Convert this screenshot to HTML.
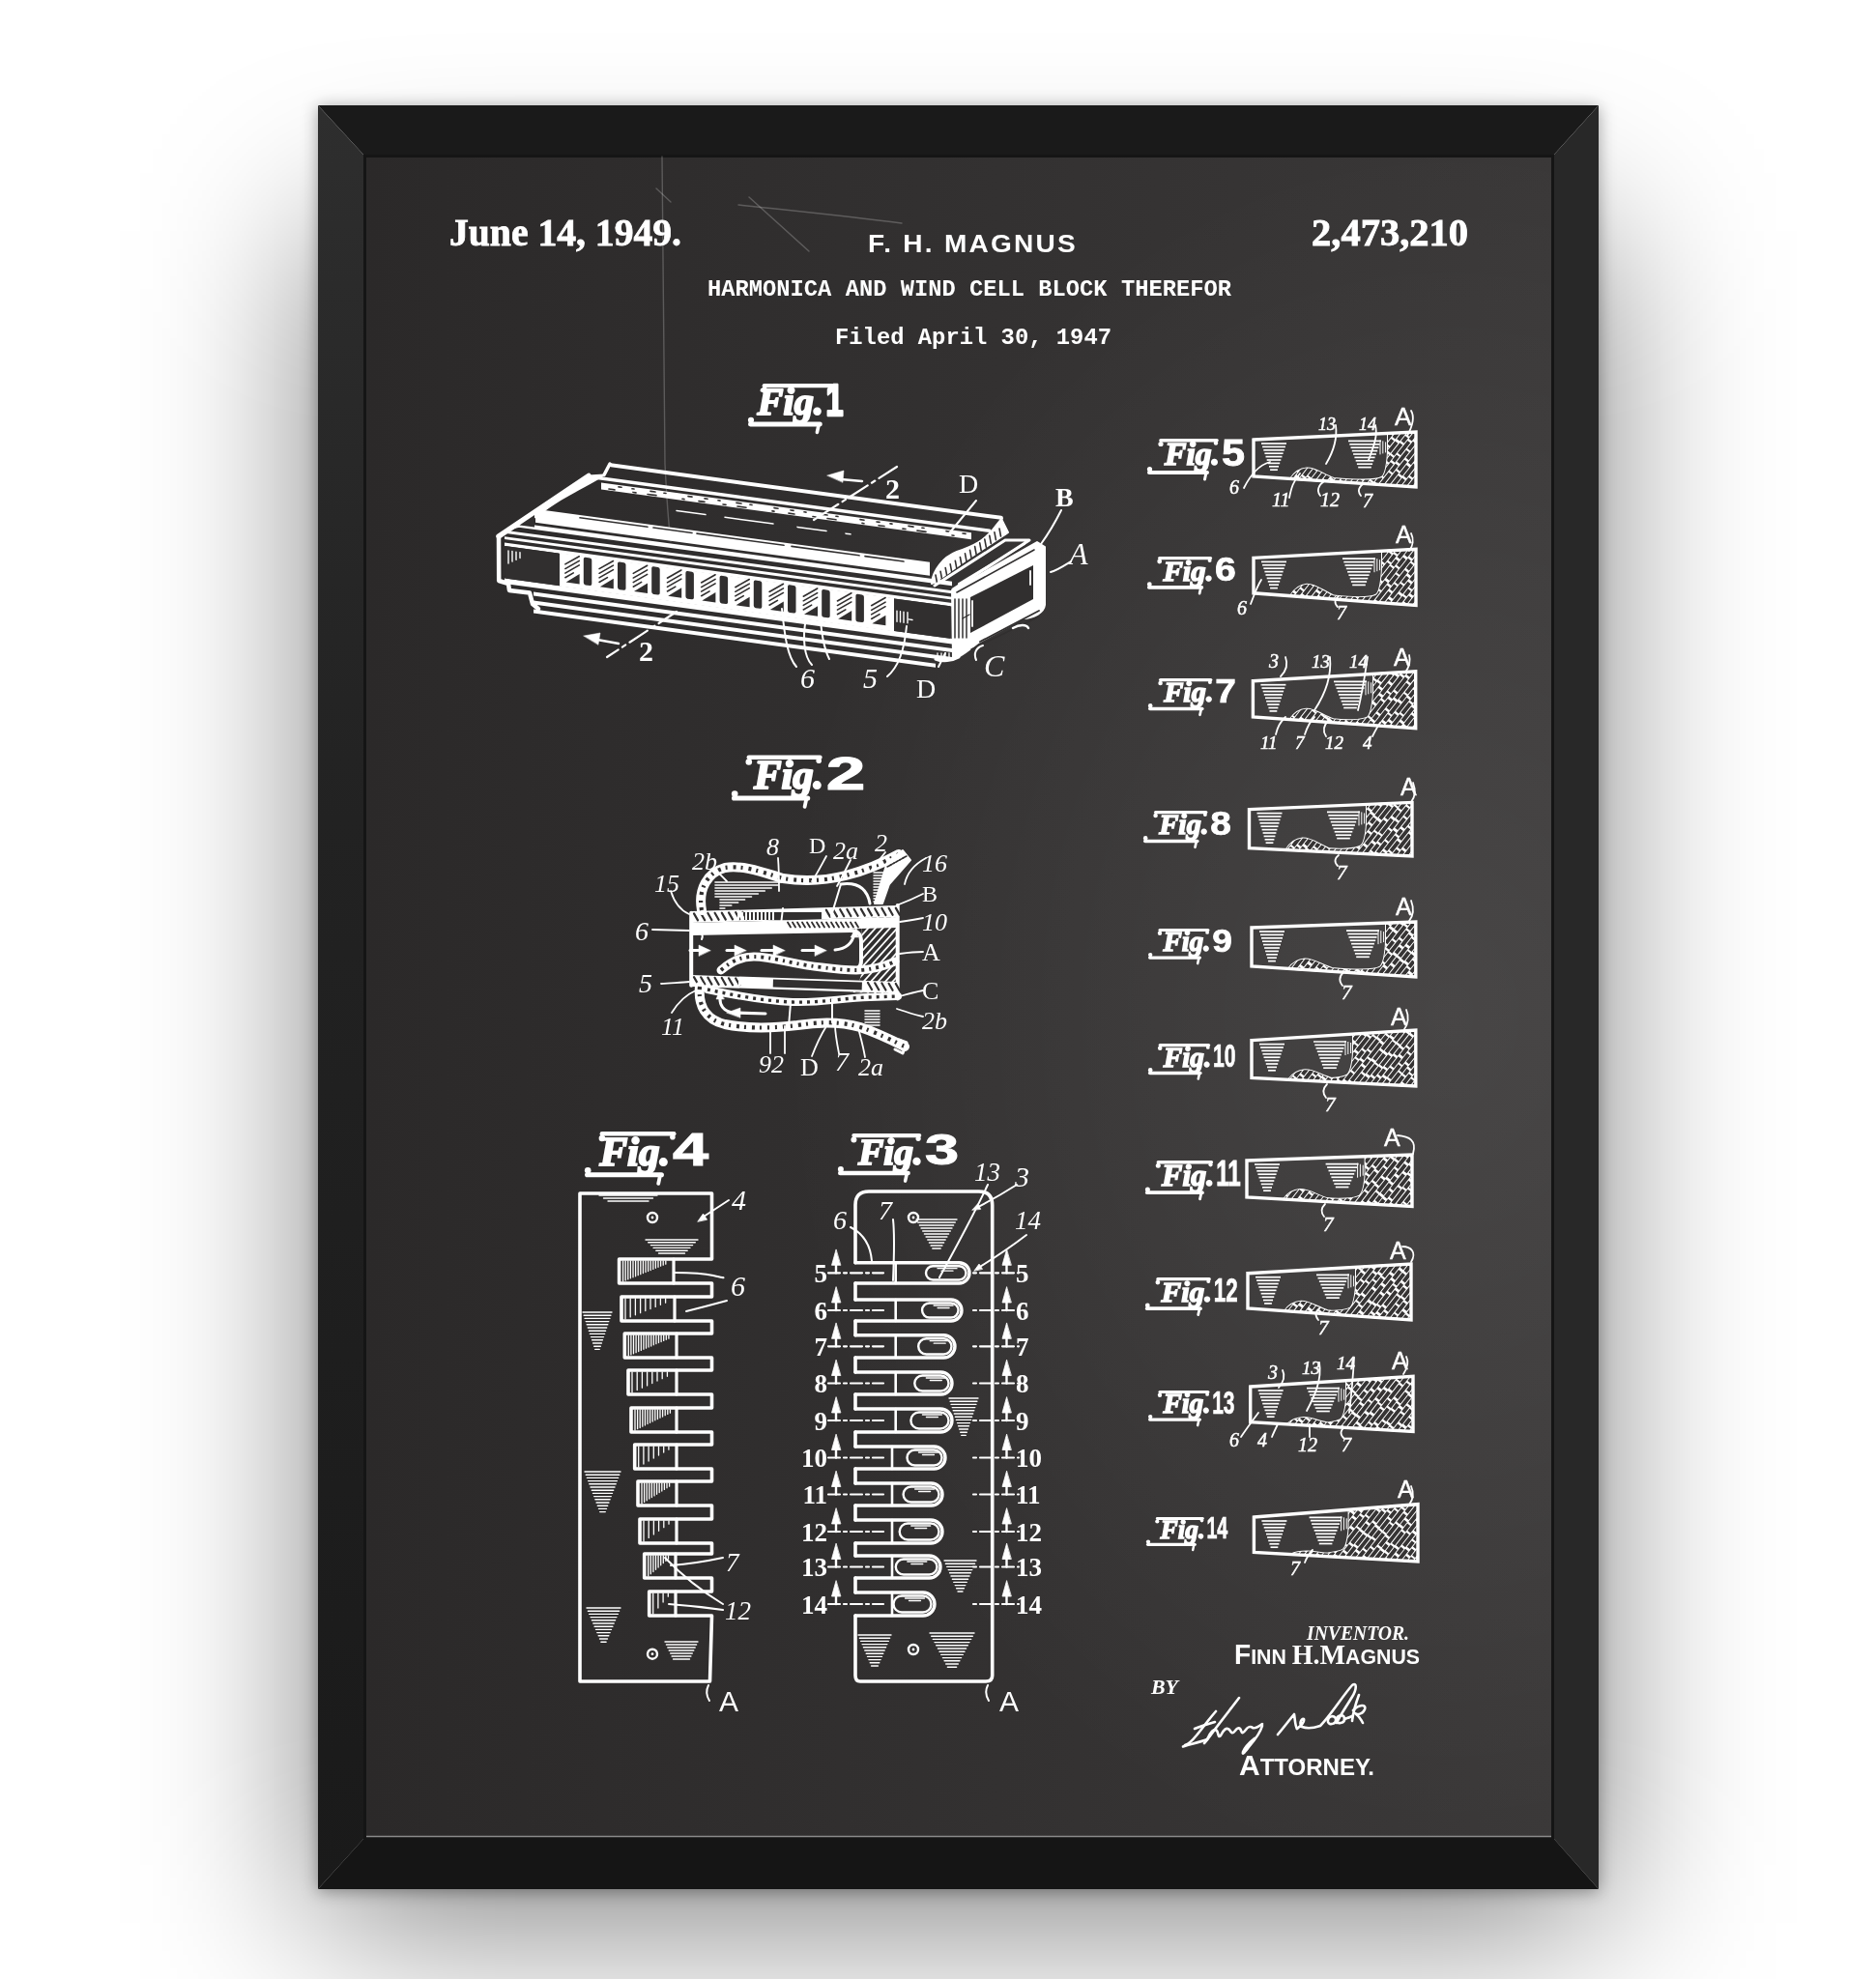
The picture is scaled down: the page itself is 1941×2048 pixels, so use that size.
<!DOCTYPE html>
<html><head><meta charset="utf-8">
<style>
html,body{margin:0;padding:0;}
body{width:1941px;height:2048px;overflow:hidden;position:relative;background:#fdfdfd;font-family:"Liberation Sans",sans-serif;}
#bgshade{position:absolute;left:0;top:0;width:1941px;height:2048px;
 background:#ffffff;}
#sh0{position:absolute;left:329px;top:239px;width:1325px;height:1751px;
 background:rgba(0,0,0,0.5);filter:blur(90px);}
#sh1{position:absolute;left:329px;top:109px;width:1325px;height:1846px;
 box-shadow:0 2px 16px 0 rgba(0,0,0,0.36);}
svg{position:absolute;left:0;top:0;will-change:transform;}
</style></head>
<body>
<div id="bgshade"></div>
<div id="sh0"></div>
<div id="sh1"></div>
<svg width="1941" height="2048" viewBox="0 0 1941 2048">
<defs>
 <linearGradient id="bd" x1="0" y1="0" x2="1" y2="0">
  <stop offset="0" stop-color="#2b2929"/>
  <stop offset="1" stop-color="#3a3838"/>
 </linearGradient>
 <radialGradient id="bump" gradientUnits="userSpaceOnUse" cx="1500" cy="1050" r="700" gradientTransform="translate(1500 1050) scale(1 1.3) translate(-1500 -1050)">
  <stop offset="0" stop-color="#fff" stop-opacity="0.075"/>
  <stop offset="0.5" stop-color="#fff" stop-opacity="0.04"/>
  <stop offset="1" stop-color="#fff" stop-opacity="0"/>
 </radialGradient>
 <linearGradient id="lb" x1="0" y1="0" x2="0" y2="1">
  <stop offset="0" stop-color="#2e2e2e"/>
  <stop offset="0.4" stop-color="#222"/>
  <stop offset="1" stop-color="#1a1a1a"/>
 </linearGradient>
</defs>
<polygon points="329,109 1654,109 1607,161 377,161" fill="#1a1a1a"/>
<polygon points="329,109 377,161 377,1902 329,1955" fill="url(#lb)"/>
<polygon points="1654,109 1607,161 1607,1902 1654,1955" fill="#282828"/>
<polygon points="329,1955 377,1902 1607,1902 1654,1955" fill="#151515"/>
<rect x="377" y="161" width="1230" height="1741" fill="url(#bd)"/>
<rect x="377" y="161" width="1230" height="1741" fill="url(#bump)"/>
<rect x="377.5" y="161.5" width="1229" height="1740" fill="none" stroke="#151515" stroke-width="3"/>
<line x1="379" y1="1900.5" x2="1605" y2="1900.5" stroke="#8a8a8a" stroke-width="1.5"/>
<g fill="none" stroke="#fff" stroke-opacity="0.22" stroke-width="1.4" stroke-linecap="round">
 <path d="M685,162 C686,260 687,380 688,480 C690,520 692,545 694,560"/>
 <path d="M679,195 L694,209"/>
 <path d="M764,212 C820,218 880,224 933,231"/>
 <path d="M775,204 C795,222 815,240 837,260"/>
</g>
<g fill="#fff" stroke="none">
 <text x="465" y="254" font-family="Liberation Serif" font-weight="bold" font-size="40" stroke="#fff" stroke-width="0.8" textLength="240" lengthAdjust="spacingAndGlyphs">June 14, 1949.</text>
 <text x="1357" y="254" font-family="Liberation Serif" font-weight="bold" font-size="40" stroke="#fff" stroke-width="0.8" textLength="162" lengthAdjust="spacingAndGlyphs">2,473,210</text>
 <text x="898" y="261" font-family="Liberation Sans" font-weight="bold" font-size="25" textLength="217" lengthAdjust="spacingAndGlyphs" letter-spacing="2">F. H. MAGNUS</text>
 <text x="732" y="306" font-family="Liberation Mono" font-weight="bold" font-size="23" textLength="542" lengthAdjust="spacingAndGlyphs">HARMONICA AND WIND CELL BLOCK THEREFOR</text>
 <text x="864" y="356" font-family="Liberation Mono" font-weight="bold" font-size="23" textLength="286" lengthAdjust="spacingAndGlyphs">Filed April 30, 1947</text>
</g>
<g stroke="#fff" fill="#fff">
<g fill="none">
<clipPath id="c1297_455"><path d="M1436.0,448.4 L1465.0,447.0 L1465.0,504.0 L1335.0,495.5 C1339.0,489.2 1345.0,485.0 1352.0,484.5 C1360.0,483.9 1368.0,490.3 1380.0,494.9 C1406.0,497.1 1424.0,497.3 1430.0,493.7 C1435.0,490.1 1436.0,469.3 1436.0,465.5 Z"/></clipPath>
<path d="M1436.0,448.4 L1465.0,447.0 L1465.0,504.0 L1335.0,495.5 C1339.0,489.2 1345.0,485.0 1352.0,484.5 C1360.0,483.9 1368.0,490.3 1380.0,494.9 C1406.0,497.1 1424.0,497.3 1430.0,493.7 C1435.0,490.1 1436.0,469.3 1436.0,465.5 Z" fill="#fff" stroke="#fff" stroke-width="2"/>
<g clip-path="url(#c1297_455)">
<line x1="1242.6" y1="510.0" x2="1297.6" y2="440.0" stroke="#363434" stroke-width="3.9" stroke-dasharray="12.7,2.0,10.5,3.0" stroke-dashoffset="25.0"/>
<line x1="1248.8" y1="510.0" x2="1303.8" y2="440.0" stroke="#363434" stroke-width="3.9" stroke-dasharray="12.7,2.2,13.6,2.7" stroke-dashoffset="3.7"/>
<line x1="1255.0" y1="510.0" x2="1310.0" y2="440.0" stroke="#363434" stroke-width="3.9" stroke-dasharray="12.4,2.8,10.0,2.9" stroke-dashoffset="26.5"/>
<line x1="1261.2" y1="510.0" x2="1316.2" y2="440.0" stroke="#363434" stroke-width="3.9" stroke-dasharray="16.5,2.5,11.7,2.1" stroke-dashoffset="15.0"/>
<line x1="1267.4" y1="510.0" x2="1322.4" y2="440.0" stroke="#363434" stroke-width="3.9" stroke-dasharray="19.7,3.0,8.2,2.7" stroke-dashoffset="14.2"/>
<line x1="1273.6" y1="510.0" x2="1328.6" y2="440.0" stroke="#363434" stroke-width="3.9" stroke-dasharray="16.8,2.6,8.1,3.0" stroke-dashoffset="15.0"/>
<line x1="1279.8" y1="510.0" x2="1334.8" y2="440.0" stroke="#363434" stroke-width="3.9" stroke-dasharray="16.4,2.6,9.2,2.0" stroke-dashoffset="18.2"/>
<line x1="1286.0" y1="510.0" x2="1341.0" y2="440.0" stroke="#363434" stroke-width="3.9" stroke-dasharray="14.9,2.8,10.8,2.7" stroke-dashoffset="8.6"/>
<line x1="1292.2" y1="510.0" x2="1347.2" y2="440.0" stroke="#363434" stroke-width="3.9" stroke-dasharray="13.6,2.6,9.4,2.9" stroke-dashoffset="15.0"/>
<line x1="1298.4" y1="510.0" x2="1353.4" y2="440.0" stroke="#363434" stroke-width="3.9" stroke-dasharray="16.1,2.2,11.5,2.9" stroke-dashoffset="13.5"/>
<line x1="1304.6" y1="510.0" x2="1359.6" y2="440.0" stroke="#363434" stroke-width="3.9" stroke-dasharray="17.1,2.1,9.2,2.5" stroke-dashoffset="17.0"/>
<line x1="1310.8" y1="510.0" x2="1365.8" y2="440.0" stroke="#363434" stroke-width="3.9" stroke-dasharray="17.7,2.4,6.1,2.6" stroke-dashoffset="29.4"/>
<line x1="1317.0" y1="510.0" x2="1372.0" y2="440.0" stroke="#363434" stroke-width="3.9" stroke-dasharray="18.4,2.6,6.1,2.9" stroke-dashoffset="17.4"/>
<line x1="1323.2" y1="510.0" x2="1378.2" y2="440.0" stroke="#363434" stroke-width="3.9" stroke-dasharray="12.5,2.2,8.3,2.3" stroke-dashoffset="9.3"/>
<line x1="1329.4" y1="510.0" x2="1384.4" y2="440.0" stroke="#363434" stroke-width="3.9" stroke-dasharray="13.7,2.5,6.6,3.0" stroke-dashoffset="29.4"/>
<line x1="1335.6" y1="510.0" x2="1390.6" y2="440.0" stroke="#363434" stroke-width="3.9" stroke-dasharray="14.1,2.2,7.8,2.3" stroke-dashoffset="4.0"/>
<line x1="1341.8" y1="510.0" x2="1396.8" y2="440.0" stroke="#363434" stroke-width="3.9" stroke-dasharray="12.1,2.2,8.7,2.5" stroke-dashoffset="18.3"/>
<line x1="1348.0" y1="510.0" x2="1403.0" y2="440.0" stroke="#363434" stroke-width="3.9" stroke-dasharray="14.8,2.2,12.7,2.9" stroke-dashoffset="15.5"/>
<line x1="1354.2" y1="510.0" x2="1409.2" y2="440.0" stroke="#363434" stroke-width="3.9" stroke-dasharray="17.0,2.5,11.2,2.6" stroke-dashoffset="21.4"/>
<line x1="1360.4" y1="510.0" x2="1415.4" y2="440.0" stroke="#363434" stroke-width="3.9" stroke-dasharray="12.2,2.5,11.5,2.1" stroke-dashoffset="11.2"/>
<line x1="1366.6" y1="510.0" x2="1421.6" y2="440.0" stroke="#363434" stroke-width="3.9" stroke-dasharray="18.9,2.8,6.7,2.1" stroke-dashoffset="2.5"/>
<line x1="1372.8" y1="510.0" x2="1427.8" y2="440.0" stroke="#363434" stroke-width="3.9" stroke-dasharray="16.9,2.5,10.0,3.0" stroke-dashoffset="18.6"/>
<line x1="1379.0" y1="510.0" x2="1434.0" y2="440.0" stroke="#363434" stroke-width="3.9" stroke-dasharray="16.6,2.6,11.1,2.1" stroke-dashoffset="3.3"/>
<line x1="1385.2" y1="510.0" x2="1440.2" y2="440.0" stroke="#363434" stroke-width="3.9" stroke-dasharray="14.5,2.0,10.0,2.5" stroke-dashoffset="23.7"/>
<line x1="1391.4" y1="510.0" x2="1446.4" y2="440.0" stroke="#363434" stroke-width="3.9" stroke-dasharray="15.2,2.7,6.4,2.3" stroke-dashoffset="17.9"/>
<line x1="1397.6" y1="510.0" x2="1452.6" y2="440.0" stroke="#363434" stroke-width="3.9" stroke-dasharray="15.2,2.1,6.7,2.3" stroke-dashoffset="6.8"/>
<line x1="1403.8" y1="510.0" x2="1458.8" y2="440.0" stroke="#363434" stroke-width="3.9" stroke-dasharray="12.5,2.6,12.6,2.9" stroke-dashoffset="22.3"/>
<line x1="1410.0" y1="510.0" x2="1465.0" y2="440.0" stroke="#363434" stroke-width="3.9" stroke-dasharray="14.2,2.3,6.7,2.1" stroke-dashoffset="25.7"/>
<line x1="1416.2" y1="510.0" x2="1471.2" y2="440.0" stroke="#363434" stroke-width="3.9" stroke-dasharray="16.4,2.4,7.5,2.0" stroke-dashoffset="5.8"/>
<line x1="1422.4" y1="510.0" x2="1477.4" y2="440.0" stroke="#363434" stroke-width="3.9" stroke-dasharray="15.3,2.0,9.4,2.6" stroke-dashoffset="19.0"/>
<line x1="1428.6" y1="510.0" x2="1483.6" y2="440.0" stroke="#363434" stroke-width="3.9" stroke-dasharray="17.7,2.1,12.3,2.4" stroke-dashoffset="24.5"/>
<line x1="1434.8" y1="510.0" x2="1489.8" y2="440.0" stroke="#363434" stroke-width="3.9" stroke-dasharray="14.8,2.4,11.5,2.9" stroke-dashoffset="25.1"/>
<line x1="1441.0" y1="510.0" x2="1496.0" y2="440.0" stroke="#363434" stroke-width="3.9" stroke-dasharray="16.5,2.8,12.7,2.4" stroke-dashoffset="13.8"/>
<line x1="1447.2" y1="510.0" x2="1502.2" y2="440.0" stroke="#363434" stroke-width="3.9" stroke-dasharray="12.5,2.2,10.8,2.3" stroke-dashoffset="21.4"/>
<line x1="1453.4" y1="510.0" x2="1508.4" y2="440.0" stroke="#363434" stroke-width="3.9" stroke-dasharray="12.1,2.4,11.8,2.5" stroke-dashoffset="21.7"/>
<line x1="1459.6" y1="510.0" x2="1514.6" y2="440.0" stroke="#363434" stroke-width="3.9" stroke-dasharray="15.8,2.8,11.9,2.1" stroke-dashoffset="13.6"/>
<line x1="1465.8" y1="510.0" x2="1520.8" y2="440.0" stroke="#363434" stroke-width="3.9" stroke-dasharray="16.9,2.7,7.9,2.1" stroke-dashoffset="5.5"/>
<line x1="1472.0" y1="510.0" x2="1527.0" y2="440.0" stroke="#363434" stroke-width="3.9" stroke-dasharray="17.5,3.0,10.2,2.8" stroke-dashoffset="9.0"/>
<line x1="1478.2" y1="510.0" x2="1533.2" y2="440.0" stroke="#363434" stroke-width="3.9" stroke-dasharray="14.9,2.4,11.9,2.7" stroke-dashoffset="15.7"/>
<line x1="1484.4" y1="510.0" x2="1539.4" y2="440.0" stroke="#363434" stroke-width="3.9" stroke-dasharray="18.2,2.2,9.0,2.8" stroke-dashoffset="1.0"/>
<line x1="1490.6" y1="510.0" x2="1545.6" y2="440.0" stroke="#363434" stroke-width="3.9" stroke-dasharray="19.3,2.8,8.6,2.5" stroke-dashoffset="5.2"/>
<line x1="1496.8" y1="510.0" x2="1551.8" y2="440.0" stroke="#363434" stroke-width="3.9" stroke-dasharray="17.0,2.3,10.0,2.2" stroke-dashoffset="10.6"/>
<line x1="1503.0" y1="510.0" x2="1558.0" y2="440.0" stroke="#363434" stroke-width="3.9" stroke-dasharray="18.9,2.3,11.4,2.6" stroke-dashoffset="16.2"/>
<line x1="1509.2" y1="510.0" x2="1564.2" y2="440.0" stroke="#363434" stroke-width="3.9" stroke-dasharray="15.6,2.9,11.9,2.3" stroke-dashoffset="27.1"/>
<line x1="1515.4" y1="510.0" x2="1570.4" y2="440.0" stroke="#363434" stroke-width="3.9" stroke-dasharray="19.7,2.0,10.1,2.0" stroke-dashoffset="20.5"/>
<line x1="1521.6" y1="510.0" x2="1576.6" y2="440.0" stroke="#363434" stroke-width="3.9" stroke-dasharray="16.6,2.7,11.9,2.6" stroke-dashoffset="10.2"/>
<line x1="1527.8" y1="510.0" x2="1582.8" y2="440.0" stroke="#363434" stroke-width="3.9" stroke-dasharray="16.1,2.9,8.4,2.8" stroke-dashoffset="9.1"/>
<line x1="1534.0" y1="510.0" x2="1589.0" y2="440.0" stroke="#363434" stroke-width="3.9" stroke-dasharray="17.3,2.5,12.7,2.5" stroke-dashoffset="22.0"/>
<line x1="1540.2" y1="510.0" x2="1595.2" y2="440.0" stroke="#363434" stroke-width="3.9" stroke-dasharray="15.8,2.0,12.1,2.1" stroke-dashoffset="7.2"/>
<line x1="1546.4" y1="510.0" x2="1601.4" y2="440.0" stroke="#363434" stroke-width="3.9" stroke-dasharray="12.9,2.5,10.7,2.3" stroke-dashoffset="19.2"/>
<line x1="1552.6" y1="510.0" x2="1607.6" y2="440.0" stroke="#363434" stroke-width="3.9" stroke-dasharray="12.9,2.4,11.3,2.4" stroke-dashoffset="4.7"/>
<line x1="1558.8" y1="510.0" x2="1613.8" y2="440.0" stroke="#363434" stroke-width="3.9" stroke-dasharray="12.2,2.7,6.1,2.4" stroke-dashoffset="20.8"/>
</g>
<line x1="1305.0" y1="459.0" x2="1331.0" y2="459.0" stroke-width="1.7" />
<line x1="1306.1" y1="462.4" x2="1329.9" y2="462.4" stroke-width="1.7" />
<line x1="1307.3" y1="465.8" x2="1328.7" y2="465.8" stroke-width="1.7" />
<line x1="1308.4" y1="469.2" x2="1327.6" y2="469.2" stroke-width="1.7" />
<line x1="1309.5" y1="472.6" x2="1326.5" y2="472.6" stroke-width="1.7" />
<line x1="1310.7" y1="476.0" x2="1325.3" y2="476.0" stroke-width="1.7" />
<line x1="1311.8" y1="479.4" x2="1324.2" y2="479.4" stroke-width="1.7" />
<line x1="1313.0" y1="482.8" x2="1323.0" y2="482.8" stroke-width="1.7" />
<line x1="1314.1" y1="486.2" x2="1321.9" y2="486.2" stroke-width="1.7" />
<line x1="1395.0" y1="456.4" x2="1429.0" y2="456.4" stroke-width="1.7" />
<line x1="1396.3" y1="459.8" x2="1427.7" y2="459.8" stroke-width="1.7" />
<line x1="1397.5" y1="463.2" x2="1426.5" y2="463.2" stroke-width="1.7" />
<line x1="1398.8" y1="466.6" x2="1425.2" y2="466.6" stroke-width="1.7" />
<line x1="1400.1" y1="470.0" x2="1423.9" y2="470.0" stroke-width="1.7" />
<line x1="1401.4" y1="473.4" x2="1422.6" y2="473.4" stroke-width="1.7" />
<line x1="1402.7" y1="476.8" x2="1421.3" y2="476.8" stroke-width="1.7" />
<line x1="1403.9" y1="480.2" x2="1420.1" y2="480.2" stroke-width="1.7" />
<line x1="1405.2" y1="483.6" x2="1418.8" y2="483.6" stroke-width="1.7" />
<line x1="1428.0" y1="455.4" x2="1428.0" y2="470.4" stroke-width="1.0" />
<line x1="1430.8" y1="456.4" x2="1430.8" y2="469.4" stroke-width="1.0" />
<line x1="1433.6" y1="457.4" x2="1433.6" y2="468.4" stroke-width="1.0" />
<polygon points="1297.0,455.0 1465.0,447.0 1465.0,504.0 1297.0,493.0" stroke-width="3.4" fill="none" />
<clipPath id="c1297_577"><path d="M1430.0,570.2 L1465.0,568.3 L1465.0,626.5 L1335.0,616.7 C1339.0,609.8 1345.0,605.3 1352.0,604.7 C1360.0,604.1 1368.0,611.1 1380.0,616.6 C1400.0,618.6 1418.0,618.9 1424.0,615.4 C1429.0,611.9 1430.0,590.2 1430.0,586.6 Z"/></clipPath>
<path d="M1430.0,570.2 L1465.0,568.3 L1465.0,626.5 L1335.0,616.7 C1339.0,609.8 1345.0,605.3 1352.0,604.7 C1360.0,604.1 1368.0,611.1 1380.0,616.6 C1400.0,618.6 1418.0,618.9 1424.0,615.4 C1429.0,611.9 1430.0,590.2 1430.0,586.6 Z" fill="#fff" stroke="#fff" stroke-width="2"/>
<g clip-path="url(#c1297_577)">
<line x1="1242.6" y1="632.5" x2="1297.6" y2="562.5" stroke="#363434" stroke-width="3.9" stroke-dasharray="15.1,2.8,7.9,2.4" stroke-dashoffset="18.8"/>
<line x1="1248.8" y1="632.5" x2="1303.8" y2="562.5" stroke="#363434" stroke-width="3.9" stroke-dasharray="19.4,2.9,6.7,2.5" stroke-dashoffset="7.7"/>
<line x1="1255.0" y1="632.5" x2="1310.0" y2="562.5" stroke="#363434" stroke-width="3.9" stroke-dasharray="12.4,2.2,13.2,2.0" stroke-dashoffset="16.3"/>
<line x1="1261.2" y1="632.5" x2="1316.2" y2="562.5" stroke="#363434" stroke-width="3.9" stroke-dasharray="17.5,2.1,10.8,2.5" stroke-dashoffset="0.2"/>
<line x1="1267.4" y1="632.5" x2="1322.4" y2="562.5" stroke="#363434" stroke-width="3.9" stroke-dasharray="19.5,2.8,9.9,2.6" stroke-dashoffset="21.3"/>
<line x1="1273.6" y1="632.5" x2="1328.6" y2="562.5" stroke="#363434" stroke-width="3.9" stroke-dasharray="19.0,2.5,9.4,2.9" stroke-dashoffset="11.6"/>
<line x1="1279.8" y1="632.5" x2="1334.8" y2="562.5" stroke="#363434" stroke-width="3.9" stroke-dasharray="14.5,2.4,12.8,2.9" stroke-dashoffset="6.5"/>
<line x1="1286.0" y1="632.5" x2="1341.0" y2="562.5" stroke="#363434" stroke-width="3.9" stroke-dasharray="16.5,2.2,13.3,2.3" stroke-dashoffset="10.2"/>
<line x1="1292.2" y1="632.5" x2="1347.2" y2="562.5" stroke="#363434" stroke-width="3.9" stroke-dasharray="16.0,2.5,6.7,2.9" stroke-dashoffset="26.4"/>
<line x1="1298.4" y1="632.5" x2="1353.4" y2="562.5" stroke="#363434" stroke-width="3.9" stroke-dasharray="14.2,2.4,6.5,2.1" stroke-dashoffset="21.3"/>
<line x1="1304.6" y1="632.5" x2="1359.6" y2="562.5" stroke="#363434" stroke-width="3.9" stroke-dasharray="19.2,2.6,11.5,2.9" stroke-dashoffset="28.2"/>
<line x1="1310.8" y1="632.5" x2="1365.8" y2="562.5" stroke="#363434" stroke-width="3.9" stroke-dasharray="16.2,2.1,12.5,2.2" stroke-dashoffset="19.1"/>
<line x1="1317.0" y1="632.5" x2="1372.0" y2="562.5" stroke="#363434" stroke-width="3.9" stroke-dasharray="18.4,2.4,13.3,2.6" stroke-dashoffset="7.5"/>
<line x1="1323.2" y1="632.5" x2="1378.2" y2="562.5" stroke="#363434" stroke-width="3.9" stroke-dasharray="17.4,2.1,9.0,2.7" stroke-dashoffset="4.3"/>
<line x1="1329.4" y1="632.5" x2="1384.4" y2="562.5" stroke="#363434" stroke-width="3.9" stroke-dasharray="12.8,2.4,10.0,2.1" stroke-dashoffset="24.8"/>
<line x1="1335.6" y1="632.5" x2="1390.6" y2="562.5" stroke="#363434" stroke-width="3.9" stroke-dasharray="12.6,2.1,6.1,2.4" stroke-dashoffset="24.6"/>
<line x1="1341.8" y1="632.5" x2="1396.8" y2="562.5" stroke="#363434" stroke-width="3.9" stroke-dasharray="16.6,2.0,13.0,2.1" stroke-dashoffset="14.1"/>
<line x1="1348.0" y1="632.5" x2="1403.0" y2="562.5" stroke="#363434" stroke-width="3.9" stroke-dasharray="19.7,2.6,6.6,2.6" stroke-dashoffset="4.6"/>
<line x1="1354.2" y1="632.5" x2="1409.2" y2="562.5" stroke="#363434" stroke-width="3.9" stroke-dasharray="15.2,2.8,9.6,2.2" stroke-dashoffset="10.3"/>
<line x1="1360.4" y1="632.5" x2="1415.4" y2="562.5" stroke="#363434" stroke-width="3.9" stroke-dasharray="12.0,2.6,10.1,2.7" stroke-dashoffset="10.6"/>
<line x1="1366.6" y1="632.5" x2="1421.6" y2="562.5" stroke="#363434" stroke-width="3.9" stroke-dasharray="18.4,2.3,10.9,2.5" stroke-dashoffset="5.5"/>
<line x1="1372.8" y1="632.5" x2="1427.8" y2="562.5" stroke="#363434" stroke-width="3.9" stroke-dasharray="14.9,2.0,13.9,2.2" stroke-dashoffset="26.8"/>
<line x1="1379.0" y1="632.5" x2="1434.0" y2="562.5" stroke="#363434" stroke-width="3.9" stroke-dasharray="15.2,2.8,12.2,2.9" stroke-dashoffset="24.9"/>
<line x1="1385.2" y1="632.5" x2="1440.2" y2="562.5" stroke="#363434" stroke-width="3.9" stroke-dasharray="15.6,2.2,13.7,2.4" stroke-dashoffset="20.4"/>
<line x1="1391.4" y1="632.5" x2="1446.4" y2="562.5" stroke="#363434" stroke-width="3.9" stroke-dasharray="12.8,2.4,11.3,2.4" stroke-dashoffset="8.4"/>
<line x1="1397.6" y1="632.5" x2="1452.6" y2="562.5" stroke="#363434" stroke-width="3.9" stroke-dasharray="19.1,2.2,8.6,2.2" stroke-dashoffset="20.2"/>
<line x1="1403.8" y1="632.5" x2="1458.8" y2="562.5" stroke="#363434" stroke-width="3.9" stroke-dasharray="16.9,2.1,7.3,2.8" stroke-dashoffset="17.3"/>
<line x1="1410.0" y1="632.5" x2="1465.0" y2="562.5" stroke="#363434" stroke-width="3.9" stroke-dasharray="14.9,2.3,10.4,2.8" stroke-dashoffset="18.8"/>
<line x1="1416.2" y1="632.5" x2="1471.2" y2="562.5" stroke="#363434" stroke-width="3.9" stroke-dasharray="18.9,2.5,12.0,2.0" stroke-dashoffset="21.6"/>
<line x1="1422.4" y1="632.5" x2="1477.4" y2="562.5" stroke="#363434" stroke-width="3.9" stroke-dasharray="15.9,2.5,7.0,2.1" stroke-dashoffset="18.4"/>
<line x1="1428.6" y1="632.5" x2="1483.6" y2="562.5" stroke="#363434" stroke-width="3.9" stroke-dasharray="17.3,2.0,8.2,2.9" stroke-dashoffset="12.7"/>
<line x1="1434.8" y1="632.5" x2="1489.8" y2="562.5" stroke="#363434" stroke-width="3.9" stroke-dasharray="14.4,2.7,13.5,2.7" stroke-dashoffset="26.3"/>
<line x1="1441.0" y1="632.5" x2="1496.0" y2="562.5" stroke="#363434" stroke-width="3.9" stroke-dasharray="15.1,2.2,7.2,2.1" stroke-dashoffset="23.1"/>
<line x1="1447.2" y1="632.5" x2="1502.2" y2="562.5" stroke="#363434" stroke-width="3.9" stroke-dasharray="19.7,2.4,7.6,2.9" stroke-dashoffset="10.8"/>
<line x1="1453.4" y1="632.5" x2="1508.4" y2="562.5" stroke="#363434" stroke-width="3.9" stroke-dasharray="17.0,2.8,8.2,2.2" stroke-dashoffset="25.4"/>
<line x1="1459.6" y1="632.5" x2="1514.6" y2="562.5" stroke="#363434" stroke-width="3.9" stroke-dasharray="16.6,2.6,11.6,2.5" stroke-dashoffset="1.7"/>
<line x1="1465.8" y1="632.5" x2="1520.8" y2="562.5" stroke="#363434" stroke-width="3.9" stroke-dasharray="13.1,2.3,9.5,2.4" stroke-dashoffset="5.3"/>
<line x1="1472.0" y1="632.5" x2="1527.0" y2="562.5" stroke="#363434" stroke-width="3.9" stroke-dasharray="16.5,2.2,11.5,2.1" stroke-dashoffset="18.4"/>
<line x1="1478.2" y1="632.5" x2="1533.2" y2="562.5" stroke="#363434" stroke-width="3.9" stroke-dasharray="19.2,2.4,12.2,2.7" stroke-dashoffset="28.9"/>
<line x1="1484.4" y1="632.5" x2="1539.4" y2="562.5" stroke="#363434" stroke-width="3.9" stroke-dasharray="13.0,3.0,13.2,2.9" stroke-dashoffset="17.5"/>
<line x1="1490.6" y1="632.5" x2="1545.6" y2="562.5" stroke="#363434" stroke-width="3.9" stroke-dasharray="13.0,2.9,12.1,2.8" stroke-dashoffset="13.8"/>
<line x1="1496.8" y1="632.5" x2="1551.8" y2="562.5" stroke="#363434" stroke-width="3.9" stroke-dasharray="19.5,2.1,13.0,2.4" stroke-dashoffset="4.2"/>
<line x1="1503.0" y1="632.5" x2="1558.0" y2="562.5" stroke="#363434" stroke-width="3.9" stroke-dasharray="17.7,2.4,7.3,2.6" stroke-dashoffset="25.4"/>
<line x1="1509.2" y1="632.5" x2="1564.2" y2="562.5" stroke="#363434" stroke-width="3.9" stroke-dasharray="17.4,2.7,6.9,2.8" stroke-dashoffset="24.5"/>
<line x1="1515.4" y1="632.5" x2="1570.4" y2="562.5" stroke="#363434" stroke-width="3.9" stroke-dasharray="16.3,2.4,10.2,2.3" stroke-dashoffset="27.1"/>
<line x1="1521.6" y1="632.5" x2="1576.6" y2="562.5" stroke="#363434" stroke-width="3.9" stroke-dasharray="15.2,2.7,10.9,2.7" stroke-dashoffset="17.5"/>
<line x1="1527.8" y1="632.5" x2="1582.8" y2="562.5" stroke="#363434" stroke-width="3.9" stroke-dasharray="18.8,2.4,6.7,2.8" stroke-dashoffset="20.0"/>
<line x1="1534.0" y1="632.5" x2="1589.0" y2="562.5" stroke="#363434" stroke-width="3.9" stroke-dasharray="14.7,2.0,13.9,2.0" stroke-dashoffset="2.7"/>
<line x1="1540.2" y1="632.5" x2="1595.2" y2="562.5" stroke="#363434" stroke-width="3.9" stroke-dasharray="14.9,2.3,8.6,2.1" stroke-dashoffset="7.9"/>
<line x1="1546.4" y1="632.5" x2="1601.4" y2="562.5" stroke="#363434" stroke-width="3.9" stroke-dasharray="16.7,2.4,8.5,2.3" stroke-dashoffset="9.9"/>
<line x1="1552.6" y1="632.5" x2="1607.6" y2="562.5" stroke="#363434" stroke-width="3.9" stroke-dasharray="16.6,2.5,8.7,2.8" stroke-dashoffset="28.2"/>
<line x1="1558.8" y1="632.5" x2="1613.8" y2="562.5" stroke="#363434" stroke-width="3.9" stroke-dasharray="16.3,2.8,6.8,2.8" stroke-dashoffset="3.0"/>
</g>
<line x1="1305.0" y1="581.4" x2="1331.0" y2="581.4" stroke-width="1.7" />
<line x1="1306.1" y1="584.8" x2="1329.9" y2="584.8" stroke-width="1.7" />
<line x1="1307.3" y1="588.2" x2="1328.7" y2="588.2" stroke-width="1.7" />
<line x1="1308.4" y1="591.6" x2="1327.6" y2="591.6" stroke-width="1.7" />
<line x1="1309.5" y1="595.0" x2="1326.5" y2="595.0" stroke-width="1.7" />
<line x1="1310.7" y1="598.4" x2="1325.3" y2="598.4" stroke-width="1.7" />
<line x1="1311.8" y1="601.8" x2="1324.2" y2="601.8" stroke-width="1.7" />
<line x1="1313.0" y1="605.2" x2="1323.0" y2="605.2" stroke-width="1.7" />
<line x1="1314.1" y1="608.6" x2="1321.9" y2="608.6" stroke-width="1.7" />
<line x1="1389.0" y1="578.2" x2="1423.0" y2="578.2" stroke-width="1.7" />
<line x1="1390.3" y1="581.6" x2="1421.7" y2="581.6" stroke-width="1.7" />
<line x1="1391.5" y1="585.0" x2="1420.5" y2="585.0" stroke-width="1.7" />
<line x1="1392.8" y1="588.4" x2="1419.2" y2="588.4" stroke-width="1.7" />
<line x1="1394.1" y1="591.8" x2="1417.9" y2="591.8" stroke-width="1.7" />
<line x1="1395.4" y1="595.2" x2="1416.6" y2="595.2" stroke-width="1.7" />
<line x1="1396.7" y1="598.6" x2="1415.3" y2="598.6" stroke-width="1.7" />
<line x1="1397.9" y1="602.0" x2="1414.1" y2="602.0" stroke-width="1.7" />
<line x1="1399.2" y1="605.4" x2="1412.8" y2="605.4" stroke-width="1.7" />
<line x1="1422.0" y1="577.2" x2="1422.0" y2="592.2" stroke-width="1.0" />
<line x1="1424.8" y1="578.2" x2="1424.8" y2="591.2" stroke-width="1.0" />
<line x1="1427.6" y1="579.2" x2="1427.6" y2="590.2" stroke-width="1.0" />
<polygon points="1297.0,577.4 1465.0,568.3 1465.0,626.5 1297.0,613.8" stroke-width="3.4" fill="none" />
<clipPath id="c1296_704"><path d="M1421.0,697.3 L1464.7,694.7 L1464.7,753.8 L1334.4,744.7 C1338.4,738.4 1344.4,734.2 1351.4,733.7 C1359.4,733.1 1367.4,739.6 1379.4,744.3 C1391.0,745.6 1409.0,745.9 1415.0,742.3 C1420.0,738.7 1421.0,717.8 1421.0,714.1 Z"/></clipPath>
<path d="M1421.0,697.3 L1464.7,694.7 L1464.7,753.8 L1334.4,744.7 C1338.4,738.4 1344.4,734.2 1351.4,733.7 C1359.4,733.1 1367.4,739.6 1379.4,744.3 C1391.0,745.6 1409.0,745.9 1415.0,742.3 C1420.0,738.7 1421.0,717.8 1421.0,714.1 Z" fill="#fff" stroke="#fff" stroke-width="2"/>
<g clip-path="url(#c1296_704)">
<line x1="1242.0" y1="759.8" x2="1297.0" y2="689.8" stroke="#363434" stroke-width="3.9" stroke-dasharray="15.1,2.9,6.4,2.5" stroke-dashoffset="27.4"/>
<line x1="1248.2" y1="759.8" x2="1303.2" y2="689.8" stroke="#363434" stroke-width="3.9" stroke-dasharray="18.0,2.2,13.7,2.6" stroke-dashoffset="0.5"/>
<line x1="1254.4" y1="759.8" x2="1309.4" y2="689.8" stroke="#363434" stroke-width="3.9" stroke-dasharray="13.3,2.5,9.8,2.4" stroke-dashoffset="0.1"/>
<line x1="1260.6" y1="759.8" x2="1315.6" y2="689.8" stroke="#363434" stroke-width="3.9" stroke-dasharray="18.3,2.2,10.8,2.5" stroke-dashoffset="24.3"/>
<line x1="1266.8" y1="759.8" x2="1321.8" y2="689.8" stroke="#363434" stroke-width="3.9" stroke-dasharray="13.4,2.5,8.7,2.2" stroke-dashoffset="23.3"/>
<line x1="1273.0" y1="759.8" x2="1328.0" y2="689.8" stroke="#363434" stroke-width="3.9" stroke-dasharray="13.2,2.8,7.5,2.1" stroke-dashoffset="0.5"/>
<line x1="1279.2" y1="759.8" x2="1334.2" y2="689.8" stroke="#363434" stroke-width="3.9" stroke-dasharray="19.0,2.9,9.8,2.1" stroke-dashoffset="6.1"/>
<line x1="1285.4" y1="759.8" x2="1340.4" y2="689.8" stroke="#363434" stroke-width="3.9" stroke-dasharray="17.2,2.6,8.8,2.1" stroke-dashoffset="21.3"/>
<line x1="1291.6" y1="759.8" x2="1346.6" y2="689.8" stroke="#363434" stroke-width="3.9" stroke-dasharray="13.9,3.0,9.4,2.5" stroke-dashoffset="8.9"/>
<line x1="1297.8" y1="759.8" x2="1352.8" y2="689.8" stroke="#363434" stroke-width="3.9" stroke-dasharray="14.6,2.9,12.0,2.1" stroke-dashoffset="27.0"/>
<line x1="1304.0" y1="759.8" x2="1359.0" y2="689.8" stroke="#363434" stroke-width="3.9" stroke-dasharray="18.4,2.2,6.3,2.2" stroke-dashoffset="3.8"/>
<line x1="1310.2" y1="759.8" x2="1365.2" y2="689.8" stroke="#363434" stroke-width="3.9" stroke-dasharray="17.2,2.2,13.8,2.5" stroke-dashoffset="18.6"/>
<line x1="1316.4" y1="759.8" x2="1371.4" y2="689.8" stroke="#363434" stroke-width="3.9" stroke-dasharray="15.2,2.6,8.4,2.7" stroke-dashoffset="18.4"/>
<line x1="1322.6" y1="759.8" x2="1377.6" y2="689.8" stroke="#363434" stroke-width="3.9" stroke-dasharray="18.7,2.1,7.0,2.0" stroke-dashoffset="4.9"/>
<line x1="1328.8" y1="759.8" x2="1383.8" y2="689.8" stroke="#363434" stroke-width="3.9" stroke-dasharray="19.5,3.0,12.0,2.2" stroke-dashoffset="19.0"/>
<line x1="1335.0" y1="759.8" x2="1390.0" y2="689.8" stroke="#363434" stroke-width="3.9" stroke-dasharray="16.5,2.9,13.9,2.5" stroke-dashoffset="14.6"/>
<line x1="1341.2" y1="759.8" x2="1396.2" y2="689.8" stroke="#363434" stroke-width="3.9" stroke-dasharray="14.7,2.1,13.3,2.8" stroke-dashoffset="18.7"/>
<line x1="1347.4" y1="759.8" x2="1402.4" y2="689.8" stroke="#363434" stroke-width="3.9" stroke-dasharray="15.4,2.2,12.1,2.8" stroke-dashoffset="0.5"/>
<line x1="1353.6" y1="759.8" x2="1408.6" y2="689.8" stroke="#363434" stroke-width="3.9" stroke-dasharray="17.2,2.4,11.2,2.3" stroke-dashoffset="7.2"/>
<line x1="1359.8" y1="759.8" x2="1414.8" y2="689.8" stroke="#363434" stroke-width="3.9" stroke-dasharray="12.8,2.6,7.9,2.6" stroke-dashoffset="18.8"/>
<line x1="1366.0" y1="759.8" x2="1421.0" y2="689.8" stroke="#363434" stroke-width="3.9" stroke-dasharray="18.9,2.5,8.2,2.3" stroke-dashoffset="2.5"/>
<line x1="1372.2" y1="759.8" x2="1427.2" y2="689.8" stroke="#363434" stroke-width="3.9" stroke-dasharray="16.2,2.5,11.9,2.9" stroke-dashoffset="27.9"/>
<line x1="1378.4" y1="759.8" x2="1433.4" y2="689.8" stroke="#363434" stroke-width="3.9" stroke-dasharray="17.8,2.3,8.5,2.3" stroke-dashoffset="9.2"/>
<line x1="1384.6" y1="759.8" x2="1439.6" y2="689.8" stroke="#363434" stroke-width="3.9" stroke-dasharray="18.7,2.2,13.6,2.6" stroke-dashoffset="4.3"/>
<line x1="1390.8" y1="759.8" x2="1445.8" y2="689.8" stroke="#363434" stroke-width="3.9" stroke-dasharray="16.9,2.2,13.6,2.6" stroke-dashoffset="8.7"/>
<line x1="1397.0" y1="759.8" x2="1452.0" y2="689.8" stroke="#363434" stroke-width="3.9" stroke-dasharray="12.8,2.9,8.1,2.9" stroke-dashoffset="0.7"/>
<line x1="1403.2" y1="759.8" x2="1458.2" y2="689.8" stroke="#363434" stroke-width="3.9" stroke-dasharray="20.0,2.4,7.9,2.2" stroke-dashoffset="9.2"/>
<line x1="1409.4" y1="759.8" x2="1464.4" y2="689.8" stroke="#363434" stroke-width="3.9" stroke-dasharray="17.2,2.7,6.5,2.5" stroke-dashoffset="0.8"/>
<line x1="1415.6" y1="759.8" x2="1470.6" y2="689.8" stroke="#363434" stroke-width="3.9" stroke-dasharray="19.4,2.5,10.9,2.7" stroke-dashoffset="24.3"/>
<line x1="1421.8" y1="759.8" x2="1476.8" y2="689.8" stroke="#363434" stroke-width="3.9" stroke-dasharray="14.3,2.9,7.6,2.1" stroke-dashoffset="26.7"/>
<line x1="1428.0" y1="759.8" x2="1483.0" y2="689.8" stroke="#363434" stroke-width="3.9" stroke-dasharray="18.1,2.7,8.0,2.4" stroke-dashoffset="2.6"/>
<line x1="1434.2" y1="759.8" x2="1489.2" y2="689.8" stroke="#363434" stroke-width="3.9" stroke-dasharray="13.5,2.1,13.5,2.1" stroke-dashoffset="4.2"/>
<line x1="1440.4" y1="759.8" x2="1495.4" y2="689.8" stroke="#363434" stroke-width="3.9" stroke-dasharray="17.1,2.9,11.1,2.8" stroke-dashoffset="16.4"/>
<line x1="1446.6" y1="759.8" x2="1501.6" y2="689.8" stroke="#363434" stroke-width="3.9" stroke-dasharray="12.2,2.6,8.4,2.7" stroke-dashoffset="13.8"/>
<line x1="1452.8" y1="759.8" x2="1507.8" y2="689.8" stroke="#363434" stroke-width="3.9" stroke-dasharray="16.2,2.0,11.8,2.2" stroke-dashoffset="28.8"/>
<line x1="1459.0" y1="759.8" x2="1514.0" y2="689.8" stroke="#363434" stroke-width="3.9" stroke-dasharray="19.5,2.6,12.8,2.4" stroke-dashoffset="15.2"/>
<line x1="1465.2" y1="759.8" x2="1520.2" y2="689.8" stroke="#363434" stroke-width="3.9" stroke-dasharray="13.8,2.4,7.5,2.6" stroke-dashoffset="10.4"/>
<line x1="1471.4" y1="759.8" x2="1526.4" y2="689.8" stroke="#363434" stroke-width="3.9" stroke-dasharray="14.4,2.2,10.9,2.6" stroke-dashoffset="6.8"/>
<line x1="1477.6" y1="759.8" x2="1532.6" y2="689.8" stroke="#363434" stroke-width="3.9" stroke-dasharray="18.7,2.9,6.4,2.8" stroke-dashoffset="17.5"/>
<line x1="1483.8" y1="759.8" x2="1538.8" y2="689.8" stroke="#363434" stroke-width="3.9" stroke-dasharray="12.8,2.7,10.6,2.9" stroke-dashoffset="19.3"/>
<line x1="1490.0" y1="759.8" x2="1545.0" y2="689.8" stroke="#363434" stroke-width="3.9" stroke-dasharray="18.7,2.1,7.0,2.4" stroke-dashoffset="0.7"/>
<line x1="1496.2" y1="759.8" x2="1551.2" y2="689.8" stroke="#363434" stroke-width="3.9" stroke-dasharray="19.7,2.1,13.7,2.1" stroke-dashoffset="8.3"/>
<line x1="1502.4" y1="759.8" x2="1557.4" y2="689.8" stroke="#363434" stroke-width="3.9" stroke-dasharray="19.6,2.7,13.9,2.9" stroke-dashoffset="4.1"/>
<line x1="1508.6" y1="759.8" x2="1563.6" y2="689.8" stroke="#363434" stroke-width="3.9" stroke-dasharray="12.8,2.5,7.8,2.8" stroke-dashoffset="5.3"/>
<line x1="1514.8" y1="759.8" x2="1569.8" y2="689.8" stroke="#363434" stroke-width="3.9" stroke-dasharray="14.3,2.2,11.7,2.2" stroke-dashoffset="14.1"/>
<line x1="1521.0" y1="759.8" x2="1576.0" y2="689.8" stroke="#363434" stroke-width="3.9" stroke-dasharray="16.6,3.0,13.0,2.4" stroke-dashoffset="24.1"/>
<line x1="1527.2" y1="759.8" x2="1582.2" y2="689.8" stroke="#363434" stroke-width="3.9" stroke-dasharray="13.7,2.7,10.5,2.4" stroke-dashoffset="21.1"/>
<line x1="1533.4" y1="759.8" x2="1588.4" y2="689.8" stroke="#363434" stroke-width="3.9" stroke-dasharray="14.3,2.9,8.8,2.6" stroke-dashoffset="20.8"/>
<line x1="1539.6" y1="759.8" x2="1594.6" y2="689.8" stroke="#363434" stroke-width="3.9" stroke-dasharray="14.0,2.7,11.5,2.1" stroke-dashoffset="11.4"/>
<line x1="1545.8" y1="759.8" x2="1600.8" y2="689.8" stroke="#363434" stroke-width="3.9" stroke-dasharray="12.9,2.7,13.9,2.1" stroke-dashoffset="2.9"/>
<line x1="1552.0" y1="759.8" x2="1607.0" y2="689.8" stroke="#363434" stroke-width="3.9" stroke-dasharray="18.7,2.5,10.9,2.5" stroke-dashoffset="22.5"/>
<line x1="1558.2" y1="759.8" x2="1613.2" y2="689.8" stroke="#363434" stroke-width="3.9" stroke-dasharray="17.1,2.0,9.1,2.9" stroke-dashoffset="24.0"/>
</g>
<line x1="1304.4" y1="708.7" x2="1330.4" y2="708.7" stroke-width="1.7" />
<line x1="1305.5" y1="712.1" x2="1329.3" y2="712.1" stroke-width="1.7" />
<line x1="1306.7" y1="715.5" x2="1328.1" y2="715.5" stroke-width="1.7" />
<line x1="1307.8" y1="718.9" x2="1327.0" y2="718.9" stroke-width="1.7" />
<line x1="1309.0" y1="722.3" x2="1325.9" y2="722.3" stroke-width="1.7" />
<line x1="1310.1" y1="725.7" x2="1324.7" y2="725.7" stroke-width="1.7" />
<line x1="1311.2" y1="729.1" x2="1323.6" y2="729.1" stroke-width="1.7" />
<line x1="1312.4" y1="732.5" x2="1322.4" y2="732.5" stroke-width="1.7" />
<line x1="1313.5" y1="735.9" x2="1321.3" y2="735.9" stroke-width="1.7" />
<line x1="1380.0" y1="705.3" x2="1414.0" y2="705.3" stroke-width="1.7" />
<line x1="1381.3" y1="708.7" x2="1412.7" y2="708.7" stroke-width="1.7" />
<line x1="1382.5" y1="712.1" x2="1411.5" y2="712.1" stroke-width="1.7" />
<line x1="1383.8" y1="715.5" x2="1410.2" y2="715.5" stroke-width="1.7" />
<line x1="1385.1" y1="718.9" x2="1408.9" y2="718.9" stroke-width="1.7" />
<line x1="1386.4" y1="722.3" x2="1407.6" y2="722.3" stroke-width="1.7" />
<line x1="1387.7" y1="725.7" x2="1406.3" y2="725.7" stroke-width="1.7" />
<line x1="1388.9" y1="729.1" x2="1405.1" y2="729.1" stroke-width="1.7" />
<line x1="1390.2" y1="732.5" x2="1403.8" y2="732.5" stroke-width="1.7" />
<line x1="1413.0" y1="704.3" x2="1413.0" y2="719.3" stroke-width="1.0" />
<line x1="1415.8" y1="705.3" x2="1415.8" y2="718.3" stroke-width="1.0" />
<line x1="1418.6" y1="706.3" x2="1418.6" y2="717.3" stroke-width="1.0" />
<polygon points="1296.4,704.7 1464.7,694.7 1464.7,753.8 1296.4,742.0" stroke-width="3.4" fill="none" />
<clipPath id="c1292_837"><path d="M1414.0,832.4 L1461.0,830.4 L1461.0,886.0 L1330.5,879.6 C1334.5,872.7 1340.5,868.2 1347.5,867.6 C1355.5,867.0 1363.5,873.2 1375.5,878.3 C1384.0,879.2 1402.0,879.1 1408.0,875.4 C1413.0,871.7 1414.0,854.5 1414.0,850.5 Z"/></clipPath>
<path d="M1414.0,832.4 L1461.0,830.4 L1461.0,886.0 L1330.5,879.6 C1334.5,872.7 1340.5,868.2 1347.5,867.6 C1355.5,867.0 1363.5,873.2 1375.5,878.3 C1384.0,879.2 1402.0,879.1 1408.0,875.4 C1413.0,871.7 1414.0,854.5 1414.0,850.5 Z" fill="#fff" stroke="#fff" stroke-width="2"/>
<g clip-path="url(#c1292_837)">
<line x1="1238.1" y1="892.0" x2="1293.1" y2="822.0" stroke="#363434" stroke-width="3.9" stroke-dasharray="15.1,2.3,6.1,2.8" stroke-dashoffset="19.3"/>
<line x1="1244.3" y1="892.0" x2="1299.3" y2="822.0" stroke="#363434" stroke-width="3.9" stroke-dasharray="17.9,2.8,10.1,2.2" stroke-dashoffset="5.5"/>
<line x1="1250.5" y1="892.0" x2="1305.5" y2="822.0" stroke="#363434" stroke-width="3.9" stroke-dasharray="15.8,2.3,7.0,2.8" stroke-dashoffset="24.0"/>
<line x1="1256.7" y1="892.0" x2="1311.7" y2="822.0" stroke="#363434" stroke-width="3.9" stroke-dasharray="12.3,2.8,10.5,2.1" stroke-dashoffset="6.7"/>
<line x1="1262.9" y1="892.0" x2="1317.9" y2="822.0" stroke="#363434" stroke-width="3.9" stroke-dasharray="19.2,2.5,7.8,2.2" stroke-dashoffset="8.0"/>
<line x1="1269.1" y1="892.0" x2="1324.1" y2="822.0" stroke="#363434" stroke-width="3.9" stroke-dasharray="13.1,2.2,11.5,2.2" stroke-dashoffset="0.6"/>
<line x1="1275.3" y1="892.0" x2="1330.3" y2="822.0" stroke="#363434" stroke-width="3.9" stroke-dasharray="13.9,2.1,11.6,2.4" stroke-dashoffset="22.1"/>
<line x1="1281.5" y1="892.0" x2="1336.5" y2="822.0" stroke="#363434" stroke-width="3.9" stroke-dasharray="20.0,2.8,6.8,2.3" stroke-dashoffset="29.2"/>
<line x1="1287.7" y1="892.0" x2="1342.7" y2="822.0" stroke="#363434" stroke-width="3.9" stroke-dasharray="14.9,2.4,13.1,2.1" stroke-dashoffset="15.3"/>
<line x1="1293.9" y1="892.0" x2="1348.9" y2="822.0" stroke="#363434" stroke-width="3.9" stroke-dasharray="17.6,2.9,6.5,2.7" stroke-dashoffset="26.0"/>
<line x1="1300.1" y1="892.0" x2="1355.1" y2="822.0" stroke="#363434" stroke-width="3.9" stroke-dasharray="18.6,2.8,7.0,3.0" stroke-dashoffset="21.3"/>
<line x1="1306.3" y1="892.0" x2="1361.3" y2="822.0" stroke="#363434" stroke-width="3.9" stroke-dasharray="13.1,2.4,8.4,2.4" stroke-dashoffset="8.1"/>
<line x1="1312.5" y1="892.0" x2="1367.5" y2="822.0" stroke="#363434" stroke-width="3.9" stroke-dasharray="19.8,2.9,13.9,2.9" stroke-dashoffset="0.6"/>
<line x1="1318.7" y1="892.0" x2="1373.7" y2="822.0" stroke="#363434" stroke-width="3.9" stroke-dasharray="15.1,2.5,7.1,2.2" stroke-dashoffset="16.6"/>
<line x1="1324.9" y1="892.0" x2="1379.9" y2="822.0" stroke="#363434" stroke-width="3.9" stroke-dasharray="16.8,2.8,10.6,2.1" stroke-dashoffset="11.3"/>
<line x1="1331.1" y1="892.0" x2="1386.1" y2="822.0" stroke="#363434" stroke-width="3.9" stroke-dasharray="17.6,2.7,9.9,2.5" stroke-dashoffset="10.9"/>
<line x1="1337.3" y1="892.0" x2="1392.3" y2="822.0" stroke="#363434" stroke-width="3.9" stroke-dasharray="15.3,2.1,13.6,3.0" stroke-dashoffset="11.7"/>
<line x1="1343.5" y1="892.0" x2="1398.5" y2="822.0" stroke="#363434" stroke-width="3.9" stroke-dasharray="18.8,2.4,11.2,2.0" stroke-dashoffset="17.4"/>
<line x1="1349.7" y1="892.0" x2="1404.7" y2="822.0" stroke="#363434" stroke-width="3.9" stroke-dasharray="14.4,2.1,8.5,2.1" stroke-dashoffset="7.9"/>
<line x1="1355.9" y1="892.0" x2="1410.9" y2="822.0" stroke="#363434" stroke-width="3.9" stroke-dasharray="12.5,2.6,7.7,2.3" stroke-dashoffset="11.0"/>
<line x1="1362.1" y1="892.0" x2="1417.1" y2="822.0" stroke="#363434" stroke-width="3.9" stroke-dasharray="16.7,2.3,10.6,2.9" stroke-dashoffset="11.4"/>
<line x1="1368.3" y1="892.0" x2="1423.3" y2="822.0" stroke="#363434" stroke-width="3.9" stroke-dasharray="14.3,2.3,9.4,2.1" stroke-dashoffset="18.1"/>
<line x1="1374.5" y1="892.0" x2="1429.5" y2="822.0" stroke="#363434" stroke-width="3.9" stroke-dasharray="18.1,2.6,7.2,2.6" stroke-dashoffset="21.5"/>
<line x1="1380.7" y1="892.0" x2="1435.7" y2="822.0" stroke="#363434" stroke-width="3.9" stroke-dasharray="19.1,2.7,9.3,2.2" stroke-dashoffset="23.5"/>
<line x1="1386.9" y1="892.0" x2="1441.9" y2="822.0" stroke="#363434" stroke-width="3.9" stroke-dasharray="15.4,2.6,6.3,2.4" stroke-dashoffset="20.2"/>
<line x1="1393.1" y1="892.0" x2="1448.1" y2="822.0" stroke="#363434" stroke-width="3.9" stroke-dasharray="16.6,2.4,13.5,3.0" stroke-dashoffset="14.5"/>
<line x1="1399.3" y1="892.0" x2="1454.3" y2="822.0" stroke="#363434" stroke-width="3.9" stroke-dasharray="15.2,2.1,13.8,2.7" stroke-dashoffset="10.7"/>
<line x1="1405.5" y1="892.0" x2="1460.5" y2="822.0" stroke="#363434" stroke-width="3.9" stroke-dasharray="18.6,2.9,8.5,2.2" stroke-dashoffset="26.8"/>
<line x1="1411.7" y1="892.0" x2="1466.7" y2="822.0" stroke="#363434" stroke-width="3.9" stroke-dasharray="16.1,2.2,9.2,2.5" stroke-dashoffset="4.4"/>
<line x1="1417.9" y1="892.0" x2="1472.9" y2="822.0" stroke="#363434" stroke-width="3.9" stroke-dasharray="12.2,3.0,13.9,2.1" stroke-dashoffset="3.0"/>
<line x1="1424.1" y1="892.0" x2="1479.1" y2="822.0" stroke="#363434" stroke-width="3.9" stroke-dasharray="17.8,2.4,6.6,2.7" stroke-dashoffset="14.0"/>
<line x1="1430.3" y1="892.0" x2="1485.3" y2="822.0" stroke="#363434" stroke-width="3.9" stroke-dasharray="14.9,2.3,12.5,2.7" stroke-dashoffset="2.9"/>
<line x1="1436.5" y1="892.0" x2="1491.5" y2="822.0" stroke="#363434" stroke-width="3.9" stroke-dasharray="18.1,2.5,8.2,2.4" stroke-dashoffset="13.4"/>
<line x1="1442.7" y1="892.0" x2="1497.7" y2="822.0" stroke="#363434" stroke-width="3.9" stroke-dasharray="18.6,2.8,12.4,2.8" stroke-dashoffset="19.1"/>
<line x1="1448.9" y1="892.0" x2="1503.9" y2="822.0" stroke="#363434" stroke-width="3.9" stroke-dasharray="12.3,2.0,8.2,3.0" stroke-dashoffset="17.2"/>
<line x1="1455.1" y1="892.0" x2="1510.1" y2="822.0" stroke="#363434" stroke-width="3.9" stroke-dasharray="18.7,2.7,8.8,2.2" stroke-dashoffset="2.1"/>
<line x1="1461.3" y1="892.0" x2="1516.3" y2="822.0" stroke="#363434" stroke-width="3.9" stroke-dasharray="16.8,2.6,11.5,2.3" stroke-dashoffset="14.5"/>
<line x1="1467.5" y1="892.0" x2="1522.5" y2="822.0" stroke="#363434" stroke-width="3.9" stroke-dasharray="12.3,2.7,6.9,2.6" stroke-dashoffset="20.1"/>
<line x1="1473.7" y1="892.0" x2="1528.7" y2="822.0" stroke="#363434" stroke-width="3.9" stroke-dasharray="16.4,2.9,8.3,2.1" stroke-dashoffset="15.4"/>
<line x1="1479.9" y1="892.0" x2="1534.9" y2="822.0" stroke="#363434" stroke-width="3.9" stroke-dasharray="12.7,2.8,10.1,2.5" stroke-dashoffset="15.5"/>
<line x1="1486.1" y1="892.0" x2="1541.1" y2="822.0" stroke="#363434" stroke-width="3.9" stroke-dasharray="17.2,2.4,7.1,2.4" stroke-dashoffset="13.8"/>
<line x1="1492.3" y1="892.0" x2="1547.3" y2="822.0" stroke="#363434" stroke-width="3.9" stroke-dasharray="18.5,2.6,13.3,2.5" stroke-dashoffset="4.2"/>
<line x1="1498.5" y1="892.0" x2="1553.5" y2="822.0" stroke="#363434" stroke-width="3.9" stroke-dasharray="17.9,3.0,10.1,3.0" stroke-dashoffset="19.5"/>
<line x1="1504.7" y1="892.0" x2="1559.7" y2="822.0" stroke="#363434" stroke-width="3.9" stroke-dasharray="18.2,2.4,7.3,2.5" stroke-dashoffset="25.6"/>
<line x1="1510.9" y1="892.0" x2="1565.9" y2="822.0" stroke="#363434" stroke-width="3.9" stroke-dasharray="13.8,2.2,10.5,2.6" stroke-dashoffset="2.2"/>
<line x1="1517.1" y1="892.0" x2="1572.1" y2="822.0" stroke="#363434" stroke-width="3.9" stroke-dasharray="15.1,2.8,12.3,2.3" stroke-dashoffset="10.7"/>
<line x1="1523.3" y1="892.0" x2="1578.3" y2="822.0" stroke="#363434" stroke-width="3.9" stroke-dasharray="17.5,2.7,11.2,2.8" stroke-dashoffset="10.0"/>
<line x1="1529.5" y1="892.0" x2="1584.5" y2="822.0" stroke="#363434" stroke-width="3.9" stroke-dasharray="13.8,2.6,13.7,2.6" stroke-dashoffset="1.3"/>
<line x1="1535.7" y1="892.0" x2="1590.7" y2="822.0" stroke="#363434" stroke-width="3.9" stroke-dasharray="19.4,2.2,11.0,3.0" stroke-dashoffset="16.0"/>
<line x1="1541.9" y1="892.0" x2="1596.9" y2="822.0" stroke="#363434" stroke-width="3.9" stroke-dasharray="15.2,2.2,7.1,2.5" stroke-dashoffset="10.9"/>
<line x1="1548.1" y1="892.0" x2="1603.1" y2="822.0" stroke="#363434" stroke-width="3.9" stroke-dasharray="13.8,2.3,12.9,2.9" stroke-dashoffset="26.0"/>
<line x1="1554.3" y1="892.0" x2="1609.3" y2="822.0" stroke="#363434" stroke-width="3.9" stroke-dasharray="18.7,2.1,9.4,2.7" stroke-dashoffset="23.2"/>
</g>
<line x1="1300.5" y1="841.6" x2="1326.5" y2="841.6" stroke-width="1.7" />
<line x1="1301.5" y1="845.0" x2="1325.5" y2="845.0" stroke-width="1.7" />
<line x1="1302.5" y1="848.4" x2="1324.5" y2="848.4" stroke-width="1.7" />
<line x1="1303.5" y1="851.8" x2="1323.5" y2="851.8" stroke-width="1.7" />
<line x1="1304.5" y1="855.2" x2="1322.5" y2="855.2" stroke-width="1.7" />
<line x1="1305.6" y1="858.6" x2="1321.4" y2="858.6" stroke-width="1.7" />
<line x1="1306.6" y1="862.0" x2="1320.4" y2="862.0" stroke-width="1.7" />
<line x1="1307.6" y1="865.4" x2="1319.4" y2="865.4" stroke-width="1.7" />
<line x1="1308.6" y1="868.8" x2="1318.4" y2="868.8" stroke-width="1.7" />
<line x1="1309.6" y1="872.2" x2="1317.4" y2="872.2" stroke-width="1.7" />
<line x1="1373.0" y1="840.4" x2="1407.0" y2="840.4" stroke-width="1.7" />
<line x1="1374.3" y1="843.8" x2="1405.7" y2="843.8" stroke-width="1.7" />
<line x1="1375.5" y1="847.2" x2="1404.5" y2="847.2" stroke-width="1.7" />
<line x1="1376.8" y1="850.6" x2="1403.2" y2="850.6" stroke-width="1.7" />
<line x1="1378.1" y1="854.0" x2="1401.9" y2="854.0" stroke-width="1.7" />
<line x1="1379.4" y1="857.4" x2="1400.6" y2="857.4" stroke-width="1.7" />
<line x1="1380.7" y1="860.8" x2="1399.3" y2="860.8" stroke-width="1.7" />
<line x1="1381.9" y1="864.2" x2="1398.1" y2="864.2" stroke-width="1.7" />
<line x1="1383.2" y1="867.6" x2="1396.8" y2="867.6" stroke-width="1.7" />
<line x1="1406.0" y1="839.4" x2="1406.0" y2="854.4" stroke-width="1.0" />
<line x1="1408.8" y1="840.4" x2="1408.8" y2="853.4" stroke-width="1.0" />
<line x1="1411.6" y1="841.4" x2="1411.6" y2="852.4" stroke-width="1.0" />
<polygon points="1292.5,837.6 1461.0,830.4 1461.0,886.0 1292.5,877.7" stroke-width="3.4" fill="none" />
<clipPath id="c1295_960"><path d="M1434.0,955.1 L1464.8,954.0 L1464.8,1011.0 L1333.0,1002.5 C1337.0,996.8 1343.0,993.0 1350.0,992.5 C1358.0,992.0 1366.0,997.9 1378.0,1001.9 C1404.0,1004.1 1422.0,1004.2 1428.0,1000.6 C1433.0,997.0 1434.0,977.1 1434.0,973.1 Z"/></clipPath>
<path d="M1434.0,955.1 L1464.8,954.0 L1464.8,1011.0 L1333.0,1002.5 C1337.0,996.8 1343.0,993.0 1350.0,992.5 C1358.0,992.0 1366.0,997.9 1378.0,1001.9 C1404.0,1004.1 1422.0,1004.2 1428.0,1000.6 C1433.0,997.0 1434.0,977.1 1434.0,973.1 Z" fill="#fff" stroke="#fff" stroke-width="2"/>
<g clip-path="url(#c1295_960)">
<line x1="1240.6" y1="1017.0" x2="1295.6" y2="947.0" stroke="#363434" stroke-width="3.9" stroke-dasharray="15.7,2.2,14.0,2.3" stroke-dashoffset="17.3"/>
<line x1="1246.8" y1="1017.0" x2="1301.8" y2="947.0" stroke="#363434" stroke-width="3.9" stroke-dasharray="19.2,2.1,12.8,2.0" stroke-dashoffset="13.9"/>
<line x1="1253.0" y1="1017.0" x2="1308.0" y2="947.0" stroke="#363434" stroke-width="3.9" stroke-dasharray="17.4,2.8,8.7,2.8" stroke-dashoffset="21.1"/>
<line x1="1259.2" y1="1017.0" x2="1314.2" y2="947.0" stroke="#363434" stroke-width="3.9" stroke-dasharray="15.4,3.0,6.3,2.4" stroke-dashoffset="2.0"/>
<line x1="1265.4" y1="1017.0" x2="1320.4" y2="947.0" stroke="#363434" stroke-width="3.9" stroke-dasharray="18.8,2.7,10.3,2.9" stroke-dashoffset="9.2"/>
<line x1="1271.6" y1="1017.0" x2="1326.6" y2="947.0" stroke="#363434" stroke-width="3.9" stroke-dasharray="19.7,2.3,8.6,2.5" stroke-dashoffset="26.2"/>
<line x1="1277.8" y1="1017.0" x2="1332.8" y2="947.0" stroke="#363434" stroke-width="3.9" stroke-dasharray="15.3,2.0,13.7,2.6" stroke-dashoffset="15.6"/>
<line x1="1284.0" y1="1017.0" x2="1339.0" y2="947.0" stroke="#363434" stroke-width="3.9" stroke-dasharray="16.8,2.2,7.8,2.4" stroke-dashoffset="3.8"/>
<line x1="1290.2" y1="1017.0" x2="1345.2" y2="947.0" stroke="#363434" stroke-width="3.9" stroke-dasharray="18.4,2.5,12.1,2.6" stroke-dashoffset="0.5"/>
<line x1="1296.4" y1="1017.0" x2="1351.4" y2="947.0" stroke="#363434" stroke-width="3.9" stroke-dasharray="16.6,2.4,7.5,2.6" stroke-dashoffset="15.0"/>
<line x1="1302.6" y1="1017.0" x2="1357.6" y2="947.0" stroke="#363434" stroke-width="3.9" stroke-dasharray="18.7,2.3,11.1,2.5" stroke-dashoffset="5.5"/>
<line x1="1308.8" y1="1017.0" x2="1363.8" y2="947.0" stroke="#363434" stroke-width="3.9" stroke-dasharray="18.2,2.9,6.4,2.4" stroke-dashoffset="4.8"/>
<line x1="1315.0" y1="1017.0" x2="1370.0" y2="947.0" stroke="#363434" stroke-width="3.9" stroke-dasharray="12.6,2.3,13.0,2.9" stroke-dashoffset="27.8"/>
<line x1="1321.2" y1="1017.0" x2="1376.2" y2="947.0" stroke="#363434" stroke-width="3.9" stroke-dasharray="17.9,2.7,11.1,2.8" stroke-dashoffset="0.4"/>
<line x1="1327.4" y1="1017.0" x2="1382.4" y2="947.0" stroke="#363434" stroke-width="3.9" stroke-dasharray="13.9,2.4,10.2,2.5" stroke-dashoffset="11.1"/>
<line x1="1333.6" y1="1017.0" x2="1388.6" y2="947.0" stroke="#363434" stroke-width="3.9" stroke-dasharray="13.8,2.4,10.7,2.8" stroke-dashoffset="7.3"/>
<line x1="1339.8" y1="1017.0" x2="1394.8" y2="947.0" stroke="#363434" stroke-width="3.9" stroke-dasharray="14.4,3.0,6.6,2.1" stroke-dashoffset="17.1"/>
<line x1="1346.0" y1="1017.0" x2="1401.0" y2="947.0" stroke="#363434" stroke-width="3.9" stroke-dasharray="17.1,2.6,11.2,2.3" stroke-dashoffset="21.9"/>
<line x1="1352.2" y1="1017.0" x2="1407.2" y2="947.0" stroke="#363434" stroke-width="3.9" stroke-dasharray="18.2,3.0,12.1,2.3" stroke-dashoffset="16.2"/>
<line x1="1358.4" y1="1017.0" x2="1413.4" y2="947.0" stroke="#363434" stroke-width="3.9" stroke-dasharray="18.3,2.3,11.1,2.1" stroke-dashoffset="12.2"/>
<line x1="1364.6" y1="1017.0" x2="1419.6" y2="947.0" stroke="#363434" stroke-width="3.9" stroke-dasharray="13.2,2.1,6.4,3.0" stroke-dashoffset="0.4"/>
<line x1="1370.8" y1="1017.0" x2="1425.8" y2="947.0" stroke="#363434" stroke-width="3.9" stroke-dasharray="16.0,2.9,10.7,2.8" stroke-dashoffset="23.0"/>
<line x1="1377.0" y1="1017.0" x2="1432.0" y2="947.0" stroke="#363434" stroke-width="3.9" stroke-dasharray="14.8,2.3,9.9,2.8" stroke-dashoffset="26.0"/>
<line x1="1383.2" y1="1017.0" x2="1438.2" y2="947.0" stroke="#363434" stroke-width="3.9" stroke-dasharray="12.1,2.5,10.8,2.6" stroke-dashoffset="25.0"/>
<line x1="1389.4" y1="1017.0" x2="1444.4" y2="947.0" stroke="#363434" stroke-width="3.9" stroke-dasharray="15.2,2.1,12.4,2.9" stroke-dashoffset="4.4"/>
<line x1="1395.6" y1="1017.0" x2="1450.6" y2="947.0" stroke="#363434" stroke-width="3.9" stroke-dasharray="13.7,2.5,8.9,2.9" stroke-dashoffset="11.0"/>
<line x1="1401.8" y1="1017.0" x2="1456.8" y2="947.0" stroke="#363434" stroke-width="3.9" stroke-dasharray="13.9,3.0,7.8,2.3" stroke-dashoffset="28.8"/>
<line x1="1408.0" y1="1017.0" x2="1463.0" y2="947.0" stroke="#363434" stroke-width="3.9" stroke-dasharray="17.6,2.4,9.3,2.2" stroke-dashoffset="6.5"/>
<line x1="1414.2" y1="1017.0" x2="1469.2" y2="947.0" stroke="#363434" stroke-width="3.9" stroke-dasharray="15.8,2.3,9.8,2.2" stroke-dashoffset="20.2"/>
<line x1="1420.4" y1="1017.0" x2="1475.4" y2="947.0" stroke="#363434" stroke-width="3.9" stroke-dasharray="13.6,2.9,7.2,2.8" stroke-dashoffset="4.3"/>
<line x1="1426.6" y1="1017.0" x2="1481.6" y2="947.0" stroke="#363434" stroke-width="3.9" stroke-dasharray="12.1,2.8,7.6,2.4" stroke-dashoffset="15.3"/>
<line x1="1432.8" y1="1017.0" x2="1487.8" y2="947.0" stroke="#363434" stroke-width="3.9" stroke-dasharray="20.0,2.7,10.1,2.0" stroke-dashoffset="27.3"/>
<line x1="1439.0" y1="1017.0" x2="1494.0" y2="947.0" stroke="#363434" stroke-width="3.9" stroke-dasharray="19.7,2.9,9.2,2.9" stroke-dashoffset="30.0"/>
<line x1="1445.2" y1="1017.0" x2="1500.2" y2="947.0" stroke="#363434" stroke-width="3.9" stroke-dasharray="16.9,2.2,7.6,2.3" stroke-dashoffset="27.4"/>
<line x1="1451.4" y1="1017.0" x2="1506.4" y2="947.0" stroke="#363434" stroke-width="3.9" stroke-dasharray="13.8,3.0,8.3,2.6" stroke-dashoffset="2.9"/>
<line x1="1457.6" y1="1017.0" x2="1512.6" y2="947.0" stroke="#363434" stroke-width="3.9" stroke-dasharray="15.8,2.7,9.9,2.4" stroke-dashoffset="10.7"/>
<line x1="1463.8" y1="1017.0" x2="1518.8" y2="947.0" stroke="#363434" stroke-width="3.9" stroke-dasharray="12.6,2.5,9.3,2.5" stroke-dashoffset="22.3"/>
<line x1="1470.0" y1="1017.0" x2="1525.0" y2="947.0" stroke="#363434" stroke-width="3.9" stroke-dasharray="16.8,2.6,6.0,2.8" stroke-dashoffset="27.6"/>
<line x1="1476.2" y1="1017.0" x2="1531.2" y2="947.0" stroke="#363434" stroke-width="3.9" stroke-dasharray="16.7,2.1,12.6,2.7" stroke-dashoffset="3.9"/>
<line x1="1482.4" y1="1017.0" x2="1537.4" y2="947.0" stroke="#363434" stroke-width="3.9" stroke-dasharray="13.9,2.4,12.0,2.3" stroke-dashoffset="4.0"/>
<line x1="1488.6" y1="1017.0" x2="1543.6" y2="947.0" stroke="#363434" stroke-width="3.9" stroke-dasharray="19.4,2.2,12.8,2.1" stroke-dashoffset="28.1"/>
<line x1="1494.8" y1="1017.0" x2="1549.8" y2="947.0" stroke="#363434" stroke-width="3.9" stroke-dasharray="15.6,2.8,13.7,3.0" stroke-dashoffset="7.1"/>
<line x1="1501.0" y1="1017.0" x2="1556.0" y2="947.0" stroke="#363434" stroke-width="3.9" stroke-dasharray="13.6,2.3,7.7,2.1" stroke-dashoffset="6.0"/>
<line x1="1507.2" y1="1017.0" x2="1562.2" y2="947.0" stroke="#363434" stroke-width="3.9" stroke-dasharray="15.6,2.5,9.7,2.2" stroke-dashoffset="17.5"/>
<line x1="1513.4" y1="1017.0" x2="1568.4" y2="947.0" stroke="#363434" stroke-width="3.9" stroke-dasharray="19.9,2.9,9.3,2.1" stroke-dashoffset="28.8"/>
<line x1="1519.6" y1="1017.0" x2="1574.6" y2="947.0" stroke="#363434" stroke-width="3.9" stroke-dasharray="12.8,2.4,7.4,2.2" stroke-dashoffset="5.9"/>
<line x1="1525.8" y1="1017.0" x2="1580.8" y2="947.0" stroke="#363434" stroke-width="3.9" stroke-dasharray="19.4,2.1,11.6,2.5" stroke-dashoffset="29.9"/>
<line x1="1532.0" y1="1017.0" x2="1587.0" y2="947.0" stroke="#363434" stroke-width="3.9" stroke-dasharray="17.4,2.6,13.9,2.7" stroke-dashoffset="9.8"/>
<line x1="1538.2" y1="1017.0" x2="1593.2" y2="947.0" stroke="#363434" stroke-width="3.9" stroke-dasharray="12.8,2.3,13.5,2.5" stroke-dashoffset="16.2"/>
<line x1="1544.4" y1="1017.0" x2="1599.4" y2="947.0" stroke="#363434" stroke-width="3.9" stroke-dasharray="19.3,2.4,9.8,2.7" stroke-dashoffset="12.3"/>
<line x1="1550.6" y1="1017.0" x2="1605.6" y2="947.0" stroke="#363434" stroke-width="3.9" stroke-dasharray="15.7,2.7,11.2,2.4" stroke-dashoffset="17.9"/>
<line x1="1556.8" y1="1017.0" x2="1611.8" y2="947.0" stroke="#363434" stroke-width="3.9" stroke-dasharray="18.5,2.3,10.1,2.2" stroke-dashoffset="0.1"/>
</g>
<line x1="1303.0" y1="964.0" x2="1329.0" y2="964.0" stroke-width="1.7" />
<line x1="1304.0" y1="967.4" x2="1328.0" y2="967.4" stroke-width="1.7" />
<line x1="1305.0" y1="970.8" x2="1327.0" y2="970.8" stroke-width="1.7" />
<line x1="1306.0" y1="974.2" x2="1326.0" y2="974.2" stroke-width="1.7" />
<line x1="1307.0" y1="977.6" x2="1325.0" y2="977.6" stroke-width="1.7" />
<line x1="1308.1" y1="981.0" x2="1323.9" y2="981.0" stroke-width="1.7" />
<line x1="1309.1" y1="984.4" x2="1322.9" y2="984.4" stroke-width="1.7" />
<line x1="1310.1" y1="987.8" x2="1321.9" y2="987.8" stroke-width="1.7" />
<line x1="1311.1" y1="991.2" x2="1320.9" y2="991.2" stroke-width="1.7" />
<line x1="1312.1" y1="994.6" x2="1319.9" y2="994.6" stroke-width="1.7" />
<line x1="1393.0" y1="963.1" x2="1427.0" y2="963.1" stroke-width="1.7" />
<line x1="1394.3" y1="966.5" x2="1425.7" y2="966.5" stroke-width="1.7" />
<line x1="1395.5" y1="969.9" x2="1424.5" y2="969.9" stroke-width="1.7" />
<line x1="1396.8" y1="973.3" x2="1423.2" y2="973.3" stroke-width="1.7" />
<line x1="1398.1" y1="976.7" x2="1421.9" y2="976.7" stroke-width="1.7" />
<line x1="1399.4" y1="980.1" x2="1420.6" y2="980.1" stroke-width="1.7" />
<line x1="1400.7" y1="983.5" x2="1419.3" y2="983.5" stroke-width="1.7" />
<line x1="1401.9" y1="986.9" x2="1418.1" y2="986.9" stroke-width="1.7" />
<line x1="1403.2" y1="990.3" x2="1416.8" y2="990.3" stroke-width="1.7" />
<line x1="1426.0" y1="962.1" x2="1426.0" y2="977.1" stroke-width="1.0" />
<line x1="1428.8" y1="963.1" x2="1428.8" y2="976.1" stroke-width="1.0" />
<line x1="1431.6" y1="964.1" x2="1431.6" y2="975.1" stroke-width="1.0" />
<polygon points="1295.0,960.0 1464.8,954.0 1464.8,1011.0 1295.0,1000.0" stroke-width="3.4" fill="none" />
<clipPath id="c1295_1076"><path d="M1400.0,1070.0 L1464.8,1066.0 L1464.8,1124.0 L1333.0,1117.3 C1337.0,1111.6 1343.0,1107.8 1350.0,1107.3 C1358.0,1106.8 1366.0,1112.3 1378.0,1116.1 C1370.0,1116.2 1388.0,1116.1 1394.0,1112.4 C1399.0,1108.7 1400.0,1091.4 1400.0,1087.5 Z"/></clipPath>
<path d="M1400.0,1070.0 L1464.8,1066.0 L1464.8,1124.0 L1333.0,1117.3 C1337.0,1111.6 1343.0,1107.8 1350.0,1107.3 C1358.0,1106.8 1366.0,1112.3 1378.0,1116.1 C1370.0,1116.2 1388.0,1116.1 1394.0,1112.4 C1399.0,1108.7 1400.0,1091.4 1400.0,1087.5 Z" fill="#fff" stroke="#fff" stroke-width="2"/>
<g clip-path="url(#c1295_1076)">
<line x1="1240.6" y1="1130.0" x2="1295.6" y2="1060.0" stroke="#363434" stroke-width="3.9" stroke-dasharray="14.7,2.9,10.2,2.1" stroke-dashoffset="18.3"/>
<line x1="1246.8" y1="1130.0" x2="1301.8" y2="1060.0" stroke="#363434" stroke-width="3.9" stroke-dasharray="19.1,2.7,6.6,3.0" stroke-dashoffset="12.9"/>
<line x1="1253.0" y1="1130.0" x2="1308.0" y2="1060.0" stroke="#363434" stroke-width="3.9" stroke-dasharray="13.5,2.5,9.9,2.7" stroke-dashoffset="23.7"/>
<line x1="1259.2" y1="1130.0" x2="1314.2" y2="1060.0" stroke="#363434" stroke-width="3.9" stroke-dasharray="15.4,2.6,12.2,2.6" stroke-dashoffset="25.4"/>
<line x1="1265.4" y1="1130.0" x2="1320.4" y2="1060.0" stroke="#363434" stroke-width="3.9" stroke-dasharray="13.4,2.2,9.1,2.2" stroke-dashoffset="15.0"/>
<line x1="1271.6" y1="1130.0" x2="1326.6" y2="1060.0" stroke="#363434" stroke-width="3.9" stroke-dasharray="16.1,2.2,7.9,2.3" stroke-dashoffset="7.9"/>
<line x1="1277.8" y1="1130.0" x2="1332.8" y2="1060.0" stroke="#363434" stroke-width="3.9" stroke-dasharray="18.8,2.6,11.3,2.6" stroke-dashoffset="14.4"/>
<line x1="1284.0" y1="1130.0" x2="1339.0" y2="1060.0" stroke="#363434" stroke-width="3.9" stroke-dasharray="12.1,2.6,7.3,2.3" stroke-dashoffset="13.5"/>
<line x1="1290.2" y1="1130.0" x2="1345.2" y2="1060.0" stroke="#363434" stroke-width="3.9" stroke-dasharray="14.9,2.6,10.9,2.9" stroke-dashoffset="5.1"/>
<line x1="1296.4" y1="1130.0" x2="1351.4" y2="1060.0" stroke="#363434" stroke-width="3.9" stroke-dasharray="16.1,2.9,12.7,2.2" stroke-dashoffset="15.6"/>
<line x1="1302.6" y1="1130.0" x2="1357.6" y2="1060.0" stroke="#363434" stroke-width="3.9" stroke-dasharray="12.6,2.4,8.5,2.7" stroke-dashoffset="25.4"/>
<line x1="1308.8" y1="1130.0" x2="1363.8" y2="1060.0" stroke="#363434" stroke-width="3.9" stroke-dasharray="15.9,2.1,10.3,2.2" stroke-dashoffset="9.6"/>
<line x1="1315.0" y1="1130.0" x2="1370.0" y2="1060.0" stroke="#363434" stroke-width="3.9" stroke-dasharray="12.9,2.9,8.1,2.4" stroke-dashoffset="22.9"/>
<line x1="1321.2" y1="1130.0" x2="1376.2" y2="1060.0" stroke="#363434" stroke-width="3.9" stroke-dasharray="15.0,2.6,10.0,3.0" stroke-dashoffset="1.5"/>
<line x1="1327.4" y1="1130.0" x2="1382.4" y2="1060.0" stroke="#363434" stroke-width="3.9" stroke-dasharray="19.1,2.0,9.1,2.0" stroke-dashoffset="0.7"/>
<line x1="1333.6" y1="1130.0" x2="1388.6" y2="1060.0" stroke="#363434" stroke-width="3.9" stroke-dasharray="13.9,2.6,13.7,2.4" stroke-dashoffset="9.8"/>
<line x1="1339.8" y1="1130.0" x2="1394.8" y2="1060.0" stroke="#363434" stroke-width="3.9" stroke-dasharray="14.6,2.3,11.3,3.0" stroke-dashoffset="14.6"/>
<line x1="1346.0" y1="1130.0" x2="1401.0" y2="1060.0" stroke="#363434" stroke-width="3.9" stroke-dasharray="16.4,2.1,6.7,2.1" stroke-dashoffset="4.4"/>
<line x1="1352.2" y1="1130.0" x2="1407.2" y2="1060.0" stroke="#363434" stroke-width="3.9" stroke-dasharray="16.7,2.2,10.1,2.4" stroke-dashoffset="28.1"/>
<line x1="1358.4" y1="1130.0" x2="1413.4" y2="1060.0" stroke="#363434" stroke-width="3.9" stroke-dasharray="18.0,2.6,11.3,2.9" stroke-dashoffset="1.4"/>
<line x1="1364.6" y1="1130.0" x2="1419.6" y2="1060.0" stroke="#363434" stroke-width="3.9" stroke-dasharray="12.5,2.1,10.9,2.7" stroke-dashoffset="7.3"/>
<line x1="1370.8" y1="1130.0" x2="1425.8" y2="1060.0" stroke="#363434" stroke-width="3.9" stroke-dasharray="18.2,2.4,9.6,2.7" stroke-dashoffset="11.8"/>
<line x1="1377.0" y1="1130.0" x2="1432.0" y2="1060.0" stroke="#363434" stroke-width="3.9" stroke-dasharray="16.0,2.1,9.1,2.2" stroke-dashoffset="2.8"/>
<line x1="1383.2" y1="1130.0" x2="1438.2" y2="1060.0" stroke="#363434" stroke-width="3.9" stroke-dasharray="13.2,2.6,10.0,2.1" stroke-dashoffset="0.6"/>
<line x1="1389.4" y1="1130.0" x2="1444.4" y2="1060.0" stroke="#363434" stroke-width="3.9" stroke-dasharray="18.6,2.8,7.1,2.2" stroke-dashoffset="16.4"/>
<line x1="1395.6" y1="1130.0" x2="1450.6" y2="1060.0" stroke="#363434" stroke-width="3.9" stroke-dasharray="14.3,2.8,11.0,2.5" stroke-dashoffset="5.3"/>
<line x1="1401.8" y1="1130.0" x2="1456.8" y2="1060.0" stroke="#363434" stroke-width="3.9" stroke-dasharray="12.8,2.1,11.9,2.9" stroke-dashoffset="7.0"/>
<line x1="1408.0" y1="1130.0" x2="1463.0" y2="1060.0" stroke="#363434" stroke-width="3.9" stroke-dasharray="13.4,2.6,10.9,2.3" stroke-dashoffset="23.9"/>
<line x1="1414.2" y1="1130.0" x2="1469.2" y2="1060.0" stroke="#363434" stroke-width="3.9" stroke-dasharray="13.9,2.6,8.1,2.6" stroke-dashoffset="22.1"/>
<line x1="1420.4" y1="1130.0" x2="1475.4" y2="1060.0" stroke="#363434" stroke-width="3.9" stroke-dasharray="12.3,2.9,9.5,2.2" stroke-dashoffset="20.9"/>
<line x1="1426.6" y1="1130.0" x2="1481.6" y2="1060.0" stroke="#363434" stroke-width="3.9" stroke-dasharray="16.9,2.0,12.6,2.4" stroke-dashoffset="15.9"/>
<line x1="1432.8" y1="1130.0" x2="1487.8" y2="1060.0" stroke="#363434" stroke-width="3.9" stroke-dasharray="14.3,2.1,8.9,2.4" stroke-dashoffset="17.3"/>
<line x1="1439.0" y1="1130.0" x2="1494.0" y2="1060.0" stroke="#363434" stroke-width="3.9" stroke-dasharray="12.6,2.2,6.5,2.5" stroke-dashoffset="15.9"/>
<line x1="1445.2" y1="1130.0" x2="1500.2" y2="1060.0" stroke="#363434" stroke-width="3.9" stroke-dasharray="18.7,2.6,10.6,2.0" stroke-dashoffset="9.5"/>
<line x1="1451.4" y1="1130.0" x2="1506.4" y2="1060.0" stroke="#363434" stroke-width="3.9" stroke-dasharray="13.9,2.1,9.4,2.0" stroke-dashoffset="25.3"/>
<line x1="1457.6" y1="1130.0" x2="1512.6" y2="1060.0" stroke="#363434" stroke-width="3.9" stroke-dasharray="12.9,2.3,10.9,2.2" stroke-dashoffset="10.3"/>
<line x1="1463.8" y1="1130.0" x2="1518.8" y2="1060.0" stroke="#363434" stroke-width="3.9" stroke-dasharray="13.4,2.1,12.5,2.3" stroke-dashoffset="22.7"/>
<line x1="1470.0" y1="1130.0" x2="1525.0" y2="1060.0" stroke="#363434" stroke-width="3.9" stroke-dasharray="14.7,2.7,11.2,2.3" stroke-dashoffset="18.5"/>
<line x1="1476.2" y1="1130.0" x2="1531.2" y2="1060.0" stroke="#363434" stroke-width="3.9" stroke-dasharray="19.1,2.6,11.5,2.5" stroke-dashoffset="22.1"/>
<line x1="1482.4" y1="1130.0" x2="1537.4" y2="1060.0" stroke="#363434" stroke-width="3.9" stroke-dasharray="16.0,2.2,8.2,2.0" stroke-dashoffset="26.0"/>
<line x1="1488.6" y1="1130.0" x2="1543.6" y2="1060.0" stroke="#363434" stroke-width="3.9" stroke-dasharray="13.9,2.2,12.7,2.8" stroke-dashoffset="21.6"/>
<line x1="1494.8" y1="1130.0" x2="1549.8" y2="1060.0" stroke="#363434" stroke-width="3.9" stroke-dasharray="18.8,2.2,7.1,2.1" stroke-dashoffset="9.9"/>
<line x1="1501.0" y1="1130.0" x2="1556.0" y2="1060.0" stroke="#363434" stroke-width="3.9" stroke-dasharray="19.1,2.7,7.4,2.7" stroke-dashoffset="27.9"/>
<line x1="1507.2" y1="1130.0" x2="1562.2" y2="1060.0" stroke="#363434" stroke-width="3.9" stroke-dasharray="18.0,2.9,12.3,2.5" stroke-dashoffset="3.7"/>
<line x1="1513.4" y1="1130.0" x2="1568.4" y2="1060.0" stroke="#363434" stroke-width="3.9" stroke-dasharray="12.9,2.1,8.0,2.8" stroke-dashoffset="7.6"/>
<line x1="1519.6" y1="1130.0" x2="1574.6" y2="1060.0" stroke="#363434" stroke-width="3.9" stroke-dasharray="16.3,2.4,10.5,3.0" stroke-dashoffset="27.3"/>
<line x1="1525.8" y1="1130.0" x2="1580.8" y2="1060.0" stroke="#363434" stroke-width="3.9" stroke-dasharray="13.5,2.8,6.3,2.3" stroke-dashoffset="22.2"/>
<line x1="1532.0" y1="1130.0" x2="1587.0" y2="1060.0" stroke="#363434" stroke-width="3.9" stroke-dasharray="13.9,2.7,13.2,2.6" stroke-dashoffset="15.2"/>
<line x1="1538.2" y1="1130.0" x2="1593.2" y2="1060.0" stroke="#363434" stroke-width="3.9" stroke-dasharray="12.3,2.2,10.4,2.5" stroke-dashoffset="2.6"/>
<line x1="1544.4" y1="1130.0" x2="1599.4" y2="1060.0" stroke="#363434" stroke-width="3.9" stroke-dasharray="17.8,2.3,13.5,2.8" stroke-dashoffset="19.9"/>
<line x1="1550.6" y1="1130.0" x2="1605.6" y2="1060.0" stroke="#363434" stroke-width="3.9" stroke-dasharray="13.2,2.3,9.5,2.9" stroke-dashoffset="22.9"/>
<line x1="1556.8" y1="1130.0" x2="1611.8" y2="1060.0" stroke="#363434" stroke-width="3.9" stroke-dasharray="18.9,2.4,12.7,2.6" stroke-dashoffset="29.5"/>
</g>
<line x1="1303.0" y1="1080.6" x2="1329.0" y2="1080.6" stroke-width="1.7" />
<line x1="1304.1" y1="1084.0" x2="1327.9" y2="1084.0" stroke-width="1.7" />
<line x1="1305.3" y1="1087.4" x2="1326.7" y2="1087.4" stroke-width="1.7" />
<line x1="1306.4" y1="1090.8" x2="1325.6" y2="1090.8" stroke-width="1.7" />
<line x1="1307.5" y1="1094.2" x2="1324.5" y2="1094.2" stroke-width="1.7" />
<line x1="1308.7" y1="1097.6" x2="1323.3" y2="1097.6" stroke-width="1.7" />
<line x1="1309.8" y1="1101.0" x2="1322.2" y2="1101.0" stroke-width="1.7" />
<line x1="1311.0" y1="1104.4" x2="1321.0" y2="1104.4" stroke-width="1.7" />
<line x1="1312.1" y1="1107.8" x2="1319.9" y2="1107.8" stroke-width="1.7" />
<line x1="1359.0" y1="1078.0" x2="1393.0" y2="1078.0" stroke-width="1.7" />
<line x1="1360.3" y1="1081.4" x2="1391.7" y2="1081.4" stroke-width="1.7" />
<line x1="1361.5" y1="1084.8" x2="1390.5" y2="1084.8" stroke-width="1.7" />
<line x1="1362.8" y1="1088.2" x2="1389.2" y2="1088.2" stroke-width="1.7" />
<line x1="1364.1" y1="1091.6" x2="1387.9" y2="1091.6" stroke-width="1.7" />
<line x1="1365.4" y1="1095.0" x2="1386.6" y2="1095.0" stroke-width="1.7" />
<line x1="1366.7" y1="1098.4" x2="1385.3" y2="1098.4" stroke-width="1.7" />
<line x1="1367.9" y1="1101.8" x2="1384.1" y2="1101.8" stroke-width="1.7" />
<line x1="1369.2" y1="1105.2" x2="1382.8" y2="1105.2" stroke-width="1.7" />
<line x1="1392.0" y1="1077.0" x2="1392.0" y2="1092.0" stroke-width="1.0" />
<line x1="1394.8" y1="1078.0" x2="1394.8" y2="1091.0" stroke-width="1.0" />
<line x1="1397.6" y1="1079.0" x2="1397.6" y2="1090.0" stroke-width="1.0" />
<polygon points="1295.0,1076.6 1464.8,1066.0 1464.8,1124.0 1295.0,1115.4" stroke-width="3.4" fill="none" />
<clipPath id="c1290_1201"><path d="M1412.6,1196.7 L1461.0,1195.0 L1461.0,1248.5 L1328.0,1241.1 C1332.0,1235.4 1338.0,1231.6 1345.0,1231.1 C1353.0,1230.6 1361.0,1236.2 1373.0,1240.1 C1382.6,1241.1 1400.6,1241.1 1406.6,1237.5 C1411.6,1233.8 1412.6,1217.6 1412.6,1213.8 Z"/></clipPath>
<path d="M1412.6,1196.7 L1461.0,1195.0 L1461.0,1248.5 L1328.0,1241.1 C1332.0,1235.4 1338.0,1231.6 1345.0,1231.1 C1353.0,1230.6 1361.0,1236.2 1373.0,1240.1 C1382.6,1241.1 1400.6,1241.1 1406.6,1237.5 C1411.6,1233.8 1412.6,1217.6 1412.6,1213.8 Z" fill="#fff" stroke="#fff" stroke-width="2"/>
<g clip-path="url(#c1290_1201)">
<line x1="1235.6" y1="1254.5" x2="1290.6" y2="1184.5" stroke="#363434" stroke-width="3.9" stroke-dasharray="15.5,2.1,10.1,2.7" stroke-dashoffset="24.0"/>
<line x1="1241.8" y1="1254.5" x2="1296.8" y2="1184.5" stroke="#363434" stroke-width="3.9" stroke-dasharray="18.1,2.9,12.7,2.3" stroke-dashoffset="12.7"/>
<line x1="1248.0" y1="1254.5" x2="1303.0" y2="1184.5" stroke="#363434" stroke-width="3.9" stroke-dasharray="12.1,2.8,11.5,2.8" stroke-dashoffset="17.2"/>
<line x1="1254.2" y1="1254.5" x2="1309.2" y2="1184.5" stroke="#363434" stroke-width="3.9" stroke-dasharray="13.9,2.4,12.5,2.5" stroke-dashoffset="19.4"/>
<line x1="1260.4" y1="1254.5" x2="1315.4" y2="1184.5" stroke="#363434" stroke-width="3.9" stroke-dasharray="19.3,2.4,13.0,2.8" stroke-dashoffset="26.3"/>
<line x1="1266.6" y1="1254.5" x2="1321.6" y2="1184.5" stroke="#363434" stroke-width="3.9" stroke-dasharray="17.4,2.6,10.6,2.7" stroke-dashoffset="18.0"/>
<line x1="1272.8" y1="1254.5" x2="1327.8" y2="1184.5" stroke="#363434" stroke-width="3.9" stroke-dasharray="14.0,2.0,7.0,2.2" stroke-dashoffset="1.9"/>
<line x1="1279.0" y1="1254.5" x2="1334.0" y2="1184.5" stroke="#363434" stroke-width="3.9" stroke-dasharray="18.6,2.0,7.2,2.8" stroke-dashoffset="19.9"/>
<line x1="1285.2" y1="1254.5" x2="1340.2" y2="1184.5" stroke="#363434" stroke-width="3.9" stroke-dasharray="14.1,2.9,9.3,2.2" stroke-dashoffset="18.3"/>
<line x1="1291.4" y1="1254.5" x2="1346.4" y2="1184.5" stroke="#363434" stroke-width="3.9" stroke-dasharray="13.3,2.9,13.1,2.9" stroke-dashoffset="23.4"/>
<line x1="1297.6" y1="1254.5" x2="1352.6" y2="1184.5" stroke="#363434" stroke-width="3.9" stroke-dasharray="17.3,2.2,13.1,2.6" stroke-dashoffset="26.7"/>
<line x1="1303.8" y1="1254.5" x2="1358.8" y2="1184.5" stroke="#363434" stroke-width="3.9" stroke-dasharray="12.7,2.2,12.9,2.4" stroke-dashoffset="5.1"/>
<line x1="1310.0" y1="1254.5" x2="1365.0" y2="1184.5" stroke="#363434" stroke-width="3.9" stroke-dasharray="18.0,2.5,10.2,2.0" stroke-dashoffset="16.4"/>
<line x1="1316.2" y1="1254.5" x2="1371.2" y2="1184.5" stroke="#363434" stroke-width="3.9" stroke-dasharray="13.0,2.1,6.3,2.4" stroke-dashoffset="23.4"/>
<line x1="1322.4" y1="1254.5" x2="1377.4" y2="1184.5" stroke="#363434" stroke-width="3.9" stroke-dasharray="19.4,2.6,6.2,2.5" stroke-dashoffset="16.2"/>
<line x1="1328.6" y1="1254.5" x2="1383.6" y2="1184.5" stroke="#363434" stroke-width="3.9" stroke-dasharray="14.2,2.5,9.7,2.4" stroke-dashoffset="14.8"/>
<line x1="1334.8" y1="1254.5" x2="1389.8" y2="1184.5" stroke="#363434" stroke-width="3.9" stroke-dasharray="19.3,2.4,12.2,2.4" stroke-dashoffset="16.7"/>
<line x1="1341.0" y1="1254.5" x2="1396.0" y2="1184.5" stroke="#363434" stroke-width="3.9" stroke-dasharray="13.4,2.1,13.0,2.3" stroke-dashoffset="5.1"/>
<line x1="1347.2" y1="1254.5" x2="1402.2" y2="1184.5" stroke="#363434" stroke-width="3.9" stroke-dasharray="13.0,2.8,13.1,2.2" stroke-dashoffset="2.5"/>
<line x1="1353.4" y1="1254.5" x2="1408.4" y2="1184.5" stroke="#363434" stroke-width="3.9" stroke-dasharray="18.3,2.3,13.2,2.4" stroke-dashoffset="5.8"/>
<line x1="1359.6" y1="1254.5" x2="1414.6" y2="1184.5" stroke="#363434" stroke-width="3.9" stroke-dasharray="15.0,2.5,12.8,2.5" stroke-dashoffset="21.3"/>
<line x1="1365.8" y1="1254.5" x2="1420.8" y2="1184.5" stroke="#363434" stroke-width="3.9" stroke-dasharray="16.1,2.3,10.3,2.4" stroke-dashoffset="11.0"/>
<line x1="1372.0" y1="1254.5" x2="1427.0" y2="1184.5" stroke="#363434" stroke-width="3.9" stroke-dasharray="14.9,2.7,6.4,2.5" stroke-dashoffset="4.7"/>
<line x1="1378.2" y1="1254.5" x2="1433.2" y2="1184.5" stroke="#363434" stroke-width="3.9" stroke-dasharray="16.6,2.3,9.6,2.6" stroke-dashoffset="2.4"/>
<line x1="1384.4" y1="1254.5" x2="1439.4" y2="1184.5" stroke="#363434" stroke-width="3.9" stroke-dasharray="17.7,2.3,8.1,2.4" stroke-dashoffset="0.0"/>
<line x1="1390.6" y1="1254.5" x2="1445.6" y2="1184.5" stroke="#363434" stroke-width="3.9" stroke-dasharray="12.7,2.7,12.4,2.8" stroke-dashoffset="21.1"/>
<line x1="1396.8" y1="1254.5" x2="1451.8" y2="1184.5" stroke="#363434" stroke-width="3.9" stroke-dasharray="16.9,2.3,9.9,2.5" stroke-dashoffset="22.3"/>
<line x1="1403.0" y1="1254.5" x2="1458.0" y2="1184.5" stroke="#363434" stroke-width="3.9" stroke-dasharray="19.9,2.5,7.7,2.7" stroke-dashoffset="19.0"/>
<line x1="1409.2" y1="1254.5" x2="1464.2" y2="1184.5" stroke="#363434" stroke-width="3.9" stroke-dasharray="14.6,2.8,11.2,2.3" stroke-dashoffset="3.5"/>
<line x1="1415.4" y1="1254.5" x2="1470.4" y2="1184.5" stroke="#363434" stroke-width="3.9" stroke-dasharray="13.3,2.7,6.6,2.9" stroke-dashoffset="1.6"/>
<line x1="1421.6" y1="1254.5" x2="1476.6" y2="1184.5" stroke="#363434" stroke-width="3.9" stroke-dasharray="20.0,2.8,8.0,2.5" stroke-dashoffset="3.5"/>
<line x1="1427.8" y1="1254.5" x2="1482.8" y2="1184.5" stroke="#363434" stroke-width="3.9" stroke-dasharray="13.8,2.5,13.4,2.5" stroke-dashoffset="30.0"/>
<line x1="1434.0" y1="1254.5" x2="1489.0" y2="1184.5" stroke="#363434" stroke-width="3.9" stroke-dasharray="18.4,2.1,8.3,2.7" stroke-dashoffset="20.2"/>
<line x1="1440.2" y1="1254.5" x2="1495.2" y2="1184.5" stroke="#363434" stroke-width="3.9" stroke-dasharray="18.5,2.2,13.9,2.9" stroke-dashoffset="27.2"/>
<line x1="1446.4" y1="1254.5" x2="1501.4" y2="1184.5" stroke="#363434" stroke-width="3.9" stroke-dasharray="12.9,2.1,9.3,2.9" stroke-dashoffset="2.3"/>
<line x1="1452.6" y1="1254.5" x2="1507.6" y2="1184.5" stroke="#363434" stroke-width="3.9" stroke-dasharray="12.6,2.9,8.6,2.2" stroke-dashoffset="11.9"/>
<line x1="1458.8" y1="1254.5" x2="1513.8" y2="1184.5" stroke="#363434" stroke-width="3.9" stroke-dasharray="14.8,2.9,6.5,2.6" stroke-dashoffset="13.7"/>
<line x1="1465.0" y1="1254.5" x2="1520.0" y2="1184.5" stroke="#363434" stroke-width="3.9" stroke-dasharray="13.7,2.9,10.3,2.5" stroke-dashoffset="25.9"/>
<line x1="1471.2" y1="1254.5" x2="1526.2" y2="1184.5" stroke="#363434" stroke-width="3.9" stroke-dasharray="15.9,2.9,13.9,2.8" stroke-dashoffset="19.0"/>
<line x1="1477.4" y1="1254.5" x2="1532.4" y2="1184.5" stroke="#363434" stroke-width="3.9" stroke-dasharray="19.9,2.1,9.6,2.1" stroke-dashoffset="15.5"/>
<line x1="1483.6" y1="1254.5" x2="1538.6" y2="1184.5" stroke="#363434" stroke-width="3.9" stroke-dasharray="14.5,2.0,13.9,2.6" stroke-dashoffset="14.3"/>
<line x1="1489.8" y1="1254.5" x2="1544.8" y2="1184.5" stroke="#363434" stroke-width="3.9" stroke-dasharray="16.3,2.6,7.7,2.6" stroke-dashoffset="12.5"/>
<line x1="1496.0" y1="1254.5" x2="1551.0" y2="1184.5" stroke="#363434" stroke-width="3.9" stroke-dasharray="17.2,2.7,11.0,2.8" stroke-dashoffset="3.6"/>
<line x1="1502.2" y1="1254.5" x2="1557.2" y2="1184.5" stroke="#363434" stroke-width="3.9" stroke-dasharray="18.5,2.3,14.0,2.5" stroke-dashoffset="27.0"/>
<line x1="1508.4" y1="1254.5" x2="1563.4" y2="1184.5" stroke="#363434" stroke-width="3.9" stroke-dasharray="15.4,2.1,12.1,2.1" stroke-dashoffset="4.7"/>
<line x1="1514.6" y1="1254.5" x2="1569.6" y2="1184.5" stroke="#363434" stroke-width="3.9" stroke-dasharray="13.9,2.0,8.2,2.5" stroke-dashoffset="21.4"/>
<line x1="1520.8" y1="1254.5" x2="1575.8" y2="1184.5" stroke="#363434" stroke-width="3.9" stroke-dasharray="13.3,3.0,7.8,2.8" stroke-dashoffset="14.8"/>
<line x1="1527.0" y1="1254.5" x2="1582.0" y2="1184.5" stroke="#363434" stroke-width="3.9" stroke-dasharray="14.0,2.5,6.4,2.4" stroke-dashoffset="4.5"/>
<line x1="1533.2" y1="1254.5" x2="1588.2" y2="1184.5" stroke="#363434" stroke-width="3.9" stroke-dasharray="14.4,2.3,6.4,2.5" stroke-dashoffset="9.8"/>
<line x1="1539.4" y1="1254.5" x2="1594.4" y2="1184.5" stroke="#363434" stroke-width="3.9" stroke-dasharray="16.3,2.4,10.7,2.5" stroke-dashoffset="12.0"/>
<line x1="1545.6" y1="1254.5" x2="1600.6" y2="1184.5" stroke="#363434" stroke-width="3.9" stroke-dasharray="14.3,2.1,8.8,2.2" stroke-dashoffset="5.1"/>
<line x1="1551.8" y1="1254.5" x2="1606.8" y2="1184.5" stroke="#363434" stroke-width="3.9" stroke-dasharray="19.0,2.6,13.4,2.4" stroke-dashoffset="13.8"/>
</g>
<line x1="1298.0" y1="1205.0" x2="1324.0" y2="1205.0" stroke-width="1.7" />
<line x1="1299.1" y1="1208.4" x2="1322.9" y2="1208.4" stroke-width="1.7" />
<line x1="1300.3" y1="1211.8" x2="1321.7" y2="1211.8" stroke-width="1.7" />
<line x1="1301.4" y1="1215.2" x2="1320.6" y2="1215.2" stroke-width="1.7" />
<line x1="1302.5" y1="1218.6" x2="1319.5" y2="1218.6" stroke-width="1.7" />
<line x1="1303.7" y1="1222.0" x2="1318.3" y2="1222.0" stroke-width="1.7" />
<line x1="1304.8" y1="1225.4" x2="1317.2" y2="1225.4" stroke-width="1.7" />
<line x1="1306.0" y1="1228.8" x2="1316.0" y2="1228.8" stroke-width="1.7" />
<line x1="1307.1" y1="1232.2" x2="1314.9" y2="1232.2" stroke-width="1.7" />
<line x1="1371.6" y1="1204.7" x2="1405.6" y2="1204.7" stroke-width="1.7" />
<line x1="1373.1" y1="1208.1" x2="1404.1" y2="1208.1" stroke-width="1.7" />
<line x1="1374.5" y1="1211.5" x2="1402.7" y2="1211.5" stroke-width="1.7" />
<line x1="1376.0" y1="1214.9" x2="1401.2" y2="1214.9" stroke-width="1.7" />
<line x1="1377.4" y1="1218.3" x2="1399.8" y2="1218.3" stroke-width="1.7" />
<line x1="1378.9" y1="1221.7" x2="1398.3" y2="1221.7" stroke-width="1.7" />
<line x1="1380.3" y1="1225.1" x2="1396.9" y2="1225.1" stroke-width="1.7" />
<line x1="1381.8" y1="1228.5" x2="1395.4" y2="1228.5" stroke-width="1.7" />
<line x1="1404.6" y1="1203.7" x2="1404.6" y2="1218.7" stroke-width="1.0" />
<line x1="1407.4" y1="1204.7" x2="1407.4" y2="1217.7" stroke-width="1.0" />
<line x1="1410.2" y1="1205.7" x2="1410.2" y2="1216.7" stroke-width="1.0" />
<polygon points="1290.0,1201.0 1461.0,1195.0 1461.0,1248.5 1290.0,1239.0" stroke-width="3.4" fill="none" />
<clipPath id="c1291_1317"><path d="M1403.0,1311.3 L1460.0,1308.0 L1460.0,1366.0 L1329.0,1356.7 C1333.0,1351.0 1339.0,1347.2 1346.0,1346.7 C1354.0,1346.2 1362.0,1352.3 1374.0,1356.4 C1373.0,1356.8 1391.0,1357.1 1397.0,1353.5 C1402.0,1350.0 1403.0,1331.2 1403.0,1327.6 Z"/></clipPath>
<path d="M1403.0,1311.3 L1460.0,1308.0 L1460.0,1366.0 L1329.0,1356.7 C1333.0,1351.0 1339.0,1347.2 1346.0,1346.7 C1354.0,1346.2 1362.0,1352.3 1374.0,1356.4 C1373.0,1356.8 1391.0,1357.1 1397.0,1353.5 C1402.0,1350.0 1403.0,1331.2 1403.0,1327.6 Z" fill="#fff" stroke="#fff" stroke-width="2"/>
<g clip-path="url(#c1291_1317)">
<line x1="1236.6" y1="1372.0" x2="1291.6" y2="1302.0" stroke="#363434" stroke-width="3.9" stroke-dasharray="17.3,2.6,12.6,2.5" stroke-dashoffset="17.0"/>
<line x1="1242.8" y1="1372.0" x2="1297.8" y2="1302.0" stroke="#363434" stroke-width="3.9" stroke-dasharray="16.9,2.7,10.9,2.3" stroke-dashoffset="5.3"/>
<line x1="1249.0" y1="1372.0" x2="1304.0" y2="1302.0" stroke="#363434" stroke-width="3.9" stroke-dasharray="19.4,2.4,11.8,3.0" stroke-dashoffset="23.9"/>
<line x1="1255.2" y1="1372.0" x2="1310.2" y2="1302.0" stroke="#363434" stroke-width="3.9" stroke-dasharray="14.8,2.7,11.5,2.9" stroke-dashoffset="4.2"/>
<line x1="1261.4" y1="1372.0" x2="1316.4" y2="1302.0" stroke="#363434" stroke-width="3.9" stroke-dasharray="18.4,2.5,11.5,2.0" stroke-dashoffset="12.2"/>
<line x1="1267.6" y1="1372.0" x2="1322.6" y2="1302.0" stroke="#363434" stroke-width="3.9" stroke-dasharray="17.4,2.3,9.6,2.8" stroke-dashoffset="29.4"/>
<line x1="1273.8" y1="1372.0" x2="1328.8" y2="1302.0" stroke="#363434" stroke-width="3.9" stroke-dasharray="18.5,2.3,12.4,2.6" stroke-dashoffset="19.8"/>
<line x1="1280.0" y1="1372.0" x2="1335.0" y2="1302.0" stroke="#363434" stroke-width="3.9" stroke-dasharray="15.7,2.5,6.6,2.2" stroke-dashoffset="11.3"/>
<line x1="1286.2" y1="1372.0" x2="1341.2" y2="1302.0" stroke="#363434" stroke-width="3.9" stroke-dasharray="14.6,2.8,12.0,2.4" stroke-dashoffset="23.5"/>
<line x1="1292.4" y1="1372.0" x2="1347.4" y2="1302.0" stroke="#363434" stroke-width="3.9" stroke-dasharray="12.5,2.8,6.4,2.7" stroke-dashoffset="13.2"/>
<line x1="1298.6" y1="1372.0" x2="1353.6" y2="1302.0" stroke="#363434" stroke-width="3.9" stroke-dasharray="14.9,2.7,14.0,2.8" stroke-dashoffset="9.3"/>
<line x1="1304.8" y1="1372.0" x2="1359.8" y2="1302.0" stroke="#363434" stroke-width="3.9" stroke-dasharray="19.8,2.6,7.1,3.0" stroke-dashoffset="20.3"/>
<line x1="1311.0" y1="1372.0" x2="1366.0" y2="1302.0" stroke="#363434" stroke-width="3.9" stroke-dasharray="14.2,2.8,12.7,2.1" stroke-dashoffset="29.1"/>
<line x1="1317.2" y1="1372.0" x2="1372.2" y2="1302.0" stroke="#363434" stroke-width="3.9" stroke-dasharray="17.5,2.5,14.0,3.0" stroke-dashoffset="3.7"/>
<line x1="1323.4" y1="1372.0" x2="1378.4" y2="1302.0" stroke="#363434" stroke-width="3.9" stroke-dasharray="18.9,2.3,8.4,2.2" stroke-dashoffset="24.8"/>
<line x1="1329.6" y1="1372.0" x2="1384.6" y2="1302.0" stroke="#363434" stroke-width="3.9" stroke-dasharray="18.2,2.9,12.3,2.6" stroke-dashoffset="28.9"/>
<line x1="1335.8" y1="1372.0" x2="1390.8" y2="1302.0" stroke="#363434" stroke-width="3.9" stroke-dasharray="15.5,2.2,12.1,2.0" stroke-dashoffset="12.2"/>
<line x1="1342.0" y1="1372.0" x2="1397.0" y2="1302.0" stroke="#363434" stroke-width="3.9" stroke-dasharray="18.3,2.8,9.1,2.9" stroke-dashoffset="10.3"/>
<line x1="1348.2" y1="1372.0" x2="1403.2" y2="1302.0" stroke="#363434" stroke-width="3.9" stroke-dasharray="17.1,2.3,12.0,2.4" stroke-dashoffset="18.8"/>
<line x1="1354.4" y1="1372.0" x2="1409.4" y2="1302.0" stroke="#363434" stroke-width="3.9" stroke-dasharray="12.3,2.6,7.5,2.1" stroke-dashoffset="4.7"/>
<line x1="1360.6" y1="1372.0" x2="1415.6" y2="1302.0" stroke="#363434" stroke-width="3.9" stroke-dasharray="17.9,2.9,11.2,2.0" stroke-dashoffset="26.1"/>
<line x1="1366.8" y1="1372.0" x2="1421.8" y2="1302.0" stroke="#363434" stroke-width="3.9" stroke-dasharray="13.9,2.3,10.8,2.7" stroke-dashoffset="17.2"/>
<line x1="1373.0" y1="1372.0" x2="1428.0" y2="1302.0" stroke="#363434" stroke-width="3.9" stroke-dasharray="15.5,2.5,9.3,2.2" stroke-dashoffset="28.5"/>
<line x1="1379.2" y1="1372.0" x2="1434.2" y2="1302.0" stroke="#363434" stroke-width="3.9" stroke-dasharray="13.3,2.1,10.0,2.6" stroke-dashoffset="12.9"/>
<line x1="1385.4" y1="1372.0" x2="1440.4" y2="1302.0" stroke="#363434" stroke-width="3.9" stroke-dasharray="16.2,2.0,6.7,2.9" stroke-dashoffset="13.6"/>
<line x1="1391.6" y1="1372.0" x2="1446.6" y2="1302.0" stroke="#363434" stroke-width="3.9" stroke-dasharray="19.9,2.9,12.3,2.2" stroke-dashoffset="10.1"/>
<line x1="1397.8" y1="1372.0" x2="1452.8" y2="1302.0" stroke="#363434" stroke-width="3.9" stroke-dasharray="19.2,3.0,11.4,2.9" stroke-dashoffset="3.5"/>
<line x1="1404.0" y1="1372.0" x2="1459.0" y2="1302.0" stroke="#363434" stroke-width="3.9" stroke-dasharray="15.5,2.7,10.6,2.8" stroke-dashoffset="19.8"/>
<line x1="1410.2" y1="1372.0" x2="1465.2" y2="1302.0" stroke="#363434" stroke-width="3.9" stroke-dasharray="14.2,2.6,7.7,2.2" stroke-dashoffset="25.9"/>
<line x1="1416.4" y1="1372.0" x2="1471.4" y2="1302.0" stroke="#363434" stroke-width="3.9" stroke-dasharray="18.7,2.9,6.9,2.7" stroke-dashoffset="4.3"/>
<line x1="1422.6" y1="1372.0" x2="1477.6" y2="1302.0" stroke="#363434" stroke-width="3.9" stroke-dasharray="18.7,2.2,8.9,2.5" stroke-dashoffset="12.6"/>
<line x1="1428.8" y1="1372.0" x2="1483.8" y2="1302.0" stroke="#363434" stroke-width="3.9" stroke-dasharray="18.6,2.2,6.8,2.4" stroke-dashoffset="22.3"/>
<line x1="1435.0" y1="1372.0" x2="1490.0" y2="1302.0" stroke="#363434" stroke-width="3.9" stroke-dasharray="19.7,2.1,13.4,2.5" stroke-dashoffset="5.4"/>
<line x1="1441.2" y1="1372.0" x2="1496.2" y2="1302.0" stroke="#363434" stroke-width="3.9" stroke-dasharray="12.5,2.9,8.4,2.9" stroke-dashoffset="5.9"/>
<line x1="1447.4" y1="1372.0" x2="1502.4" y2="1302.0" stroke="#363434" stroke-width="3.9" stroke-dasharray="18.6,2.4,10.2,2.3" stroke-dashoffset="5.3"/>
<line x1="1453.6" y1="1372.0" x2="1508.6" y2="1302.0" stroke="#363434" stroke-width="3.9" stroke-dasharray="14.4,2.7,12.6,2.2" stroke-dashoffset="3.1"/>
<line x1="1459.8" y1="1372.0" x2="1514.8" y2="1302.0" stroke="#363434" stroke-width="3.9" stroke-dasharray="19.2,2.4,8.5,2.2" stroke-dashoffset="4.9"/>
<line x1="1466.0" y1="1372.0" x2="1521.0" y2="1302.0" stroke="#363434" stroke-width="3.9" stroke-dasharray="19.2,2.0,9.8,2.9" stroke-dashoffset="21.9"/>
<line x1="1472.2" y1="1372.0" x2="1527.2" y2="1302.0" stroke="#363434" stroke-width="3.9" stroke-dasharray="12.6,3.0,8.6,2.2" stroke-dashoffset="14.3"/>
<line x1="1478.4" y1="1372.0" x2="1533.4" y2="1302.0" stroke="#363434" stroke-width="3.9" stroke-dasharray="18.5,2.2,8.2,2.1" stroke-dashoffset="5.8"/>
<line x1="1484.6" y1="1372.0" x2="1539.6" y2="1302.0" stroke="#363434" stroke-width="3.9" stroke-dasharray="13.9,3.0,8.1,3.0" stroke-dashoffset="3.3"/>
<line x1="1490.8" y1="1372.0" x2="1545.8" y2="1302.0" stroke="#363434" stroke-width="3.9" stroke-dasharray="17.5,2.7,6.6,2.2" stroke-dashoffset="25.1"/>
<line x1="1497.0" y1="1372.0" x2="1552.0" y2="1302.0" stroke="#363434" stroke-width="3.9" stroke-dasharray="19.5,2.3,12.5,2.5" stroke-dashoffset="5.8"/>
<line x1="1503.2" y1="1372.0" x2="1558.2" y2="1302.0" stroke="#363434" stroke-width="3.9" stroke-dasharray="16.4,3.0,12.8,2.5" stroke-dashoffset="0.9"/>
<line x1="1509.4" y1="1372.0" x2="1564.4" y2="1302.0" stroke="#363434" stroke-width="3.9" stroke-dasharray="15.4,3.0,13.4,2.2" stroke-dashoffset="0.2"/>
<line x1="1515.6" y1="1372.0" x2="1570.6" y2="1302.0" stroke="#363434" stroke-width="3.9" stroke-dasharray="15.9,2.0,12.2,2.8" stroke-dashoffset="22.1"/>
<line x1="1521.8" y1="1372.0" x2="1576.8" y2="1302.0" stroke="#363434" stroke-width="3.9" stroke-dasharray="16.4,2.8,13.3,2.8" stroke-dashoffset="19.8"/>
<line x1="1528.0" y1="1372.0" x2="1583.0" y2="1302.0" stroke="#363434" stroke-width="3.9" stroke-dasharray="17.9,2.1,11.2,2.8" stroke-dashoffset="21.2"/>
<line x1="1534.2" y1="1372.0" x2="1589.2" y2="1302.0" stroke="#363434" stroke-width="3.9" stroke-dasharray="16.5,2.8,9.2,2.9" stroke-dashoffset="27.9"/>
<line x1="1540.4" y1="1372.0" x2="1595.4" y2="1302.0" stroke="#363434" stroke-width="3.9" stroke-dasharray="13.9,2.9,9.7,2.1" stroke-dashoffset="23.6"/>
<line x1="1546.6" y1="1372.0" x2="1601.6" y2="1302.0" stroke="#363434" stroke-width="3.9" stroke-dasharray="13.1,3.0,10.8,2.3" stroke-dashoffset="13.9"/>
<line x1="1552.8" y1="1372.0" x2="1607.8" y2="1302.0" stroke="#363434" stroke-width="3.9" stroke-dasharray="19.5,2.7,11.9,2.1" stroke-dashoffset="16.8"/>
</g>
<line x1="1299.0" y1="1321.7" x2="1325.0" y2="1321.7" stroke-width="1.7" />
<line x1="1300.1" y1="1325.1" x2="1323.9" y2="1325.1" stroke-width="1.7" />
<line x1="1301.3" y1="1328.5" x2="1322.7" y2="1328.5" stroke-width="1.7" />
<line x1="1302.4" y1="1331.9" x2="1321.6" y2="1331.9" stroke-width="1.7" />
<line x1="1303.5" y1="1335.3" x2="1320.5" y2="1335.3" stroke-width="1.7" />
<line x1="1304.7" y1="1338.7" x2="1319.3" y2="1338.7" stroke-width="1.7" />
<line x1="1305.8" y1="1342.1" x2="1318.2" y2="1342.1" stroke-width="1.7" />
<line x1="1307.0" y1="1345.5" x2="1317.0" y2="1345.5" stroke-width="1.7" />
<line x1="1308.1" y1="1348.9" x2="1315.9" y2="1348.9" stroke-width="1.7" />
<line x1="1362.0" y1="1319.3" x2="1396.0" y2="1319.3" stroke-width="1.7" />
<line x1="1363.5" y1="1322.7" x2="1394.5" y2="1322.7" stroke-width="1.7" />
<line x1="1364.9" y1="1326.1" x2="1393.1" y2="1326.1" stroke-width="1.7" />
<line x1="1366.4" y1="1329.5" x2="1391.6" y2="1329.5" stroke-width="1.7" />
<line x1="1367.8" y1="1332.9" x2="1390.2" y2="1332.9" stroke-width="1.7" />
<line x1="1369.3" y1="1336.3" x2="1388.7" y2="1336.3" stroke-width="1.7" />
<line x1="1370.7" y1="1339.7" x2="1387.3" y2="1339.7" stroke-width="1.7" />
<line x1="1372.2" y1="1343.1" x2="1385.8" y2="1343.1" stroke-width="1.7" />
<line x1="1395.0" y1="1318.3" x2="1395.0" y2="1333.3" stroke-width="1.0" />
<line x1="1397.8" y1="1319.3" x2="1397.8" y2="1332.3" stroke-width="1.0" />
<line x1="1400.6" y1="1320.3" x2="1400.6" y2="1331.3" stroke-width="1.0" />
<polygon points="1291.0,1317.7 1460.0,1308.0 1460.0,1366.0 1291.0,1354.0" stroke-width="3.4" fill="none" />
<clipPath id="c1293_1435"><path d="M1393.0,1428.7 L1462.0,1424.4 L1462.0,1481.4 L1331.7,1473.9 C1335.7,1469.9 1341.7,1467.2 1348.7,1466.9 C1356.7,1466.5 1364.7,1471.1 1376.7,1473.0 C1363.0,1472.7 1381.0,1472.7 1387.0,1469.1 C1392.0,1465.4 1393.0,1448.9 1393.0,1445.3 Z"/></clipPath>
<path d="M1393.0,1428.7 L1462.0,1424.4 L1462.0,1481.4 L1331.7,1473.9 C1335.7,1469.9 1341.7,1467.2 1348.7,1466.9 C1356.7,1466.5 1364.7,1471.1 1376.7,1473.0 C1363.0,1472.7 1381.0,1472.7 1387.0,1469.1 C1392.0,1465.4 1393.0,1448.9 1393.0,1445.3 Z" fill="#fff" stroke="#fff" stroke-width="2"/>
<g clip-path="url(#c1293_1435)">
<line x1="1239.3" y1="1487.4" x2="1294.3" y2="1417.4" stroke="#363434" stroke-width="3.9" stroke-dasharray="17.4,2.8,6.7,2.3" stroke-dashoffset="24.6"/>
<line x1="1245.5" y1="1487.4" x2="1300.5" y2="1417.4" stroke="#363434" stroke-width="3.9" stroke-dasharray="15.2,2.0,6.0,2.9" stroke-dashoffset="4.2"/>
<line x1="1251.7" y1="1487.4" x2="1306.7" y2="1417.4" stroke="#363434" stroke-width="3.9" stroke-dasharray="19.5,2.0,13.9,2.1" stroke-dashoffset="8.2"/>
<line x1="1257.9" y1="1487.4" x2="1312.9" y2="1417.4" stroke="#363434" stroke-width="3.9" stroke-dasharray="16.0,2.0,9.3,2.6" stroke-dashoffset="12.8"/>
<line x1="1264.1" y1="1487.4" x2="1319.1" y2="1417.4" stroke="#363434" stroke-width="3.9" stroke-dasharray="14.5,3.0,10.9,2.9" stroke-dashoffset="14.0"/>
<line x1="1270.3" y1="1487.4" x2="1325.3" y2="1417.4" stroke="#363434" stroke-width="3.9" stroke-dasharray="15.7,2.7,10.8,2.2" stroke-dashoffset="29.9"/>
<line x1="1276.5" y1="1487.4" x2="1331.5" y2="1417.4" stroke="#363434" stroke-width="3.9" stroke-dasharray="12.6,2.3,10.3,2.6" stroke-dashoffset="27.4"/>
<line x1="1282.7" y1="1487.4" x2="1337.7" y2="1417.4" stroke="#363434" stroke-width="3.9" stroke-dasharray="14.2,2.7,9.8,2.1" stroke-dashoffset="8.0"/>
<line x1="1288.9" y1="1487.4" x2="1343.9" y2="1417.4" stroke="#363434" stroke-width="3.9" stroke-dasharray="16.4,2.8,11.1,2.2" stroke-dashoffset="13.9"/>
<line x1="1295.1" y1="1487.4" x2="1350.1" y2="1417.4" stroke="#363434" stroke-width="3.9" stroke-dasharray="15.2,2.6,9.3,2.7" stroke-dashoffset="1.0"/>
<line x1="1301.3" y1="1487.4" x2="1356.3" y2="1417.4" stroke="#363434" stroke-width="3.9" stroke-dasharray="15.9,2.4,13.9,2.4" stroke-dashoffset="19.9"/>
<line x1="1307.5" y1="1487.4" x2="1362.5" y2="1417.4" stroke="#363434" stroke-width="3.9" stroke-dasharray="19.7,2.2,12.7,2.2" stroke-dashoffset="7.2"/>
<line x1="1313.7" y1="1487.4" x2="1368.7" y2="1417.4" stroke="#363434" stroke-width="3.9" stroke-dasharray="17.2,2.9,13.4,2.6" stroke-dashoffset="13.6"/>
<line x1="1319.9" y1="1487.4" x2="1374.9" y2="1417.4" stroke="#363434" stroke-width="3.9" stroke-dasharray="13.3,2.7,8.7,2.9" stroke-dashoffset="17.7"/>
<line x1="1326.1" y1="1487.4" x2="1381.1" y2="1417.4" stroke="#363434" stroke-width="3.9" stroke-dasharray="13.5,2.1,9.5,2.0" stroke-dashoffset="2.6"/>
<line x1="1332.3" y1="1487.4" x2="1387.3" y2="1417.4" stroke="#363434" stroke-width="3.9" stroke-dasharray="19.1,2.6,6.3,2.3" stroke-dashoffset="29.0"/>
<line x1="1338.5" y1="1487.4" x2="1393.5" y2="1417.4" stroke="#363434" stroke-width="3.9" stroke-dasharray="14.9,2.8,6.0,2.3" stroke-dashoffset="1.0"/>
<line x1="1344.7" y1="1487.4" x2="1399.7" y2="1417.4" stroke="#363434" stroke-width="3.9" stroke-dasharray="12.2,2.4,10.7,2.3" stroke-dashoffset="11.7"/>
<line x1="1350.9" y1="1487.4" x2="1405.9" y2="1417.4" stroke="#363434" stroke-width="3.9" stroke-dasharray="14.0,2.0,8.3,2.1" stroke-dashoffset="8.7"/>
<line x1="1357.1" y1="1487.4" x2="1412.1" y2="1417.4" stroke="#363434" stroke-width="3.9" stroke-dasharray="14.3,2.4,11.0,2.6" stroke-dashoffset="12.0"/>
<line x1="1363.3" y1="1487.4" x2="1418.3" y2="1417.4" stroke="#363434" stroke-width="3.9" stroke-dasharray="13.2,2.1,6.7,2.8" stroke-dashoffset="28.5"/>
<line x1="1369.5" y1="1487.4" x2="1424.5" y2="1417.4" stroke="#363434" stroke-width="3.9" stroke-dasharray="17.5,2.8,9.9,2.3" stroke-dashoffset="8.6"/>
<line x1="1375.7" y1="1487.4" x2="1430.7" y2="1417.4" stroke="#363434" stroke-width="3.9" stroke-dasharray="12.7,2.2,7.7,2.3" stroke-dashoffset="13.0"/>
<line x1="1381.9" y1="1487.4" x2="1436.9" y2="1417.4" stroke="#363434" stroke-width="3.9" stroke-dasharray="15.5,2.8,9.9,2.6" stroke-dashoffset="16.7"/>
<line x1="1388.1" y1="1487.4" x2="1443.1" y2="1417.4" stroke="#363434" stroke-width="3.9" stroke-dasharray="17.6,2.1,13.3,2.8" stroke-dashoffset="6.9"/>
<line x1="1394.3" y1="1487.4" x2="1449.3" y2="1417.4" stroke="#363434" stroke-width="3.9" stroke-dasharray="14.6,2.7,11.3,2.9" stroke-dashoffset="29.6"/>
<line x1="1400.5" y1="1487.4" x2="1455.5" y2="1417.4" stroke="#363434" stroke-width="3.9" stroke-dasharray="14.8,2.8,10.6,2.2" stroke-dashoffset="15.9"/>
<line x1="1406.7" y1="1487.4" x2="1461.7" y2="1417.4" stroke="#363434" stroke-width="3.9" stroke-dasharray="17.4,2.3,9.6,2.2" stroke-dashoffset="12.3"/>
<line x1="1412.9" y1="1487.4" x2="1467.9" y2="1417.4" stroke="#363434" stroke-width="3.9" stroke-dasharray="19.0,2.2,8.9,2.7" stroke-dashoffset="14.0"/>
<line x1="1419.1" y1="1487.4" x2="1474.1" y2="1417.4" stroke="#363434" stroke-width="3.9" stroke-dasharray="12.4,2.4,6.8,2.3" stroke-dashoffset="25.7"/>
<line x1="1425.3" y1="1487.4" x2="1480.3" y2="1417.4" stroke="#363434" stroke-width="3.9" stroke-dasharray="18.1,2.9,13.2,2.7" stroke-dashoffset="17.5"/>
<line x1="1431.5" y1="1487.4" x2="1486.5" y2="1417.4" stroke="#363434" stroke-width="3.9" stroke-dasharray="16.0,2.2,7.6,2.4" stroke-dashoffset="13.6"/>
<line x1="1437.7" y1="1487.4" x2="1492.7" y2="1417.4" stroke="#363434" stroke-width="3.9" stroke-dasharray="17.4,2.3,10.3,2.7" stroke-dashoffset="14.0"/>
<line x1="1443.9" y1="1487.4" x2="1498.9" y2="1417.4" stroke="#363434" stroke-width="3.9" stroke-dasharray="16.0,2.9,8.6,2.4" stroke-dashoffset="3.2"/>
<line x1="1450.1" y1="1487.4" x2="1505.1" y2="1417.4" stroke="#363434" stroke-width="3.9" stroke-dasharray="18.1,2.4,10.8,2.1" stroke-dashoffset="5.3"/>
<line x1="1456.3" y1="1487.4" x2="1511.3" y2="1417.4" stroke="#363434" stroke-width="3.9" stroke-dasharray="16.2,2.2,9.6,2.6" stroke-dashoffset="13.1"/>
<line x1="1462.5" y1="1487.4" x2="1517.5" y2="1417.4" stroke="#363434" stroke-width="3.9" stroke-dasharray="14.4,2.8,8.4,2.5" stroke-dashoffset="2.7"/>
<line x1="1468.7" y1="1487.4" x2="1523.7" y2="1417.4" stroke="#363434" stroke-width="3.9" stroke-dasharray="17.5,2.8,6.4,2.8" stroke-dashoffset="21.5"/>
<line x1="1474.9" y1="1487.4" x2="1529.9" y2="1417.4" stroke="#363434" stroke-width="3.9" stroke-dasharray="16.2,2.9,10.7,2.8" stroke-dashoffset="15.8"/>
<line x1="1481.1" y1="1487.4" x2="1536.1" y2="1417.4" stroke="#363434" stroke-width="3.9" stroke-dasharray="13.2,2.0,10.2,2.8" stroke-dashoffset="2.6"/>
<line x1="1487.3" y1="1487.4" x2="1542.3" y2="1417.4" stroke="#363434" stroke-width="3.9" stroke-dasharray="14.0,2.8,9.2,2.2" stroke-dashoffset="10.6"/>
<line x1="1493.5" y1="1487.4" x2="1548.5" y2="1417.4" stroke="#363434" stroke-width="3.9" stroke-dasharray="16.3,2.2,13.1,2.2" stroke-dashoffset="28.4"/>
<line x1="1499.7" y1="1487.4" x2="1554.7" y2="1417.4" stroke="#363434" stroke-width="3.9" stroke-dasharray="15.0,3.0,10.9,2.9" stroke-dashoffset="9.8"/>
<line x1="1505.9" y1="1487.4" x2="1560.9" y2="1417.4" stroke="#363434" stroke-width="3.9" stroke-dasharray="15.1,2.4,7.0,2.4" stroke-dashoffset="19.5"/>
<line x1="1512.1" y1="1487.4" x2="1567.1" y2="1417.4" stroke="#363434" stroke-width="3.9" stroke-dasharray="16.9,2.8,7.0,2.3" stroke-dashoffset="13.4"/>
<line x1="1518.3" y1="1487.4" x2="1573.3" y2="1417.4" stroke="#363434" stroke-width="3.9" stroke-dasharray="17.6,2.3,12.5,2.1" stroke-dashoffset="12.9"/>
<line x1="1524.5" y1="1487.4" x2="1579.5" y2="1417.4" stroke="#363434" stroke-width="3.9" stroke-dasharray="13.4,2.3,6.7,2.2" stroke-dashoffset="5.6"/>
<line x1="1530.7" y1="1487.4" x2="1585.7" y2="1417.4" stroke="#363434" stroke-width="3.9" stroke-dasharray="18.6,2.9,9.4,2.1" stroke-dashoffset="16.5"/>
<line x1="1536.9" y1="1487.4" x2="1591.9" y2="1417.4" stroke="#363434" stroke-width="3.9" stroke-dasharray="17.1,2.9,8.9,2.5" stroke-dashoffset="0.2"/>
<line x1="1543.1" y1="1487.4" x2="1598.1" y2="1417.4" stroke="#363434" stroke-width="3.9" stroke-dasharray="12.5,2.9,10.3,3.0" stroke-dashoffset="11.9"/>
<line x1="1549.3" y1="1487.4" x2="1604.3" y2="1417.4" stroke="#363434" stroke-width="3.9" stroke-dasharray="16.9,2.5,14.0,2.2" stroke-dashoffset="10.9"/>
<line x1="1555.5" y1="1487.4" x2="1610.5" y2="1417.4" stroke="#363434" stroke-width="3.9" stroke-dasharray="14.0,2.3,11.5,2.7" stroke-dashoffset="21.3"/>
</g>
<line x1="1301.7" y1="1439.0" x2="1327.7" y2="1439.0" stroke-width="1.7" />
<line x1="1302.8" y1="1442.4" x2="1326.6" y2="1442.4" stroke-width="1.7" />
<line x1="1304.0" y1="1445.8" x2="1325.4" y2="1445.8" stroke-width="1.7" />
<line x1="1305.1" y1="1449.2" x2="1324.3" y2="1449.2" stroke-width="1.7" />
<line x1="1306.2" y1="1452.6" x2="1323.2" y2="1452.6" stroke-width="1.7" />
<line x1="1307.4" y1="1456.0" x2="1322.0" y2="1456.0" stroke-width="1.7" />
<line x1="1308.5" y1="1459.4" x2="1320.9" y2="1459.4" stroke-width="1.7" />
<line x1="1309.7" y1="1462.8" x2="1319.7" y2="1462.8" stroke-width="1.7" />
<line x1="1310.8" y1="1466.2" x2="1318.6" y2="1466.2" stroke-width="1.7" />
<line x1="1352.0" y1="1436.7" x2="1386.0" y2="1436.7" stroke-width="1.7" />
<line x1="1353.5" y1="1440.1" x2="1384.5" y2="1440.1" stroke-width="1.7" />
<line x1="1354.9" y1="1443.5" x2="1383.1" y2="1443.5" stroke-width="1.7" />
<line x1="1356.4" y1="1446.9" x2="1381.6" y2="1446.9" stroke-width="1.7" />
<line x1="1357.8" y1="1450.3" x2="1380.2" y2="1450.3" stroke-width="1.7" />
<line x1="1359.3" y1="1453.7" x2="1378.7" y2="1453.7" stroke-width="1.7" />
<line x1="1360.7" y1="1457.1" x2="1377.3" y2="1457.1" stroke-width="1.7" />
<line x1="1362.2" y1="1460.5" x2="1375.8" y2="1460.5" stroke-width="1.7" />
<line x1="1385.0" y1="1435.7" x2="1385.0" y2="1450.7" stroke-width="1.0" />
<line x1="1387.8" y1="1436.7" x2="1387.8" y2="1449.7" stroke-width="1.0" />
<line x1="1390.6" y1="1437.7" x2="1390.6" y2="1448.7" stroke-width="1.0" />
<polygon points="1293.7,1435.0 1462.0,1424.4 1462.0,1481.4 1293.7,1471.7" stroke-width="3.4" fill="none" />
<clipPath id="c1297_1570"><path d="M1395.6,1562.3 L1467.0,1556.7 L1467.0,1616.0 L1335.4,1608.6 C1339.4,1606.8 1345.4,1605.7 1352.4,1605.6 C1360.4,1605.4 1368.4,1608.4 1380.4,1607.6 C1365.6,1607.3 1383.6,1607.3 1389.6,1603.6 C1394.6,1600.0 1395.6,1582.3 1395.6,1578.7 Z"/></clipPath>
<path d="M1395.6,1562.3 L1467.0,1556.7 L1467.0,1616.0 L1335.4,1608.6 C1339.4,1606.8 1345.4,1605.7 1352.4,1605.6 C1360.4,1605.4 1368.4,1608.4 1380.4,1607.6 C1365.6,1607.3 1383.6,1607.3 1389.6,1603.6 C1394.6,1600.0 1395.6,1582.3 1395.6,1578.7 Z" fill="#fff" stroke="#fff" stroke-width="2"/>
<g clip-path="url(#c1297_1570)">
<line x1="1243.0" y1="1622.0" x2="1298.0" y2="1552.0" stroke="#363434" stroke-width="3.9" stroke-dasharray="13.1,2.2,10.5,2.1" stroke-dashoffset="4.6"/>
<line x1="1249.2" y1="1622.0" x2="1304.2" y2="1552.0" stroke="#363434" stroke-width="3.9" stroke-dasharray="18.5,2.3,6.8,2.9" stroke-dashoffset="29.1"/>
<line x1="1255.4" y1="1622.0" x2="1310.4" y2="1552.0" stroke="#363434" stroke-width="3.9" stroke-dasharray="16.8,2.1,7.5,2.3" stroke-dashoffset="5.9"/>
<line x1="1261.6" y1="1622.0" x2="1316.6" y2="1552.0" stroke="#363434" stroke-width="3.9" stroke-dasharray="12.4,2.7,9.9,2.1" stroke-dashoffset="26.8"/>
<line x1="1267.8" y1="1622.0" x2="1322.8" y2="1552.0" stroke="#363434" stroke-width="3.9" stroke-dasharray="17.0,3.0,14.0,2.5" stroke-dashoffset="3.5"/>
<line x1="1274.0" y1="1622.0" x2="1329.0" y2="1552.0" stroke="#363434" stroke-width="3.9" stroke-dasharray="14.0,2.7,6.0,2.5" stroke-dashoffset="19.4"/>
<line x1="1280.2" y1="1622.0" x2="1335.2" y2="1552.0" stroke="#363434" stroke-width="3.9" stroke-dasharray="18.7,2.0,6.6,2.8" stroke-dashoffset="22.6"/>
<line x1="1286.4" y1="1622.0" x2="1341.4" y2="1552.0" stroke="#363434" stroke-width="3.9" stroke-dasharray="18.6,2.4,13.8,2.7" stroke-dashoffset="21.4"/>
<line x1="1292.6" y1="1622.0" x2="1347.6" y2="1552.0" stroke="#363434" stroke-width="3.9" stroke-dasharray="18.5,2.9,9.9,2.9" stroke-dashoffset="17.2"/>
<line x1="1298.8" y1="1622.0" x2="1353.8" y2="1552.0" stroke="#363434" stroke-width="3.9" stroke-dasharray="16.9,2.4,9.4,2.8" stroke-dashoffset="0.4"/>
<line x1="1305.0" y1="1622.0" x2="1360.0" y2="1552.0" stroke="#363434" stroke-width="3.9" stroke-dasharray="17.5,2.9,12.1,2.7" stroke-dashoffset="22.5"/>
<line x1="1311.2" y1="1622.0" x2="1366.2" y2="1552.0" stroke="#363434" stroke-width="3.9" stroke-dasharray="13.6,2.3,7.7,2.6" stroke-dashoffset="0.4"/>
<line x1="1317.4" y1="1622.0" x2="1372.4" y2="1552.0" stroke="#363434" stroke-width="3.9" stroke-dasharray="13.3,3.0,10.2,2.2" stroke-dashoffset="8.7"/>
<line x1="1323.6" y1="1622.0" x2="1378.6" y2="1552.0" stroke="#363434" stroke-width="3.9" stroke-dasharray="13.6,2.8,10.2,2.8" stroke-dashoffset="2.2"/>
<line x1="1329.8" y1="1622.0" x2="1384.8" y2="1552.0" stroke="#363434" stroke-width="3.9" stroke-dasharray="18.0,2.2,7.3,2.4" stroke-dashoffset="22.3"/>
<line x1="1336.0" y1="1622.0" x2="1391.0" y2="1552.0" stroke="#363434" stroke-width="3.9" stroke-dasharray="18.6,2.9,8.1,2.6" stroke-dashoffset="8.1"/>
<line x1="1342.2" y1="1622.0" x2="1397.2" y2="1552.0" stroke="#363434" stroke-width="3.9" stroke-dasharray="19.1,2.2,11.6,2.7" stroke-dashoffset="21.1"/>
<line x1="1348.4" y1="1622.0" x2="1403.4" y2="1552.0" stroke="#363434" stroke-width="3.9" stroke-dasharray="13.5,2.4,9.9,3.0" stroke-dashoffset="1.5"/>
<line x1="1354.6" y1="1622.0" x2="1409.6" y2="1552.0" stroke="#363434" stroke-width="3.9" stroke-dasharray="18.1,2.7,13.4,2.1" stroke-dashoffset="19.5"/>
<line x1="1360.8" y1="1622.0" x2="1415.8" y2="1552.0" stroke="#363434" stroke-width="3.9" stroke-dasharray="18.8,2.7,7.3,2.6" stroke-dashoffset="17.8"/>
<line x1="1367.0" y1="1622.0" x2="1422.0" y2="1552.0" stroke="#363434" stroke-width="3.9" stroke-dasharray="13.8,2.3,10.9,2.8" stroke-dashoffset="6.6"/>
<line x1="1373.2" y1="1622.0" x2="1428.2" y2="1552.0" stroke="#363434" stroke-width="3.9" stroke-dasharray="19.6,2.1,13.1,2.1" stroke-dashoffset="5.7"/>
<line x1="1379.4" y1="1622.0" x2="1434.4" y2="1552.0" stroke="#363434" stroke-width="3.9" stroke-dasharray="14.9,2.6,7.6,2.6" stroke-dashoffset="23.9"/>
<line x1="1385.6" y1="1622.0" x2="1440.6" y2="1552.0" stroke="#363434" stroke-width="3.9" stroke-dasharray="12.5,2.5,13.4,2.5" stroke-dashoffset="16.8"/>
<line x1="1391.8" y1="1622.0" x2="1446.8" y2="1552.0" stroke="#363434" stroke-width="3.9" stroke-dasharray="17.2,2.4,10.4,2.8" stroke-dashoffset="10.7"/>
<line x1="1398.0" y1="1622.0" x2="1453.0" y2="1552.0" stroke="#363434" stroke-width="3.9" stroke-dasharray="12.6,2.3,9.4,2.1" stroke-dashoffset="29.0"/>
<line x1="1404.2" y1="1622.0" x2="1459.2" y2="1552.0" stroke="#363434" stroke-width="3.9" stroke-dasharray="17.8,2.3,9.8,2.1" stroke-dashoffset="5.7"/>
<line x1="1410.4" y1="1622.0" x2="1465.4" y2="1552.0" stroke="#363434" stroke-width="3.9" stroke-dasharray="14.6,2.4,11.1,2.5" stroke-dashoffset="19.6"/>
<line x1="1416.6" y1="1622.0" x2="1471.6" y2="1552.0" stroke="#363434" stroke-width="3.9" stroke-dasharray="19.7,2.7,6.1,2.7" stroke-dashoffset="29.8"/>
<line x1="1422.8" y1="1622.0" x2="1477.8" y2="1552.0" stroke="#363434" stroke-width="3.9" stroke-dasharray="15.7,2.3,7.9,2.2" stroke-dashoffset="25.8"/>
<line x1="1429.0" y1="1622.0" x2="1484.0" y2="1552.0" stroke="#363434" stroke-width="3.9" stroke-dasharray="17.1,2.2,13.4,2.7" stroke-dashoffset="8.0"/>
<line x1="1435.2" y1="1622.0" x2="1490.2" y2="1552.0" stroke="#363434" stroke-width="3.9" stroke-dasharray="16.3,2.9,7.7,2.5" stroke-dashoffset="1.4"/>
<line x1="1441.4" y1="1622.0" x2="1496.4" y2="1552.0" stroke="#363434" stroke-width="3.9" stroke-dasharray="19.6,2.8,8.0,2.1" stroke-dashoffset="29.3"/>
<line x1="1447.6" y1="1622.0" x2="1502.6" y2="1552.0" stroke="#363434" stroke-width="3.9" stroke-dasharray="15.0,2.7,7.1,2.3" stroke-dashoffset="1.4"/>
<line x1="1453.8" y1="1622.0" x2="1508.8" y2="1552.0" stroke="#363434" stroke-width="3.9" stroke-dasharray="16.0,2.6,13.0,2.0" stroke-dashoffset="19.3"/>
<line x1="1460.0" y1="1622.0" x2="1515.0" y2="1552.0" stroke="#363434" stroke-width="3.9" stroke-dasharray="12.7,2.7,10.6,2.4" stroke-dashoffset="16.0"/>
<line x1="1466.2" y1="1622.0" x2="1521.2" y2="1552.0" stroke="#363434" stroke-width="3.9" stroke-dasharray="18.7,2.5,6.7,2.2" stroke-dashoffset="4.8"/>
<line x1="1472.4" y1="1622.0" x2="1527.4" y2="1552.0" stroke="#363434" stroke-width="3.9" stroke-dasharray="18.4,2.4,8.8,2.5" stroke-dashoffset="17.0"/>
<line x1="1478.6" y1="1622.0" x2="1533.6" y2="1552.0" stroke="#363434" stroke-width="3.9" stroke-dasharray="13.8,2.7,11.0,2.8" stroke-dashoffset="26.8"/>
<line x1="1484.8" y1="1622.0" x2="1539.8" y2="1552.0" stroke="#363434" stroke-width="3.9" stroke-dasharray="19.3,2.7,11.3,2.2" stroke-dashoffset="25.8"/>
<line x1="1491.0" y1="1622.0" x2="1546.0" y2="1552.0" stroke="#363434" stroke-width="3.9" stroke-dasharray="18.6,2.7,8.0,2.3" stroke-dashoffset="26.3"/>
<line x1="1497.2" y1="1622.0" x2="1552.2" y2="1552.0" stroke="#363434" stroke-width="3.9" stroke-dasharray="13.6,2.4,10.3,2.8" stroke-dashoffset="29.6"/>
<line x1="1503.4" y1="1622.0" x2="1558.4" y2="1552.0" stroke="#363434" stroke-width="3.9" stroke-dasharray="14.3,2.5,13.5,2.1" stroke-dashoffset="20.4"/>
<line x1="1509.6" y1="1622.0" x2="1564.6" y2="1552.0" stroke="#363434" stroke-width="3.9" stroke-dasharray="12.8,2.2,9.5,2.7" stroke-dashoffset="29.6"/>
<line x1="1515.8" y1="1622.0" x2="1570.8" y2="1552.0" stroke="#363434" stroke-width="3.9" stroke-dasharray="12.2,2.3,11.8,2.2" stroke-dashoffset="1.5"/>
<line x1="1522.0" y1="1622.0" x2="1577.0" y2="1552.0" stroke="#363434" stroke-width="3.9" stroke-dasharray="12.9,2.8,8.0,2.9" stroke-dashoffset="6.7"/>
<line x1="1528.2" y1="1622.0" x2="1583.2" y2="1552.0" stroke="#363434" stroke-width="3.9" stroke-dasharray="15.1,2.7,13.5,2.3" stroke-dashoffset="3.8"/>
<line x1="1534.4" y1="1622.0" x2="1589.4" y2="1552.0" stroke="#363434" stroke-width="3.9" stroke-dasharray="13.3,2.7,9.5,2.6" stroke-dashoffset="7.3"/>
<line x1="1540.6" y1="1622.0" x2="1595.6" y2="1552.0" stroke="#363434" stroke-width="3.9" stroke-dasharray="13.0,2.2,10.4,2.5" stroke-dashoffset="18.9"/>
<line x1="1546.8" y1="1622.0" x2="1601.8" y2="1552.0" stroke="#363434" stroke-width="3.9" stroke-dasharray="15.2,2.6,7.0,2.6" stroke-dashoffset="3.6"/>
<line x1="1553.0" y1="1622.0" x2="1608.0" y2="1552.0" stroke="#363434" stroke-width="3.9" stroke-dasharray="15.7,2.7,10.6,2.4" stroke-dashoffset="19.6"/>
<line x1="1559.2" y1="1622.0" x2="1614.2" y2="1552.0" stroke="#363434" stroke-width="3.9" stroke-dasharray="18.5,2.6,8.2,2.6" stroke-dashoffset="12.3"/>
</g>
<line x1="1305.4" y1="1574.0" x2="1331.4" y2="1574.0" stroke-width="1.7" />
<line x1="1306.5" y1="1577.4" x2="1330.3" y2="1577.4" stroke-width="1.7" />
<line x1="1307.7" y1="1580.8" x2="1329.1" y2="1580.8" stroke-width="1.7" />
<line x1="1308.8" y1="1584.2" x2="1328.0" y2="1584.2" stroke-width="1.7" />
<line x1="1310.0" y1="1587.6" x2="1326.9" y2="1587.6" stroke-width="1.7" />
<line x1="1311.1" y1="1591.0" x2="1325.7" y2="1591.0" stroke-width="1.7" />
<line x1="1312.2" y1="1594.4" x2="1324.6" y2="1594.4" stroke-width="1.7" />
<line x1="1313.4" y1="1597.8" x2="1323.4" y2="1597.8" stroke-width="1.7" />
<line x1="1314.5" y1="1601.2" x2="1322.3" y2="1601.2" stroke-width="1.7" />
<line x1="1354.6" y1="1570.3" x2="1388.6" y2="1570.3" stroke-width="1.7" />
<line x1="1355.9" y1="1573.7" x2="1387.3" y2="1573.7" stroke-width="1.7" />
<line x1="1357.1" y1="1577.1" x2="1386.0" y2="1577.1" stroke-width="1.7" />
<line x1="1358.4" y1="1580.5" x2="1384.8" y2="1580.5" stroke-width="1.7" />
<line x1="1359.7" y1="1583.9" x2="1383.5" y2="1583.9" stroke-width="1.7" />
<line x1="1361.0" y1="1587.3" x2="1382.2" y2="1587.3" stroke-width="1.7" />
<line x1="1362.2" y1="1590.7" x2="1380.9" y2="1590.7" stroke-width="1.7" />
<line x1="1363.5" y1="1594.1" x2="1379.7" y2="1594.1" stroke-width="1.7" />
<line x1="1364.8" y1="1597.5" x2="1378.4" y2="1597.5" stroke-width="1.7" />
<line x1="1387.6" y1="1569.3" x2="1387.6" y2="1584.3" stroke-width="1.0" />
<line x1="1390.4" y1="1570.3" x2="1390.4" y2="1583.3" stroke-width="1.0" />
<line x1="1393.2" y1="1571.3" x2="1393.2" y2="1582.3" stroke-width="1.0" />
<polygon points="1297.4,1570.0 1467.0,1556.7 1467.0,1616.0 1297.4,1606.4" stroke-width="3.4" fill="none" />
</g>
<line x1="1189.0" y1="489.0" x2="1249.0" y2="489.0" stroke-width="4.0" stroke-linecap="round"/>
<circle cx="1189.5" cy="485.5" r="2.6" stroke-width="0" fill="#fff"/>
<line x1="1248.0" y1="489.0" x2="1246.5" y2="496.0" stroke-width="3.0" stroke-linecap="round"/>
<line x1="1201.0" y1="455.8" x2="1259.0" y2="455.8" stroke-width="3.6" stroke-linecap="round"/>
<circle cx="1201.0" cy="459.5" r="2.6" stroke-width="0" fill="#fff"/>
<circle cx="1258.0" cy="458.5" r="2.2" stroke-width="0" fill="#fff"/>
<text x="1205.0" y="481.0" font-family="Liberation Serif" font-size="33.0" font-weight="bold" font-style="italic" text-anchor="start"  fill="#fff" textLength="57.0" lengthAdjust="spacingAndGlyphs" stroke="#fff" stroke-width="1.60">Fig.</text>
<text x="1264.0" y="481.6" font-family="Liberation Sans" font-size="38.0" font-weight="bold" font-style="normal" text-anchor="start"  fill="#fff" textLength="24.0" lengthAdjust="spacingAndGlyphs" stroke="#fff" stroke-width="0.80">5</text>
<line x1="1188.8" y1="607.9" x2="1243.4" y2="607.9" stroke-width="3.64" stroke-linecap="round"/>
<circle cx="1189.3" cy="604.7" r="2.4" stroke-width="0" fill="#fff"/>
<line x1="1242.5" y1="607.9" x2="1241.1" y2="614.2" stroke-width="2.73" stroke-linecap="round"/>
<line x1="1199.7" y1="577.6" x2="1252.5" y2="577.6" stroke-width="3.2760000000000002" stroke-linecap="round"/>
<circle cx="1199.7" cy="581.0" r="2.4" stroke-width="0" fill="#fff"/>
<circle cx="1251.6" cy="580.1" r="2.0" stroke-width="0" fill="#fff"/>
<text x="1203.4" y="600.6" font-family="Liberation Serif" font-size="30.03" font-weight="bold" font-style="italic" text-anchor="start"  fill="#fff" textLength="51.9" lengthAdjust="spacingAndGlyphs" stroke="#fff" stroke-width="1.46">Fig.</text>
<text x="1257.1" y="601.1" font-family="Liberation Sans" font-size="34.58" font-weight="bold" font-style="normal" text-anchor="start"  fill="#fff" textLength="21.8" lengthAdjust="spacingAndGlyphs" stroke="#fff" stroke-width="0.73">6</text>
<line x1="1189.8" y1="733.5" x2="1243.8" y2="733.5" stroke-width="3.6" stroke-linecap="round"/>
<circle cx="1190.2" cy="730.4" r="2.3" stroke-width="0" fill="#fff"/>
<line x1="1242.9" y1="733.5" x2="1241.5" y2="739.8" stroke-width="2.7" stroke-linecap="round"/>
<line x1="1200.6" y1="703.6" x2="1252.8" y2="703.6" stroke-width="3.24" stroke-linecap="round"/>
<circle cx="1200.6" cy="707.0" r="2.3" stroke-width="0" fill="#fff"/>
<circle cx="1251.9" cy="706.0" r="2.0" stroke-width="0" fill="#fff"/>
<text x="1204.2" y="726.3" font-family="Liberation Serif" font-size="29.7" font-weight="bold" font-style="italic" text-anchor="start"  fill="#fff" textLength="51.3" lengthAdjust="spacingAndGlyphs" stroke="#fff" stroke-width="1.44">Fig.</text>
<text x="1257.3" y="726.8" font-family="Liberation Sans" font-size="34.2" font-weight="bold" font-style="normal" text-anchor="start"  fill="#fff" textLength="21.6" lengthAdjust="spacingAndGlyphs" stroke="#fff" stroke-width="0.72">7</text>
<line x1="1184.8" y1="870.5" x2="1238.8" y2="870.5" stroke-width="3.6" stroke-linecap="round"/>
<circle cx="1185.2" cy="867.4" r="2.3" stroke-width="0" fill="#fff"/>
<line x1="1237.9" y1="870.5" x2="1236.5" y2="876.8" stroke-width="2.7" stroke-linecap="round"/>
<line x1="1195.6" y1="840.6" x2="1247.8" y2="840.6" stroke-width="3.24" stroke-linecap="round"/>
<circle cx="1195.6" cy="844.0" r="2.3" stroke-width="0" fill="#fff"/>
<circle cx="1246.9" cy="843.0" r="2.0" stroke-width="0" fill="#fff"/>
<text x="1199.2" y="863.3" font-family="Liberation Serif" font-size="29.7" font-weight="bold" font-style="italic" text-anchor="start"  fill="#fff" textLength="51.3" lengthAdjust="spacingAndGlyphs" stroke="#fff" stroke-width="1.44">Fig.</text>
<text x="1252.3" y="863.8" font-family="Liberation Sans" font-size="34.2" font-weight="bold" font-style="normal" text-anchor="start"  fill="#fff" textLength="21.6" lengthAdjust="spacingAndGlyphs" stroke="#fff" stroke-width="0.72">8</text>
<line x1="1189.7" y1="991.1" x2="1241.3" y2="991.1" stroke-width="3.44" stroke-linecap="round"/>
<circle cx="1190.2" cy="988.1" r="2.2" stroke-width="0" fill="#fff"/>
<line x1="1240.5" y1="991.1" x2="1239.2" y2="997.1" stroke-width="2.58" stroke-linecap="round"/>
<line x1="1200.0" y1="962.5" x2="1249.9" y2="962.5" stroke-width="3.096" stroke-linecap="round"/>
<circle cx="1200.0" cy="965.7" r="2.2" stroke-width="0" fill="#fff"/>
<circle cx="1249.1" cy="964.9" r="1.9" stroke-width="0" fill="#fff"/>
<text x="1203.5" y="984.2" font-family="Liberation Serif" font-size="28.38" font-weight="bold" font-style="italic" text-anchor="start"  fill="#fff" textLength="49.0" lengthAdjust="spacingAndGlyphs" stroke="#fff" stroke-width="1.38">Fig.</text>
<text x="1254.2" y="984.7" font-family="Liberation Sans" font-size="32.68" font-weight="bold" font-style="normal" text-anchor="start"  fill="#fff" textLength="20.6" lengthAdjust="spacingAndGlyphs" stroke="#fff" stroke-width="0.69">9</text>
<line x1="1189.7" y1="1110.5" x2="1241.9" y2="1110.5" stroke-width="3.48" stroke-linecap="round"/>
<circle cx="1190.2" cy="1107.4" r="2.3" stroke-width="0" fill="#fff"/>
<line x1="1241.1" y1="1110.5" x2="1239.8" y2="1116.5" stroke-width="2.61" stroke-linecap="round"/>
<line x1="1200.2" y1="1081.6" x2="1250.6" y2="1081.6" stroke-width="3.132" stroke-linecap="round"/>
<circle cx="1200.2" cy="1084.8" r="2.3" stroke-width="0" fill="#fff"/>
<circle cx="1249.8" cy="1083.9" r="1.9" stroke-width="0" fill="#fff"/>
<text x="1203.7" y="1103.5" font-family="Liberation Serif" font-size="28.71" font-weight="bold" font-style="italic" text-anchor="start"  fill="#fff" textLength="49.6" lengthAdjust="spacingAndGlyphs" stroke="#fff" stroke-width="1.39">Fig.</text>
<text x="1255.0" y="1104.0" font-family="Liberation Sans" font-size="33.06" font-weight="bold" font-style="normal" text-anchor="start"  fill="#fff" textLength="23.5" lengthAdjust="spacingAndGlyphs" stroke="#fff" stroke-width="0.70">10</text>
<line x1="1186.9" y1="1234.2" x2="1243.9" y2="1234.2" stroke-width="3.8" stroke-linecap="round"/>
<circle cx="1187.4" cy="1230.9" r="2.5" stroke-width="0" fill="#fff"/>
<line x1="1243.0" y1="1234.2" x2="1241.5" y2="1240.9" stroke-width="2.8499999999999996" stroke-linecap="round"/>
<line x1="1198.3" y1="1202.7" x2="1253.4" y2="1202.7" stroke-width="3.42" stroke-linecap="round"/>
<circle cx="1198.3" cy="1206.2" r="2.5" stroke-width="0" fill="#fff"/>
<circle cx="1252.5" cy="1205.3" r="2.1" stroke-width="0" fill="#fff"/>
<text x="1202.1" y="1226.7" font-family="Liberation Serif" font-size="31.349999999999998" font-weight="bold" font-style="italic" text-anchor="start"  fill="#fff" textLength="54.1" lengthAdjust="spacingAndGlyphs" stroke="#fff" stroke-width="1.52">Fig.</text>
<text x="1258.2" y="1227.2" font-family="Liberation Sans" font-size="36.1" font-weight="bold" font-style="normal" text-anchor="start"  fill="#fff" textLength="25.6" lengthAdjust="spacingAndGlyphs" stroke="#fff" stroke-width="0.76">11</text>
<line x1="1186.8" y1="1354.2" x2="1242.0" y2="1354.2" stroke-width="3.68" stroke-linecap="round"/>
<circle cx="1187.3" cy="1351.0" r="2.4" stroke-width="0" fill="#fff"/>
<line x1="1241.1" y1="1354.2" x2="1239.7" y2="1360.6" stroke-width="2.7600000000000002" stroke-linecap="round"/>
<line x1="1197.9" y1="1323.7" x2="1251.2" y2="1323.7" stroke-width="3.3120000000000003" stroke-linecap="round"/>
<circle cx="1197.9" cy="1327.1" r="2.4" stroke-width="0" fill="#fff"/>
<circle cx="1250.3" cy="1326.1" r="2.0" stroke-width="0" fill="#fff"/>
<text x="1201.6" y="1346.8" font-family="Liberation Serif" font-size="30.360000000000003" font-weight="bold" font-style="italic" text-anchor="start"  fill="#fff" textLength="52.4" lengthAdjust="spacingAndGlyphs" stroke="#fff" stroke-width="1.47">Fig.</text>
<text x="1255.8" y="1347.4" font-family="Liberation Sans" font-size="34.96" font-weight="bold" font-style="normal" text-anchor="start"  fill="#fff" textLength="24.8" lengthAdjust="spacingAndGlyphs" stroke="#fff" stroke-width="0.74">12</text>
<line x1="1189.7" y1="1469.1" x2="1241.3" y2="1469.1" stroke-width="3.44" stroke-linecap="round"/>
<circle cx="1190.2" cy="1466.1" r="2.2" stroke-width="0" fill="#fff"/>
<line x1="1240.5" y1="1469.1" x2="1239.2" y2="1475.1" stroke-width="2.58" stroke-linecap="round"/>
<line x1="1200.0" y1="1440.5" x2="1249.9" y2="1440.5" stroke-width="3.096" stroke-linecap="round"/>
<circle cx="1200.0" cy="1443.7" r="2.2" stroke-width="0" fill="#fff"/>
<circle cx="1249.1" cy="1442.9" r="1.9" stroke-width="0" fill="#fff"/>
<text x="1203.5" y="1462.2" font-family="Liberation Serif" font-size="28.38" font-weight="bold" font-style="italic" text-anchor="start"  fill="#fff" textLength="49.0" lengthAdjust="spacingAndGlyphs" stroke="#fff" stroke-width="1.38">Fig.</text>
<text x="1254.2" y="1462.7" font-family="Liberation Sans" font-size="32.68" font-weight="bold" font-style="normal" text-anchor="start"  fill="#fff" textLength="23.2" lengthAdjust="spacingAndGlyphs" stroke="#fff" stroke-width="0.69">13</text>
<line x1="1187.6" y1="1598.3" x2="1236.2" y2="1598.3" stroke-width="3.24" stroke-linecap="round"/>
<circle cx="1188.0" cy="1595.5" r="2.1" stroke-width="0" fill="#fff"/>
<line x1="1235.4" y1="1598.3" x2="1234.2" y2="1604.0" stroke-width="2.43" stroke-linecap="round"/>
<line x1="1197.3" y1="1571.5" x2="1244.3" y2="1571.5" stroke-width="2.9160000000000004" stroke-linecap="round"/>
<circle cx="1197.3" cy="1574.5" r="2.1" stroke-width="0" fill="#fff"/>
<circle cx="1243.5" cy="1573.6" r="1.8" stroke-width="0" fill="#fff"/>
<text x="1200.6" y="1591.9" font-family="Liberation Serif" font-size="26.73" font-weight="bold" font-style="italic" text-anchor="start"  fill="#fff" textLength="46.2" lengthAdjust="spacingAndGlyphs" stroke="#fff" stroke-width="1.30">Fig.</text>
<text x="1248.4" y="1592.4" font-family="Liberation Sans" font-size="30.78" font-weight="bold" font-style="normal" text-anchor="start"  fill="#fff" textLength="21.9" lengthAdjust="spacingAndGlyphs" stroke="#fff" stroke-width="0.65">14</text>
</g>
<g stroke="none" fill="#fff">
<text x="1364.0" y="445.0" font-family="Liberation Serif" font-size="18" font-weight="normal" font-style="italic" text-anchor="start"  fill="#fff" stroke="#fff" stroke-width="0.5">13</text>
<text x="1406.0" y="445.0" font-family="Liberation Serif" font-size="18" font-weight="normal" font-style="italic" text-anchor="start"  fill="#fff" stroke="#fff" stroke-width="0.5">14</text>
<text x="1443.0" y="440.0" font-family="Liberation Sans" font-size="26" font-weight="normal" font-style="normal" text-anchor="start"  fill="#fff" stroke="#fff" stroke-width="0.4">A</text>
<text x="1272.0" y="511.0" font-family="Liberation Serif" font-size="20" font-weight="normal" font-style="italic" text-anchor="start"  fill="#fff" stroke="#fff" stroke-width="0.5">6</text>
<text x="1316.0" y="524.0" font-family="Liberation Serif" font-size="20" font-weight="normal" font-style="italic" text-anchor="start"  fill="#fff" stroke="#fff" stroke-width="0.5">11</text>
<text x="1366.0" y="524.0" font-family="Liberation Serif" font-size="20" font-weight="normal" font-style="italic" text-anchor="start"  fill="#fff" stroke="#fff" stroke-width="0.5">12</text>
<text x="1410.0" y="525.0" font-family="Liberation Serif" font-size="20" font-weight="normal" font-style="italic" text-anchor="start"  fill="#fff" stroke="#fff" stroke-width="0.5">7</text>
<text x="1444.0" y="562.0" font-family="Liberation Sans" font-size="25" font-weight="normal" font-style="normal" text-anchor="start"  fill="#fff" stroke="#fff" stroke-width="0.4">A</text>
<text x="1280.0" y="636.0" font-family="Liberation Serif" font-size="20" font-weight="normal" font-style="italic" text-anchor="start"  fill="#fff" stroke="#fff" stroke-width="0.5">6</text>
<text x="1383.0" y="641.0" font-family="Liberation Serif" font-size="20" font-weight="normal" font-style="italic" text-anchor="start"  fill="#fff" stroke="#fff" stroke-width="0.5">7</text>
<text x="1313.0" y="691.0" font-family="Liberation Serif" font-size="20" font-weight="normal" font-style="italic" text-anchor="start"  fill="#fff" stroke="#fff" stroke-width="0.5">3</text>
<text x="1357.0" y="691.0" font-family="Liberation Serif" font-size="19" font-weight="normal" font-style="italic" text-anchor="start"  fill="#fff" stroke="#fff" stroke-width="0.5">13</text>
<text x="1396.0" y="691.0" font-family="Liberation Serif" font-size="19" font-weight="normal" font-style="italic" text-anchor="start"  fill="#fff" stroke="#fff" stroke-width="0.5">14</text>
<text x="1442.0" y="689.0" font-family="Liberation Sans" font-size="25" font-weight="normal" font-style="normal" text-anchor="start"  fill="#fff" stroke="#fff" stroke-width="0.4">A</text>
<text x="1304.0" y="775.0" font-family="Liberation Serif" font-size="19" font-weight="normal" font-style="italic" text-anchor="start"  fill="#fff" stroke="#fff" stroke-width="0.5">11</text>
<text x="1340.0" y="775.0" font-family="Liberation Serif" font-size="19" font-weight="normal" font-style="italic" text-anchor="start"  fill="#fff" stroke="#fff" stroke-width="0.5">7</text>
<text x="1371.0" y="775.0" font-family="Liberation Serif" font-size="19" font-weight="normal" font-style="italic" text-anchor="start"  fill="#fff" stroke="#fff" stroke-width="0.5">12</text>
<text x="1410.0" y="775.0" font-family="Liberation Serif" font-size="19" font-weight="normal" font-style="italic" text-anchor="start"  fill="#fff" stroke="#fff" stroke-width="0.5">4</text>
<text x="1449.0" y="823.0" font-family="Liberation Sans" font-size="25" font-weight="normal" font-style="normal" text-anchor="start"  fill="#fff" stroke="#fff" stroke-width="0.4">A</text>
<text x="1383.0" y="910.0" font-family="Liberation Serif" font-size="21" font-weight="normal" font-style="italic" text-anchor="start"  fill="#fff" stroke="#fff" stroke-width="0.5">7</text>
<text x="1444.0" y="947.0" font-family="Liberation Sans" font-size="25" font-weight="normal" font-style="normal" text-anchor="start"  fill="#fff" stroke="#fff" stroke-width="0.4">A</text>
<text x="1388.0" y="1034.0" font-family="Liberation Serif" font-size="21" font-weight="normal" font-style="italic" text-anchor="start"  fill="#fff" stroke="#fff" stroke-width="0.5">7</text>
<text x="1439.0" y="1061.0" font-family="Liberation Sans" font-size="25" font-weight="normal" font-style="normal" text-anchor="start"  fill="#fff" stroke="#fff" stroke-width="0.4">A</text>
<text x="1371.0" y="1150.0" font-family="Liberation Serif" font-size="21" font-weight="normal" font-style="italic" text-anchor="start"  fill="#fff" stroke="#fff" stroke-width="0.5">7</text>
<text x="1432.0" y="1186.0" font-family="Liberation Sans" font-size="25" font-weight="normal" font-style="normal" text-anchor="start"  fill="#fff" stroke="#fff" stroke-width="0.4">A</text>
<text x="1369.0" y="1274.0" font-family="Liberation Serif" font-size="21" font-weight="normal" font-style="italic" text-anchor="start"  fill="#fff" stroke="#fff" stroke-width="0.5">7</text>
<text x="1438.0" y="1303.0" font-family="Liberation Sans" font-size="25" font-weight="normal" font-style="normal" text-anchor="start"  fill="#fff" stroke="#fff" stroke-width="0.4">A</text>
<text x="1364.0" y="1381.0" font-family="Liberation Serif" font-size="21" font-weight="normal" font-style="italic" text-anchor="start"  fill="#fff" stroke="#fff" stroke-width="0.5">7</text>
<text x="1312.0" y="1427.0" font-family="Liberation Serif" font-size="20" font-weight="normal" font-style="italic" text-anchor="start"  fill="#fff" stroke="#fff" stroke-width="0.5">3</text>
<text x="1347.0" y="1422.0" font-family="Liberation Serif" font-size="19" font-weight="normal" font-style="italic" text-anchor="start"  fill="#fff" stroke="#fff" stroke-width="0.5">13</text>
<text x="1383.0" y="1417.0" font-family="Liberation Serif" font-size="19" font-weight="normal" font-style="italic" text-anchor="start"  fill="#fff" stroke="#fff" stroke-width="0.5">14</text>
<text x="1440.0" y="1417.0" font-family="Liberation Sans" font-size="25" font-weight="normal" font-style="normal" text-anchor="start"  fill="#fff" stroke="#fff" stroke-width="0.4">A</text>
<text x="1272.0" y="1497.0" font-family="Liberation Serif" font-size="20" font-weight="normal" font-style="italic" text-anchor="start"  fill="#fff" stroke="#fff" stroke-width="0.5">6</text>
<text x="1301.0" y="1497.0" font-family="Liberation Serif" font-size="20" font-weight="normal" font-style="italic" text-anchor="start"  fill="#fff" stroke="#fff" stroke-width="0.5">4</text>
<text x="1343.0" y="1502.0" font-family="Liberation Serif" font-size="20" font-weight="normal" font-style="italic" text-anchor="start"  fill="#fff" stroke="#fff" stroke-width="0.5">12</text>
<text x="1388.0" y="1502.0" font-family="Liberation Serif" font-size="20" font-weight="normal" font-style="italic" text-anchor="start"  fill="#fff" stroke="#fff" stroke-width="0.5">7</text>
<text x="1446.0" y="1550.0" font-family="Liberation Sans" font-size="25" font-weight="normal" font-style="normal" text-anchor="start"  fill="#fff" stroke="#fff" stroke-width="0.4">A</text>
<text x="1335.0" y="1630.0" font-family="Liberation Serif" font-size="20" font-weight="normal" font-style="italic" text-anchor="start"  fill="#fff" stroke="#fff" stroke-width="0.5">7</text>
</g>
<g stroke="#fff" fill="none" stroke-width="1.8" stroke-linecap="round">
<path d="M1382,440 C1384,455 1378,470 1372,480" stroke-width="1.8" fill="none" />
<path d="M1423,440 C1426,452 1420,465 1416,476" stroke-width="1.8" fill="none" />
<path d="M1460,425 C1464,432 1462,440 1456,451" stroke-width="1.8" fill="none" />
<path d="M1287,505 C1292,495 1300,482 1314,478" stroke-width="1.8" fill="none" />
<path d="M1334,515 C1336,505 1338,498 1345,490" stroke-width="1.8" fill="none" />
<path d="M1366,513 C1362,508 1364,502 1370,498" stroke-width="1.8" fill="none" />
<path d="M1408,513 C1404,508 1406,503 1412,500" stroke-width="1.8" fill="none" />
<path d="M1460,552 C1463,558 1462,565 1458,570" stroke-width="1.8" fill="none" />
<path d="M1294,625 C1298,615 1300,608 1305,600" stroke-width="1.8" fill="none" />
<path d="M1384,628 C1380,624 1381,620 1385,617" stroke-width="1.8" fill="none" />
<path d="M1330,680 C1333,688 1330,695 1325,700" stroke-width="1.8" fill="none" />
<path d="M1376,680 C1378,700 1370,720 1360,735" stroke-width="1.8" fill="none" />
<path d="M1415,680 C1412,700 1410,715 1405,735" stroke-width="1.8" fill="none" />
<path d="M1458,678 C1460,685 1458,690 1454,696" stroke-width="1.8" fill="none" />
<path d="M1320,760 C1322,752 1324,748 1330,742" stroke-width="1.8" fill="none" />
<path d="M1350,760 C1352,754 1354,748 1360,742" stroke-width="1.8" fill="none" />
<path d="M1372,762 C1368,756 1370,750 1375,745" stroke-width="1.8" fill="none" />
<path d="M1420,762 C1423,756 1425,752 1428,748" stroke-width="1.8" fill="none" />
<path d="M1462,810 C1465,818 1464,825 1460,830" stroke-width="1.8" fill="none" />
<path d="M1384,896 C1380,892 1381,888 1385,885" stroke-width="1.8" fill="none" />
<path d="M1460,932 C1463,940 1462,948 1458,953" stroke-width="1.8" fill="none" />
<path d="M1389,1020 C1385,1015 1386,1010 1390,1006" stroke-width="1.8" fill="none" />
<path d="M1455,1045 C1458,1052 1457,1060 1453,1065" stroke-width="1.8" fill="none" />
<path d="M1372,1136 C1368,1131 1369,1126 1373,1122" stroke-width="1.8" fill="none" />
<path d="M1446,1175 C1458,1176 1466,1180 1462,1194" stroke-width="1.8" fill="none" />
<path d="M1370,1259 C1366,1254 1367,1250 1371,1246" stroke-width="1.8" fill="none" />
<path d="M1451,1290 C1460,1290 1466,1296 1460,1306" stroke-width="1.8" fill="none" />
<path d="M1364,1366 C1360,1361 1361,1357 1365,1354" stroke-width="1.8" fill="none" />
<path d="M1327,1418 C1330,1424 1328,1430 1323,1436" stroke-width="1.8" fill="none" />
<path d="M1365,1410 C1368,1428 1360,1445 1352,1460" stroke-width="1.8" fill="none" />
<path d="M1401,1405 C1400,1425 1398,1445 1396,1462" stroke-width="1.8" fill="none" />
<path d="M1455,1404 C1458,1410 1456,1416 1452,1422" stroke-width="1.8" fill="none" />
<path d="M1284,1487 C1290,1478 1296,1470 1302,1462" stroke-width="1.8" fill="none" />
<path d="M1316,1487 C1318,1482 1320,1478 1322,1474" stroke-width="1.8" fill="none" />
<path d="M1355,1487 C1355,1482 1355,1478 1355,1474" stroke-width="1.8" fill="none" />
<path d="M1390,1488 C1386,1484 1387,1480 1391,1477" stroke-width="1.8" fill="none" />
<path d="M1460,1538 C1463,1545 1462,1552 1458,1557" stroke-width="1.8" fill="none" />
<path d="M1350,1617 C1352,1612 1354,1608 1358,1604" stroke-width="1.8" fill="none" />
</g>
<g stroke="#fff" fill="none" stroke-linecap="round">
<path d="M600,1235 L736.5,1235 L736.5,1303 L640.6,1303 L640.6,1328 L736.5,1328 L736.5,1342 L643,1342 L643,1367 L736.5,1367 L736.5,1380 L646.3,1380 L646.3,1405 L736.5,1405 L736.5,1418 L650,1418 L650,1443 L736.5,1443 L736.5,1457 L653,1457 L653,1482 L736.5,1482 L736.5,1495 L656.7,1495 L656.7,1520 L736.5,1520 L736.5,1533 L660,1533 L660,1558 L736.5,1558 L736.5,1572 L662,1572 L662,1597 L736.5,1597 L736.5,1608 L666.7,1608 L666.7,1633 L736.5,1633 L736.5,1647 L671.7,1647 L671.7,1672 L736.5,1672 L734.5,1740 L600,1740 Z" stroke-width="3.6" fill="none" stroke-linejoin="round"/>
<line x1="697.0" y1="1303.0" x2="697.0" y2="1328.0" stroke-width="3.2" />
<line x1="644.6" y1="1305.0" x2="644.6" y2="1326.0" stroke-width="1.3" />
<line x1="647.2" y1="1305.0" x2="647.2" y2="1325.0" stroke-width="1.3" />
<line x1="649.8" y1="1305.0" x2="649.8" y2="1323.9" stroke-width="1.3" />
<line x1="652.4" y1="1305.0" x2="652.4" y2="1322.8" stroke-width="1.3" />
<line x1="655.0" y1="1305.0" x2="655.0" y2="1321.8" stroke-width="1.3" />
<line x1="657.6" y1="1305.0" x2="657.6" y2="1320.8" stroke-width="1.3" />
<line x1="660.2" y1="1305.0" x2="660.2" y2="1319.7" stroke-width="1.3" />
<line x1="662.8" y1="1305.0" x2="662.8" y2="1318.7" stroke-width="1.3" />
<line x1="665.4" y1="1305.0" x2="665.4" y2="1317.6" stroke-width="1.3" />
<line x1="668.0" y1="1305.0" x2="668.0" y2="1316.5" stroke-width="1.3" />
<line x1="670.6" y1="1305.0" x2="670.6" y2="1315.5" stroke-width="1.3" />
<line x1="673.2" y1="1305.0" x2="673.2" y2="1314.5" stroke-width="1.3" />
<line x1="675.8" y1="1305.0" x2="675.8" y2="1313.4" stroke-width="1.3" />
<line x1="678.4" y1="1305.0" x2="678.4" y2="1312.3" stroke-width="1.3" />
<line x1="681.0" y1="1305.0" x2="681.0" y2="1311.3" stroke-width="1.3" />
<line x1="683.6" y1="1305.0" x2="683.6" y2="1310.2" stroke-width="1.3" />
<line x1="686.2" y1="1305.0" x2="686.2" y2="1309.2" stroke-width="1.3" />
<line x1="688.8" y1="1305.0" x2="688.8" y2="1308.2" stroke-width="1.3" />
<line x1="698.0" y1="1342.0" x2="698.0" y2="1367.0" stroke-width="3.2" />
<line x1="647.0" y1="1344.0" x2="647.0" y2="1365.0" stroke-width="1.3" />
<line x1="652.2" y1="1344.0" x2="652.2" y2="1362.9" stroke-width="1.3" />
<line x1="657.4" y1="1344.0" x2="657.4" y2="1360.8" stroke-width="1.3" />
<line x1="662.6" y1="1344.0" x2="662.6" y2="1358.7" stroke-width="1.3" />
<line x1="667.8" y1="1344.0" x2="667.8" y2="1356.6" stroke-width="1.3" />
<line x1="673.0" y1="1344.0" x2="673.0" y2="1354.5" stroke-width="1.3" />
<line x1="678.2" y1="1344.0" x2="678.2" y2="1352.4" stroke-width="1.3" />
<line x1="683.4" y1="1344.0" x2="683.4" y2="1350.3" stroke-width="1.3" />
<line x1="688.6" y1="1344.0" x2="688.6" y2="1348.2" stroke-width="1.3" />
<line x1="700.0" y1="1380.0" x2="700.0" y2="1405.0" stroke-width="3.2" />
<line x1="650.3" y1="1382.0" x2="650.3" y2="1403.0" stroke-width="1.3" />
<line x1="652.9" y1="1382.0" x2="652.9" y2="1401.9" stroke-width="1.3" />
<line x1="655.5" y1="1382.0" x2="655.5" y2="1400.8" stroke-width="1.3" />
<line x1="658.1" y1="1382.0" x2="658.1" y2="1399.7" stroke-width="1.3" />
<line x1="660.7" y1="1382.0" x2="660.7" y2="1398.5" stroke-width="1.3" />
<line x1="663.3" y1="1382.0" x2="663.3" y2="1397.4" stroke-width="1.3" />
<line x1="665.9" y1="1382.0" x2="665.9" y2="1396.3" stroke-width="1.3" />
<line x1="668.5" y1="1382.0" x2="668.5" y2="1395.2" stroke-width="1.3" />
<line x1="671.1" y1="1382.0" x2="671.1" y2="1394.1" stroke-width="1.3" />
<line x1="673.7" y1="1382.0" x2="673.7" y2="1393.0" stroke-width="1.3" />
<line x1="676.3" y1="1382.0" x2="676.3" y2="1391.8" stroke-width="1.3" />
<line x1="678.9" y1="1382.0" x2="678.9" y2="1390.7" stroke-width="1.3" />
<line x1="681.5" y1="1382.0" x2="681.5" y2="1389.6" stroke-width="1.3" />
<line x1="684.1" y1="1382.0" x2="684.1" y2="1388.5" stroke-width="1.3" />
<line x1="686.7" y1="1382.0" x2="686.7" y2="1387.4" stroke-width="1.3" />
<line x1="689.3" y1="1382.0" x2="689.3" y2="1386.3" stroke-width="1.3" />
<line x1="691.9" y1="1382.0" x2="691.9" y2="1385.2" stroke-width="1.3" />
<line x1="700.0" y1="1418.0" x2="700.0" y2="1443.0" stroke-width="3.2" />
<line x1="654.0" y1="1420.0" x2="654.0" y2="1441.0" stroke-width="1.3" />
<line x1="659.2" y1="1420.0" x2="659.2" y2="1438.6" stroke-width="1.3" />
<line x1="664.4" y1="1420.0" x2="664.4" y2="1436.2" stroke-width="1.3" />
<line x1="669.6" y1="1420.0" x2="669.6" y2="1433.9" stroke-width="1.3" />
<line x1="674.8" y1="1420.0" x2="674.8" y2="1431.5" stroke-width="1.3" />
<line x1="680.0" y1="1420.0" x2="680.0" y2="1429.1" stroke-width="1.3" />
<line x1="685.2" y1="1420.0" x2="685.2" y2="1426.7" stroke-width="1.3" />
<line x1="690.4" y1="1420.0" x2="690.4" y2="1424.3" stroke-width="1.3" />
<line x1="700.0" y1="1457.0" x2="700.0" y2="1482.0" stroke-width="3.2" />
<line x1="657.0" y1="1459.0" x2="657.0" y2="1480.0" stroke-width="1.3" />
<line x1="659.6" y1="1459.0" x2="659.6" y2="1478.7" stroke-width="1.3" />
<line x1="662.2" y1="1459.0" x2="662.2" y2="1477.5" stroke-width="1.3" />
<line x1="664.8" y1="1459.0" x2="664.8" y2="1476.2" stroke-width="1.3" />
<line x1="667.4" y1="1459.0" x2="667.4" y2="1474.9" stroke-width="1.3" />
<line x1="670.0" y1="1459.0" x2="670.0" y2="1473.6" stroke-width="1.3" />
<line x1="672.6" y1="1459.0" x2="672.6" y2="1472.3" stroke-width="1.3" />
<line x1="675.2" y1="1459.0" x2="675.2" y2="1471.1" stroke-width="1.3" />
<line x1="677.8" y1="1459.0" x2="677.8" y2="1469.8" stroke-width="1.3" />
<line x1="680.4" y1="1459.0" x2="680.4" y2="1468.5" stroke-width="1.3" />
<line x1="683.0" y1="1459.0" x2="683.0" y2="1467.2" stroke-width="1.3" />
<line x1="685.6" y1="1459.0" x2="685.6" y2="1466.0" stroke-width="1.3" />
<line x1="688.2" y1="1459.0" x2="688.2" y2="1464.7" stroke-width="1.3" />
<line x1="690.8" y1="1459.0" x2="690.8" y2="1463.4" stroke-width="1.3" />
<line x1="693.4" y1="1459.0" x2="693.4" y2="1462.2" stroke-width="1.3" />
<line x1="700.0" y1="1495.0" x2="700.0" y2="1520.0" stroke-width="3.2" />
<line x1="660.7" y1="1497.0" x2="660.7" y2="1518.0" stroke-width="1.3" />
<line x1="665.9" y1="1497.0" x2="665.9" y2="1515.0" stroke-width="1.3" />
<line x1="671.1" y1="1497.0" x2="671.1" y2="1512.0" stroke-width="1.3" />
<line x1="676.3" y1="1497.0" x2="676.3" y2="1509.1" stroke-width="1.3" />
<line x1="681.5" y1="1497.0" x2="681.5" y2="1506.1" stroke-width="1.3" />
<line x1="686.7" y1="1497.0" x2="686.7" y2="1503.1" stroke-width="1.3" />
<line x1="691.9" y1="1497.0" x2="691.9" y2="1500.2" stroke-width="1.3" />
<line x1="700.0" y1="1533.0" x2="700.0" y2="1558.0" stroke-width="3.2" />
<line x1="664.0" y1="1535.0" x2="664.0" y2="1556.0" stroke-width="1.3" />
<line x1="666.6" y1="1535.0" x2="666.6" y2="1554.4" stroke-width="1.3" />
<line x1="669.2" y1="1535.0" x2="669.2" y2="1552.8" stroke-width="1.3" />
<line x1="671.8" y1="1535.0" x2="671.8" y2="1551.1" stroke-width="1.3" />
<line x1="674.4" y1="1535.0" x2="674.4" y2="1549.5" stroke-width="1.3" />
<line x1="677.0" y1="1535.0" x2="677.0" y2="1547.9" stroke-width="1.3" />
<line x1="679.6" y1="1535.0" x2="679.6" y2="1546.3" stroke-width="1.3" />
<line x1="682.2" y1="1535.0" x2="682.2" y2="1544.6" stroke-width="1.3" />
<line x1="684.8" y1="1535.0" x2="684.8" y2="1543.0" stroke-width="1.3" />
<line x1="687.4" y1="1535.0" x2="687.4" y2="1541.4" stroke-width="1.3" />
<line x1="690.0" y1="1535.0" x2="690.0" y2="1539.8" stroke-width="1.3" />
<line x1="692.6" y1="1535.0" x2="692.6" y2="1538.2" stroke-width="1.3" />
<line x1="700.0" y1="1572.0" x2="700.0" y2="1597.0" stroke-width="3.2" />
<line x1="666.0" y1="1574.0" x2="666.0" y2="1595.0" stroke-width="1.3" />
<line x1="671.2" y1="1574.0" x2="671.2" y2="1591.4" stroke-width="1.3" />
<line x1="676.4" y1="1574.0" x2="676.4" y2="1587.9" stroke-width="1.3" />
<line x1="681.6" y1="1574.0" x2="681.6" y2="1584.3" stroke-width="1.3" />
<line x1="686.8" y1="1574.0" x2="686.8" y2="1580.7" stroke-width="1.3" />
<line x1="692.0" y1="1574.0" x2="692.0" y2="1577.2" stroke-width="1.3" />
<line x1="699.0" y1="1608.0" x2="699.0" y2="1633.0" stroke-width="3.2" />
<line x1="670.7" y1="1610.0" x2="670.7" y2="1631.0" stroke-width="1.3" />
<line x1="673.3" y1="1610.0" x2="673.3" y2="1628.8" stroke-width="1.3" />
<line x1="675.9" y1="1610.0" x2="675.9" y2="1626.5" stroke-width="1.3" />
<line x1="678.5" y1="1610.0" x2="678.5" y2="1624.3" stroke-width="1.3" />
<line x1="681.1" y1="1610.0" x2="681.1" y2="1622.1" stroke-width="1.3" />
<line x1="683.7" y1="1610.0" x2="683.7" y2="1619.8" stroke-width="1.3" />
<line x1="686.3" y1="1610.0" x2="686.3" y2="1617.6" stroke-width="1.3" />
<line x1="688.9" y1="1610.0" x2="688.9" y2="1615.4" stroke-width="1.3" />
<line x1="691.5" y1="1610.0" x2="691.5" y2="1613.2" stroke-width="1.3" />
<line x1="699.0" y1="1647.0" x2="699.0" y2="1672.0" stroke-width="3.2" />
<line x1="675.7" y1="1649.0" x2="675.7" y2="1670.0" stroke-width="1.3" />
<line x1="680.9" y1="1649.0" x2="680.9" y2="1664.0" stroke-width="1.3" />
<line x1="686.1" y1="1649.0" x2="686.1" y2="1658.1" stroke-width="1.3" />
<line x1="691.3" y1="1649.0" x2="691.3" y2="1652.2" stroke-width="1.3" />
<circle cx="675.0" cy="1260.0" r="5.0" stroke-width="2.4" fill="none"/>
<circle cx="675.0" cy="1260.0" r="1.4" stroke-width="0" fill="#fff"/>
<circle cx="675.0" cy="1711.7" r="5.0" stroke-width="2.4" fill="none"/>
<circle cx="675.0" cy="1711.7" r="1.4" stroke-width="0" fill="#fff"/>
<line x1="620.0" y1="1237.0" x2="680.0" y2="1237.0" stroke-width="1.4" />
<line x1="624.5" y1="1240.0" x2="675.5" y2="1240.0" stroke-width="1.4" />
<line x1="629.0" y1="1243.0" x2="671.0" y2="1243.0" stroke-width="1.4" />
<line x1="668.0" y1="1283.0" x2="722.0" y2="1283.0" stroke-width="1.4" />
<line x1="670.7" y1="1285.8" x2="719.3" y2="1285.8" stroke-width="1.4" />
<line x1="673.4" y1="1288.6" x2="716.6" y2="1288.6" stroke-width="1.4" />
<line x1="676.1" y1="1291.4" x2="713.9" y2="1291.4" stroke-width="1.4" />
<line x1="678.8" y1="1294.2" x2="711.2" y2="1294.2" stroke-width="1.4" />
<line x1="681.5" y1="1297.0" x2="708.5" y2="1297.0" stroke-width="1.4" />
<line x1="603.0" y1="1358.0" x2="633.0" y2="1358.0" stroke-width="1.4" />
<line x1="604.1" y1="1361.2" x2="631.9" y2="1361.2" stroke-width="1.4" />
<line x1="605.1" y1="1364.4" x2="630.9" y2="1364.4" stroke-width="1.4" />
<line x1="606.2" y1="1367.6" x2="629.8" y2="1367.6" stroke-width="1.4" />
<line x1="607.2" y1="1370.8" x2="628.8" y2="1370.8" stroke-width="1.4" />
<line x1="608.3" y1="1374.0" x2="627.7" y2="1374.0" stroke-width="1.4" />
<line x1="609.4" y1="1377.2" x2="626.6" y2="1377.2" stroke-width="1.4" />
<line x1="610.4" y1="1380.4" x2="625.6" y2="1380.4" stroke-width="1.4" />
<line x1="611.5" y1="1383.6" x2="624.5" y2="1383.6" stroke-width="1.4" />
<line x1="612.6" y1="1386.8" x2="623.4" y2="1386.8" stroke-width="1.4" />
<line x1="613.6" y1="1390.0" x2="622.4" y2="1390.0" stroke-width="1.4" />
<line x1="614.7" y1="1393.2" x2="621.3" y2="1393.2" stroke-width="1.4" />
<line x1="615.8" y1="1396.4" x2="620.2" y2="1396.4" stroke-width="1.4" />
<line x1="605.0" y1="1523.0" x2="642.0" y2="1523.0" stroke-width="1.4" />
<line x1="606.2" y1="1526.2" x2="640.8" y2="1526.2" stroke-width="1.4" />
<line x1="607.4" y1="1529.4" x2="639.6" y2="1529.4" stroke-width="1.4" />
<line x1="608.6" y1="1532.6" x2="638.4" y2="1532.6" stroke-width="1.4" />
<line x1="609.8" y1="1535.8" x2="637.2" y2="1535.8" stroke-width="1.4" />
<line x1="611.0" y1="1539.0" x2="636.0" y2="1539.0" stroke-width="1.4" />
<line x1="612.3" y1="1542.2" x2="634.7" y2="1542.2" stroke-width="1.4" />
<line x1="613.5" y1="1545.4" x2="633.5" y2="1545.4" stroke-width="1.4" />
<line x1="614.7" y1="1548.6" x2="632.3" y2="1548.6" stroke-width="1.4" />
<line x1="615.9" y1="1551.8" x2="631.1" y2="1551.8" stroke-width="1.4" />
<line x1="617.1" y1="1555.0" x2="629.9" y2="1555.0" stroke-width="1.4" />
<line x1="618.3" y1="1558.2" x2="628.7" y2="1558.2" stroke-width="1.4" />
<line x1="619.5" y1="1561.4" x2="627.5" y2="1561.4" stroke-width="1.4" />
<line x1="620.7" y1="1564.6" x2="626.3" y2="1564.6" stroke-width="1.4" />
<line x1="607.0" y1="1664.0" x2="642.0" y2="1664.0" stroke-width="1.4" />
<line x1="608.4" y1="1667.2" x2="640.6" y2="1667.2" stroke-width="1.4" />
<line x1="609.7" y1="1670.4" x2="639.3" y2="1670.4" stroke-width="1.4" />
<line x1="611.1" y1="1673.6" x2="637.9" y2="1673.6" stroke-width="1.4" />
<line x1="612.4" y1="1676.8" x2="636.6" y2="1676.8" stroke-width="1.4" />
<line x1="613.8" y1="1680.0" x2="635.2" y2="1680.0" stroke-width="1.4" />
<line x1="615.1" y1="1683.2" x2="633.9" y2="1683.2" stroke-width="1.4" />
<line x1="616.5" y1="1686.4" x2="632.5" y2="1686.4" stroke-width="1.4" />
<line x1="617.8" y1="1689.6" x2="631.2" y2="1689.6" stroke-width="1.4" />
<line x1="619.2" y1="1692.8" x2="629.8" y2="1692.8" stroke-width="1.4" />
<line x1="620.5" y1="1696.0" x2="628.5" y2="1696.0" stroke-width="1.4" />
<line x1="621.9" y1="1699.2" x2="627.1" y2="1699.2" stroke-width="1.4" />
<line x1="688.0" y1="1699.0" x2="722.0" y2="1699.0" stroke-width="1.4" />
<line x1="689.4" y1="1702.0" x2="720.6" y2="1702.0" stroke-width="1.4" />
<line x1="690.8" y1="1705.0" x2="719.2" y2="1705.0" stroke-width="1.4" />
<line x1="692.2" y1="1708.0" x2="717.8" y2="1708.0" stroke-width="1.4" />
<line x1="693.7" y1="1711.0" x2="716.3" y2="1711.0" stroke-width="1.4" />
<line x1="695.1" y1="1714.0" x2="714.9" y2="1714.0" stroke-width="1.4" />
<line x1="696.5" y1="1717.0" x2="713.5" y2="1717.0" stroke-width="1.4" />
<text x="757.0" y="1252.0" font-family="Liberation Serif" font-size="30" font-weight="normal" font-style="italic" text-anchor="start" stroke="none" fill="#fff" >4</text>
<line x1="754.0" y1="1242.0" x2="725.0" y2="1261.0" stroke-width="2" />
<polygon points="722.0,1264.0 727.5,1256.1 731.4,1261.9" stroke-width="0.8" fill="#fff" />
<text x="756.0" y="1341.0" font-family="Liberation Serif" font-size="30" font-weight="normal" font-style="italic" text-anchor="start" stroke="none" fill="#fff" >6</text>
<path d="M698,1317 Q725,1317 738,1320 T748,1322" stroke-width="2" fill="none" />
<path d="M710,1357 Q730,1352 752,1346" stroke-width="2" fill="none" />
<text x="751.0" y="1626.0" font-family="Liberation Serif" font-size="27" font-weight="normal" font-style="italic" text-anchor="start" stroke="none" fill="#fff" >7</text>
<path d="M694,1620 Q720,1618 748,1612" stroke-width="2" fill="none" />
<path d="M688,1612 Q715,1640 748,1660" stroke-width="2" fill="none" />
<text x="750.0" y="1676.0" font-family="Liberation Serif" font-size="27" font-weight="normal" font-style="italic" text-anchor="start" stroke="none" fill="#fff" >12</text>
<path d="M692,1660 Q720,1662 748,1666" stroke-width="2" fill="none" />
<text x="744.0" y="1771.0" font-family="Liberation Sans" font-size="30" font-weight="normal" font-style="normal" text-anchor="start" stroke="none" fill="#fff" >A</text>
<path d="M733,1744 Q729,1752 734,1760" stroke-width="2" fill="none" />
<line x1="607.6" y1="1215.8" x2="684.4" y2="1215.8" stroke-width="5.12" stroke-linecap="round"/>
<circle cx="608.2" cy="1211.3" r="3.3" stroke-width="0" fill="#fff"/>
<line x1="683.1" y1="1215.8" x2="681.2" y2="1224.8" stroke-width="3.84" stroke-linecap="round"/>
<line x1="622.9" y1="1173.3" x2="697.2" y2="1173.3" stroke-width="4.6080000000000005" stroke-linecap="round"/>
<circle cx="622.9" cy="1178.0" r="3.3" stroke-width="0" fill="#fff"/>
<circle cx="695.9" cy="1176.8" r="2.8" stroke-width="0" fill="#fff"/>
<text x="620.4" y="1205.6" font-family="Liberation Serif" font-size="42.24" font-weight="bold" font-style="italic" text-anchor="start"  fill="#fff" textLength="73.0" lengthAdjust="spacingAndGlyphs" stroke="#fff" stroke-width="2.05">Fig.</text>
<text x="695.9" y="1206.3" font-family="Liberation Sans" font-size="48.64" font-weight="bold" font-style="normal" text-anchor="start"  fill="#fff" textLength="37.1" lengthAdjust="spacingAndGlyphs" stroke="#fff" stroke-width="1.02">4</text>
<path d="M885,1306.7 L885,1247 Q885,1233 899,1233 L1013,1233 Q1026.7,1233 1026.7,1247 L1026.7,1734 Q1026.7,1740 1020,1740 L890,1740 Q885,1740 885,1734 L885,1672 " stroke-width="3.6" fill="none" />
<path d="M885,1306.7 L992.35,1306.7 A10.649999999999977,10.649999999999977 0 0 1 992.35,1328 L885,1328" stroke-width="3.4" fill="none" />
<line x1="885.0" y1="1328.0" x2="885.0" y2="1345.0" stroke-width="3.6" />
<line x1="926.7" y1="1306.7" x2="926.7" y2="1328.0" stroke-width="2.6" />
<path d="M965.15,1310.2 L992.35,1310.2 A7.149999999999977,7.149999999999977 0 0 1 992.35,1324.5 L965.15,1324.5 A7.149999999999977,7.149999999999977 0 0 1 965.15,1310.2" stroke-width="2.4" fill="none" />
<line x1="970.0" y1="1312.7" x2="990.0" y2="1312.7" stroke-width="1.3" />
<line x1="974.0" y1="1315.2" x2="986.0" y2="1315.2" stroke-width="1.3" />
<line x1="857" y1="1317.3" x2="914" y2="1317.3" stroke-width="2.2" stroke-dasharray="12,4,3,4"/>
<line x1="1007" y1="1317.3" x2="1054" y2="1317.3" stroke-width="2.2" stroke-dasharray="3,4,12,4"/>
<line x1="865.0" y1="1317.3" x2="865.0" y2="1308.3" stroke-width="2.4" />
<polygon points="865.0,1293.3 860.5,1309.3 869.5,1309.3" stroke-width="0.8" fill="#fff" />
<line x1="1041.5" y1="1317.3" x2="1041.5" y2="1308.3" stroke-width="2.4" />
<polygon points="1041.5,1293.3 1037.0,1309.3 1046.0,1309.3" stroke-width="0.8" fill="#fff" />
<text x="856.0" y="1326.8" font-family="Liberation Serif" font-size="27" font-weight="bold" font-style="normal" text-anchor="end" stroke="none" fill="#fff" >5</text>
<text x="1051.0" y="1326.8" font-family="Liberation Serif" font-size="27" font-weight="bold" font-style="normal" text-anchor="start" stroke="none" fill="#fff" >5</text>
<path d="M885,1345 L984.0,1345 A11.0,11.0 0 0 1 984.0,1367 L885,1367" stroke-width="3.4" fill="none" />
<line x1="885.0" y1="1367.0" x2="885.0" y2="1381.7" stroke-width="3.6" />
<line x1="926.7" y1="1345.0" x2="926.7" y2="1367.0" stroke-width="2.6" />
<path d="M961.6,1348.5 L984.0,1348.5 A7.5,7.5 0 0 1 984.0,1363.5 L961.6,1363.5 A7.5,7.5 0 0 1 961.6,1348.5" stroke-width="2.4" fill="none" />
<line x1="966.1" y1="1351.0" x2="986.1" y2="1351.0" stroke-width="1.3" />
<line x1="970.1" y1="1353.5" x2="982.1" y2="1353.5" stroke-width="1.3" />
<line x1="857" y1="1356.0" x2="914" y2="1356.0" stroke-width="2.2" stroke-dasharray="12,4,3,4"/>
<line x1="1007" y1="1356.0" x2="1054" y2="1356.0" stroke-width="2.2" stroke-dasharray="3,4,12,4"/>
<line x1="865.0" y1="1356.0" x2="865.0" y2="1347.0" stroke-width="2.4" />
<polygon points="865.0,1332.0 860.5,1348.0 869.5,1348.0" stroke-width="0.8" fill="#fff" />
<line x1="1041.5" y1="1356.0" x2="1041.5" y2="1347.0" stroke-width="2.4" />
<polygon points="1041.5,1332.0 1037.0,1348.0 1046.0,1348.0" stroke-width="0.8" fill="#fff" />
<text x="856.0" y="1365.5" font-family="Liberation Serif" font-size="27" font-weight="bold" font-style="normal" text-anchor="end" stroke="none" fill="#fff" >6</text>
<text x="1051.0" y="1365.5" font-family="Liberation Serif" font-size="27" font-weight="bold" font-style="normal" text-anchor="start" stroke="none" fill="#fff" >6</text>
<path d="M885,1381.7 L976.35,1381.7 A11.649999999999977,11.649999999999977 0 0 1 976.35,1405 L885,1405" stroke-width="3.4" fill="none" />
<line x1="885.0" y1="1405.0" x2="885.0" y2="1420.0" stroke-width="3.6" />
<line x1="926.7" y1="1381.7" x2="926.7" y2="1405.0" stroke-width="2.6" />
<path d="M958.35,1385.2 L976.35,1385.2 A8.149999999999977,8.149999999999977 0 0 1 976.35,1401.5 L958.35,1401.5 A8.149999999999977,8.149999999999977 0 0 1 958.35,1385.2" stroke-width="2.4" fill="none" />
<line x1="962.2" y1="1387.7" x2="982.2" y2="1387.7" stroke-width="1.3" />
<line x1="966.2" y1="1390.2" x2="978.2" y2="1390.2" stroke-width="1.3" />
<line x1="857" y1="1393.3" x2="914" y2="1393.3" stroke-width="2.2" stroke-dasharray="12,4,3,4"/>
<line x1="1007" y1="1393.3" x2="1054" y2="1393.3" stroke-width="2.2" stroke-dasharray="3,4,12,4"/>
<line x1="865.0" y1="1393.3" x2="865.0" y2="1384.3" stroke-width="2.4" />
<polygon points="865.0,1369.3 860.5,1385.3 869.5,1385.3" stroke-width="0.8" fill="#fff" />
<line x1="1041.5" y1="1393.3" x2="1041.5" y2="1384.3" stroke-width="2.4" />
<polygon points="1041.5,1369.3 1037.0,1385.3 1046.0,1385.3" stroke-width="0.8" fill="#fff" />
<text x="856.0" y="1402.8" font-family="Liberation Serif" font-size="27" font-weight="bold" font-style="normal" text-anchor="end" stroke="none" fill="#fff" >7</text>
<text x="1051.0" y="1402.8" font-family="Liberation Serif" font-size="27" font-weight="bold" font-style="normal" text-anchor="start" stroke="none" fill="#fff" >7</text>
<path d="M885,1420 L973.5,1420 A11.5,11.5 0 0 1 973.5,1443 L885,1443" stroke-width="3.4" fill="none" />
<line x1="885.0" y1="1443.0" x2="885.0" y2="1458.0" stroke-width="3.6" />
<line x1="926.7" y1="1420.0" x2="926.7" y2="1443.0" stroke-width="2.6" />
<path d="M954.3,1423.5 L973.5,1423.5 A8.0,8.0 0 0 1 973.5,1439.5 L954.3,1439.5 A8.0,8.0 0 0 1 954.3,1423.5" stroke-width="2.4" fill="none" />
<line x1="958.3" y1="1426.0" x2="978.3" y2="1426.0" stroke-width="1.3" />
<line x1="962.3" y1="1428.5" x2="974.3" y2="1428.5" stroke-width="1.3" />
<line x1="857" y1="1431.5" x2="914" y2="1431.5" stroke-width="2.2" stroke-dasharray="12,4,3,4"/>
<line x1="1007" y1="1431.5" x2="1054" y2="1431.5" stroke-width="2.2" stroke-dasharray="3,4,12,4"/>
<line x1="865.0" y1="1431.5" x2="865.0" y2="1422.5" stroke-width="2.4" />
<polygon points="865.0,1407.5 860.5,1423.5 869.5,1423.5" stroke-width="0.8" fill="#fff" />
<line x1="1041.5" y1="1431.5" x2="1041.5" y2="1422.5" stroke-width="2.4" />
<polygon points="1041.5,1407.5 1037.0,1423.5 1046.0,1423.5" stroke-width="0.8" fill="#fff" />
<text x="856.0" y="1441.0" font-family="Liberation Serif" font-size="27" font-weight="bold" font-style="normal" text-anchor="end" stroke="none" fill="#fff" >8</text>
<text x="1051.0" y="1441.0" font-family="Liberation Serif" font-size="27" font-weight="bold" font-style="normal" text-anchor="start" stroke="none" fill="#fff" >8</text>
<path d="M885,1458 L973.0,1458 A12.0,12.0 0 0 1 973.0,1482 L885,1482" stroke-width="3.4" fill="none" />
<line x1="885.0" y1="1482.0" x2="885.0" y2="1497.0" stroke-width="3.6" />
<line x1="926.7" y1="1458.0" x2="926.7" y2="1482.0" stroke-width="2.6" />
<path d="M950.9,1461.5 L973.0,1461.5 A8.5,8.5 0 0 1 973.0,1478.5 L950.9,1478.5 A8.5,8.5 0 0 1 950.9,1461.5" stroke-width="2.4" fill="none" />
<line x1="954.4" y1="1464.0" x2="974.4" y2="1464.0" stroke-width="1.3" />
<line x1="958.4" y1="1466.5" x2="970.4" y2="1466.5" stroke-width="1.3" />
<line x1="857" y1="1470.0" x2="914" y2="1470.0" stroke-width="2.2" stroke-dasharray="12,4,3,4"/>
<line x1="1007" y1="1470.0" x2="1054" y2="1470.0" stroke-width="2.2" stroke-dasharray="3,4,12,4"/>
<line x1="865.0" y1="1470.0" x2="865.0" y2="1461.0" stroke-width="2.4" />
<polygon points="865.0,1446.0 860.5,1462.0 869.5,1462.0" stroke-width="0.8" fill="#fff" />
<line x1="1041.5" y1="1470.0" x2="1041.5" y2="1461.0" stroke-width="2.4" />
<polygon points="1041.5,1446.0 1037.0,1462.0 1046.0,1462.0" stroke-width="0.8" fill="#fff" />
<text x="856.0" y="1479.5" font-family="Liberation Serif" font-size="27" font-weight="bold" font-style="normal" text-anchor="end" stroke="none" fill="#fff" >9</text>
<text x="1051.0" y="1479.5" font-family="Liberation Serif" font-size="27" font-weight="bold" font-style="normal" text-anchor="start" stroke="none" fill="#fff" >9</text>
<path d="M885,1497 L966.5,1497 A11.5,11.5 0 0 1 966.5,1520 L885,1520" stroke-width="3.4" fill="none" />
<line x1="885.0" y1="1520.0" x2="885.0" y2="1535.0" stroke-width="3.6" />
<line x1="923.0" y1="1497.0" x2="923.0" y2="1520.0" stroke-width="2.6" />
<path d="M946.5,1500.5 L966.5,1500.5 A8.0,8.0 0 0 1 966.5,1516.5 L946.5,1516.5 A8.0,8.0 0 0 1 946.5,1500.5" stroke-width="2.4" fill="none" />
<line x1="950.5" y1="1503.0" x2="970.5" y2="1503.0" stroke-width="1.3" />
<line x1="954.5" y1="1505.5" x2="966.5" y2="1505.5" stroke-width="1.3" />
<line x1="857" y1="1508.5" x2="914" y2="1508.5" stroke-width="2.2" stroke-dasharray="12,4,3,4"/>
<line x1="1007" y1="1508.5" x2="1054" y2="1508.5" stroke-width="2.2" stroke-dasharray="3,4,12,4"/>
<line x1="865.0" y1="1508.5" x2="865.0" y2="1499.5" stroke-width="2.4" />
<polygon points="865.0,1484.5 860.5,1500.5 869.5,1500.5" stroke-width="0.8" fill="#fff" />
<line x1="1041.5" y1="1508.5" x2="1041.5" y2="1499.5" stroke-width="2.4" />
<polygon points="1041.5,1484.5 1037.0,1500.5 1046.0,1500.5" stroke-width="0.8" fill="#fff" />
<text x="856.0" y="1518.0" font-family="Liberation Serif" font-size="27" font-weight="bold" font-style="normal" text-anchor="end" stroke="none" fill="#fff" >10</text>
<text x="1051.0" y="1518.0" font-family="Liberation Serif" font-size="27" font-weight="bold" font-style="normal" text-anchor="start" stroke="none" fill="#fff" >10</text>
<path d="M885,1535 L963.5,1535 A11.5,11.5 0 0 1 963.5,1558 L885,1558" stroke-width="3.4" fill="none" />
<line x1="885.0" y1="1558.0" x2="885.0" y2="1573.0" stroke-width="3.6" />
<line x1="923.0" y1="1535.0" x2="923.0" y2="1558.0" stroke-width="2.6" />
<path d="M942.6,1538.5 L963.5,1538.5 A8.0,8.0 0 0 1 963.5,1554.5 L942.6,1554.5 A8.0,8.0 0 0 1 942.6,1538.5" stroke-width="2.4" fill="none" />
<line x1="946.6" y1="1541.0" x2="966.6" y2="1541.0" stroke-width="1.3" />
<line x1="950.6" y1="1543.5" x2="962.6" y2="1543.5" stroke-width="1.3" />
<line x1="857" y1="1546.5" x2="914" y2="1546.5" stroke-width="2.2" stroke-dasharray="12,4,3,4"/>
<line x1="1007" y1="1546.5" x2="1054" y2="1546.5" stroke-width="2.2" stroke-dasharray="3,4,12,4"/>
<line x1="865.0" y1="1546.5" x2="865.0" y2="1537.5" stroke-width="2.4" />
<polygon points="865.0,1522.5 860.5,1538.5 869.5,1538.5" stroke-width="0.8" fill="#fff" />
<line x1="1041.5" y1="1546.5" x2="1041.5" y2="1537.5" stroke-width="2.4" />
<polygon points="1041.5,1522.5 1037.0,1538.5 1046.0,1538.5" stroke-width="0.8" fill="#fff" />
<text x="856.0" y="1556.0" font-family="Liberation Serif" font-size="27" font-weight="bold" font-style="normal" text-anchor="end" stroke="none" fill="#fff" >11</text>
<text x="1051.0" y="1556.0" font-family="Liberation Serif" font-size="27" font-weight="bold" font-style="normal" text-anchor="start" stroke="none" fill="#fff" >11</text>
<path d="M885,1573 L963.0,1573 A12.0,12.0 0 0 1 963.0,1597 L885,1597" stroke-width="3.4" fill="none" />
<line x1="885.0" y1="1597.0" x2="885.0" y2="1610.0" stroke-width="3.6" />
<line x1="923.0" y1="1573.0" x2="923.0" y2="1597.0" stroke-width="2.6" />
<path d="M939.2,1576.5 L963.0,1576.5 A8.5,8.5 0 0 1 963.0,1593.5 L939.2,1593.5 A8.5,8.5 0 0 1 939.2,1576.5" stroke-width="2.4" fill="none" />
<line x1="942.7" y1="1579.0" x2="962.7" y2="1579.0" stroke-width="1.3" />
<line x1="946.7" y1="1581.5" x2="958.7" y2="1581.5" stroke-width="1.3" />
<line x1="857" y1="1585.0" x2="914" y2="1585.0" stroke-width="2.2" stroke-dasharray="12,4,3,4"/>
<line x1="1007" y1="1585.0" x2="1054" y2="1585.0" stroke-width="2.2" stroke-dasharray="3,4,12,4"/>
<line x1="865.0" y1="1585.0" x2="865.0" y2="1576.0" stroke-width="2.4" />
<polygon points="865.0,1561.0 860.5,1577.0 869.5,1577.0" stroke-width="0.8" fill="#fff" />
<line x1="1041.5" y1="1585.0" x2="1041.5" y2="1576.0" stroke-width="2.4" />
<polygon points="1041.5,1561.0 1037.0,1577.0 1046.0,1577.0" stroke-width="0.8" fill="#fff" />
<text x="856.0" y="1594.5" font-family="Liberation Serif" font-size="27" font-weight="bold" font-style="normal" text-anchor="end" stroke="none" fill="#fff" >12</text>
<text x="1051.0" y="1594.5" font-family="Liberation Serif" font-size="27" font-weight="bold" font-style="normal" text-anchor="start" stroke="none" fill="#fff" >12</text>
<path d="M885,1610 L961.5,1610 A11.5,11.5 0 0 1 961.5,1633 L885,1633" stroke-width="3.4" fill="none" />
<line x1="885.0" y1="1633.0" x2="885.0" y2="1648.0" stroke-width="3.6" />
<line x1="923.0" y1="1610.0" x2="923.0" y2="1633.0" stroke-width="2.6" />
<path d="M934.8,1613.5 L961.5,1613.5 A8.0,8.0 0 0 1 961.5,1629.5 L934.8,1629.5 A8.0,8.0 0 0 1 934.8,1613.5" stroke-width="2.4" fill="none" />
<line x1="938.8" y1="1616.0" x2="958.8" y2="1616.0" stroke-width="1.3" />
<line x1="942.8" y1="1618.5" x2="954.8" y2="1618.5" stroke-width="1.3" />
<line x1="857" y1="1621.5" x2="914" y2="1621.5" stroke-width="2.2" stroke-dasharray="12,4,3,4"/>
<line x1="1007" y1="1621.5" x2="1054" y2="1621.5" stroke-width="2.2" stroke-dasharray="3,4,12,4"/>
<line x1="865.0" y1="1621.5" x2="865.0" y2="1612.5" stroke-width="2.4" />
<polygon points="865.0,1597.5 860.5,1613.5 869.5,1613.5" stroke-width="0.8" fill="#fff" />
<line x1="1041.5" y1="1621.5" x2="1041.5" y2="1612.5" stroke-width="2.4" />
<polygon points="1041.5,1597.5 1037.0,1613.5 1046.0,1613.5" stroke-width="0.8" fill="#fff" />
<text x="856.0" y="1631.0" font-family="Liberation Serif" font-size="27" font-weight="bold" font-style="normal" text-anchor="end" stroke="none" fill="#fff" >13</text>
<text x="1051.0" y="1631.0" font-family="Liberation Serif" font-size="27" font-weight="bold" font-style="normal" text-anchor="start" stroke="none" fill="#fff" >13</text>
<path d="M885,1648 L955.0,1648 A12.0,12.0 0 0 1 955.0,1672 L885,1672" stroke-width="3.4" fill="none" />
<line x1="923.0" y1="1648.0" x2="923.0" y2="1672.0" stroke-width="2.6" />
<path d="M933.0,1651.5 L955.0,1651.5 A8.5,8.5 0 0 1 955.0,1668.5 L933.0,1668.5 A8.5,8.5 0 0 1 933.0,1651.5" stroke-width="2.4" fill="none" />
<line x1="936.5" y1="1654.0" x2="956.5" y2="1654.0" stroke-width="1.3" />
<line x1="940.5" y1="1656.5" x2="952.5" y2="1656.5" stroke-width="1.3" />
<line x1="857" y1="1660.0" x2="914" y2="1660.0" stroke-width="2.2" stroke-dasharray="12,4,3,4"/>
<line x1="1007" y1="1660.0" x2="1054" y2="1660.0" stroke-width="2.2" stroke-dasharray="3,4,12,4"/>
<line x1="865.0" y1="1660.0" x2="865.0" y2="1651.0" stroke-width="2.4" />
<polygon points="865.0,1636.0 860.5,1652.0 869.5,1652.0" stroke-width="0.8" fill="#fff" />
<line x1="1041.5" y1="1660.0" x2="1041.5" y2="1651.0" stroke-width="2.4" />
<polygon points="1041.5,1636.0 1037.0,1652.0 1046.0,1652.0" stroke-width="0.8" fill="#fff" />
<text x="856.0" y="1669.5" font-family="Liberation Serif" font-size="27" font-weight="bold" font-style="normal" text-anchor="end" stroke="none" fill="#fff" >14</text>
<text x="1051.0" y="1669.5" font-family="Liberation Serif" font-size="27" font-weight="bold" font-style="normal" text-anchor="start" stroke="none" fill="#fff" >14</text>
<circle cx="945.0" cy="1260.0" r="5.0" stroke-width="2.4" fill="none"/>
<circle cx="945.0" cy="1260.0" r="1.4" stroke-width="0" fill="#fff"/>
<circle cx="945.0" cy="1707.0" r="5.0" stroke-width="2.4" fill="none"/>
<circle cx="945.0" cy="1707.0" r="1.4" stroke-width="0" fill="#fff"/>
<line x1="948.0" y1="1262.0" x2="990.0" y2="1262.0" stroke-width="1.4" />
<line x1="949.7" y1="1265.0" x2="988.3" y2="1265.0" stroke-width="1.4" />
<line x1="951.4" y1="1268.0" x2="986.6" y2="1268.0" stroke-width="1.4" />
<line x1="953.0" y1="1271.0" x2="985.0" y2="1271.0" stroke-width="1.4" />
<line x1="954.7" y1="1274.0" x2="983.3" y2="1274.0" stroke-width="1.4" />
<line x1="956.4" y1="1277.0" x2="981.6" y2="1277.0" stroke-width="1.4" />
<line x1="958.1" y1="1280.0" x2="979.9" y2="1280.0" stroke-width="1.4" />
<line x1="959.8" y1="1283.0" x2="978.2" y2="1283.0" stroke-width="1.4" />
<line x1="961.4" y1="1286.0" x2="976.6" y2="1286.0" stroke-width="1.4" />
<line x1="963.1" y1="1289.0" x2="974.9" y2="1289.0" stroke-width="1.4" />
<line x1="964.8" y1="1292.0" x2="973.2" y2="1292.0" stroke-width="1.4" />
<line x1="888.0" y1="1692.0" x2="922.0" y2="1692.0" stroke-width="1.4" />
<line x1="889.4" y1="1695.2" x2="920.6" y2="1695.2" stroke-width="1.4" />
<line x1="890.7" y1="1698.4" x2="919.3" y2="1698.4" stroke-width="1.4" />
<line x1="892.1" y1="1701.6" x2="917.9" y2="1701.6" stroke-width="1.4" />
<line x1="893.4" y1="1704.8" x2="916.6" y2="1704.8" stroke-width="1.4" />
<line x1="894.8" y1="1708.0" x2="915.2" y2="1708.0" stroke-width="1.4" />
<line x1="896.2" y1="1711.2" x2="913.8" y2="1711.2" stroke-width="1.4" />
<line x1="897.5" y1="1714.4" x2="912.5" y2="1714.4" stroke-width="1.4" />
<line x1="898.9" y1="1717.6" x2="911.1" y2="1717.6" stroke-width="1.4" />
<line x1="900.2" y1="1720.8" x2="909.8" y2="1720.8" stroke-width="1.4" />
<line x1="901.6" y1="1724.0" x2="908.4" y2="1724.0" stroke-width="1.4" />
<line x1="962.0" y1="1690.0" x2="1008.0" y2="1690.0" stroke-width="1.4" />
<line x1="963.7" y1="1693.2" x2="1006.3" y2="1693.2" stroke-width="1.4" />
<line x1="965.3" y1="1696.4" x2="1004.7" y2="1696.4" stroke-width="1.4" />
<line x1="967.0" y1="1699.6" x2="1003.0" y2="1699.6" stroke-width="1.4" />
<line x1="968.7" y1="1702.8" x2="1001.3" y2="1702.8" stroke-width="1.4" />
<line x1="970.4" y1="1706.0" x2="999.6" y2="1706.0" stroke-width="1.4" />
<line x1="972.0" y1="1709.2" x2="998.0" y2="1709.2" stroke-width="1.4" />
<line x1="973.7" y1="1712.4" x2="996.3" y2="1712.4" stroke-width="1.4" />
<line x1="975.4" y1="1715.6" x2="994.6" y2="1715.6" stroke-width="1.4" />
<line x1="977.1" y1="1718.8" x2="992.9" y2="1718.8" stroke-width="1.4" />
<line x1="978.7" y1="1722.0" x2="991.3" y2="1722.0" stroke-width="1.4" />
<line x1="980.4" y1="1725.2" x2="989.6" y2="1725.2" stroke-width="1.4" />
<line x1="982.0" y1="1447.0" x2="1012.0" y2="1447.0" stroke-width="1.4" />
<line x1="983.1" y1="1450.2" x2="1010.9" y2="1450.2" stroke-width="1.4" />
<line x1="984.1" y1="1453.4" x2="1009.9" y2="1453.4" stroke-width="1.4" />
<line x1="985.2" y1="1456.6" x2="1008.8" y2="1456.6" stroke-width="1.4" />
<line x1="986.2" y1="1459.8" x2="1007.8" y2="1459.8" stroke-width="1.4" />
<line x1="987.3" y1="1463.0" x2="1006.7" y2="1463.0" stroke-width="1.4" />
<line x1="988.4" y1="1466.2" x2="1005.6" y2="1466.2" stroke-width="1.4" />
<line x1="989.4" y1="1469.4" x2="1004.6" y2="1469.4" stroke-width="1.4" />
<line x1="990.5" y1="1472.6" x2="1003.5" y2="1472.6" stroke-width="1.4" />
<line x1="991.6" y1="1475.8" x2="1002.4" y2="1475.8" stroke-width="1.4" />
<line x1="992.6" y1="1479.0" x2="1001.4" y2="1479.0" stroke-width="1.4" />
<line x1="993.7" y1="1482.2" x2="1000.3" y2="1482.2" stroke-width="1.4" />
<line x1="994.8" y1="1485.4" x2="999.2" y2="1485.4" stroke-width="1.4" />
<line x1="977.0" y1="1615.0" x2="1010.0" y2="1615.0" stroke-width="1.4" />
<line x1="978.4" y1="1618.2" x2="1008.6" y2="1618.2" stroke-width="1.4" />
<line x1="979.8" y1="1621.4" x2="1007.2" y2="1621.4" stroke-width="1.4" />
<line x1="981.2" y1="1624.6" x2="1005.8" y2="1624.6" stroke-width="1.4" />
<line x1="982.6" y1="1627.8" x2="1004.4" y2="1627.8" stroke-width="1.4" />
<line x1="984.0" y1="1631.0" x2="1003.0" y2="1631.0" stroke-width="1.4" />
<line x1="985.4" y1="1634.2" x2="1001.6" y2="1634.2" stroke-width="1.4" />
<line x1="986.8" y1="1637.4" x2="1000.2" y2="1637.4" stroke-width="1.4" />
<line x1="988.2" y1="1640.6" x2="998.8" y2="1640.6" stroke-width="1.4" />
<line x1="989.6" y1="1643.8" x2="997.4" y2="1643.8" stroke-width="1.4" />
<line x1="991.0" y1="1647.0" x2="996.0" y2="1647.0" stroke-width="1.4" />
<text x="1008.0" y="1222.0" font-family="Liberation Serif" font-size="27" font-weight="normal" font-style="italic" text-anchor="start" stroke="none" fill="#fff" >13</text>
<path d="M1022,1226 Q1005,1262 972,1322" stroke-width="2" fill="none" />
<text x="1050.0" y="1228.0" font-family="Liberation Serif" font-size="30" font-weight="normal" font-style="italic" text-anchor="start" stroke="none" fill="#fff" >3</text>
<path d="M1052,1226 Q1030,1240 1010,1250" stroke-width="2" fill="none" />
<polygon points="1006.0,1252.0 1011.8,1245.7 1014.5,1251.1" stroke-width="0.8" fill="#fff" />
<text x="1050.0" y="1272.0" font-family="Liberation Serif" font-size="27" font-weight="normal" font-style="italic" text-anchor="start" stroke="none" fill="#fff" >14</text>
<path d="M1062,1278 Q1040,1295 1012,1312" stroke-width="2" fill="none" />
<polygon points="1008.0,1315.0 1013.0,1308.1 1016.3,1313.1" stroke-width="0.8" fill="#fff" />
<text x="862.0" y="1272.0" font-family="Liberation Serif" font-size="28" font-weight="normal" font-style="italic" text-anchor="start" stroke="none" fill="#fff" >6</text>
<path d="M880,1270 Q900,1280 902,1305" stroke-width="2" fill="none" />
<text x="909.0" y="1262.0" font-family="Liberation Serif" font-size="28" font-weight="normal" font-style="italic" text-anchor="start" stroke="none" fill="#fff" >7</text>
<path d="M924,1262 Q926,1280 924,1325" stroke-width="2" fill="none" />
<text x="1034.0" y="1771.0" font-family="Liberation Sans" font-size="30" font-weight="normal" font-style="normal" text-anchor="start" stroke="none" fill="#fff" >A</text>
<path d="M1022,1744 Q1018,1752 1023,1760" stroke-width="2" fill="none" />
<line x1="869.3" y1="1214.0" x2="939.5" y2="1214.0" stroke-width="4.68" stroke-linecap="round"/>
<circle cx="869.9" cy="1209.9" r="3.0" stroke-width="0" fill="#fff"/>
<line x1="938.4" y1="1214.0" x2="936.6" y2="1222.1" stroke-width="3.51" stroke-linecap="round"/>
<line x1="883.4" y1="1175.1" x2="951.2" y2="1175.1" stroke-width="4.212" stroke-linecap="round"/>
<circle cx="883.4" cy="1179.4" r="3.0" stroke-width="0" fill="#fff"/>
<circle cx="950.1" cy="1178.3" r="2.6" stroke-width="0" fill="#fff"/>
<text x="888.1" y="1204.6" font-family="Liberation Serif" font-size="38.61" font-weight="bold" font-style="italic" text-anchor="start"  fill="#fff" textLength="66.7" lengthAdjust="spacingAndGlyphs" stroke="#fff" stroke-width="1.87">Fig.</text>
<text x="957.1" y="1205.3" font-family="Liberation Sans" font-size="44.459999999999994" font-weight="bold" font-style="normal" text-anchor="start"  fill="#fff" textLength="35.1" lengthAdjust="spacingAndGlyphs" stroke="#fff" stroke-width="0.94">3</text>
</g>
<g stroke="#fff" fill="none" stroke-linecap="round" stroke-linejoin="round">
<clipPath id="f1clip"><polygon points="518,555 609,493 624,491 629,470 1200,470 1200,760 500,760"/></clipPath>
<g clip-path="url(#f1clip)">
<g transform="matrix(1,0.135,0,1,0,0)">
<line x1="632.0" y1="396.0" x2="1036.0" y2="396.0" stroke-width="4" />
<line x1="609.0" y1="411.0" x2="1024.0" y2="411.0" stroke-width="3.5" />
<line x1="622" y1="419" x2="1005" y2="419" stroke-width="7" stroke-linecap="butt"/>
<line x1="640" y1="417.5" x2="1000" y2="417.5" stroke="#312f2f" stroke-width="1.6" stroke-dasharray="3,11,2,17,5,9,2,23,4,13"/>
<line x1="630" y1="421" x2="1000" y2="421" stroke="#312f2f" stroke-width="1.6" stroke-dasharray="6,19,3,12,9,27,2,15"/>
<line x1="700.0" y1="434.0" x2="880.0" y2="434.0" stroke-width="1.5" stroke-dasharray="30,20,50,25"/>
<rect x="554" y="452" width="408" height="14" fill="#fff" stroke="none"/>
<line x1="600" y1="454.8" x2="940" y2="454.8" stroke="#312f2f" stroke-width="1.6" stroke-dasharray="70,6,40,5,90,8"/>
<rect x="522" y="468.8" width="463" height="4.5" fill="#fff" stroke="none"/>
<rect x="522" y="478.2" width="463" height="3.0" fill="#fff" stroke="none"/>
<rect x="522" y="484.7" width="463" height="2.8000000000000114" fill="#fff" stroke="none"/>
<rect x="522" y="491" width="463" height="3.5" fill="#fff" stroke="none"/>
<rect x="522" y="528" width="463" height="5.5" fill="#fff" stroke="none"/>
<rect x="552" y="538" width="433" height="4" fill="#fff" stroke="none"/>
<rect x="552" y="547" width="433" height="4" fill="#fff" stroke="none"/>
<rect x="552" y="556" width="416" height="4" fill="#fff" stroke="none"/>
<rect x="578" y="494" width="347" height="34.5" fill="#fff" stroke="none"/>
<polygon points="585.6,523.5 599.6,523.5 599.6,513.0" stroke-width="0" fill="#312f2f" stroke="none"/>
<line x1="584.8" y1="505.0" x2="599.3" y2="494.8" stroke-width="1.5" stroke="#312f2f"/>
<line x1="584.8" y1="509.6" x2="599.3" y2="499.4" stroke-width="1.5" stroke="#312f2f"/>
<line x1="584.8" y1="514.2" x2="599.3" y2="504.0" stroke-width="1.5" stroke="#312f2f"/>
<line x1="584.8" y1="518.8" x2="593.3" y2="512.8" stroke-width="1.5" stroke="#312f2f"/>
<rect x="603.8" y="495" width="8.5" height="28.6" rx="2" fill="#312f2f" stroke="none"/>
<polygon points="620.8,523.5 634.8,523.5 634.8,513.0" stroke-width="0" fill="#312f2f" stroke="none"/>
<line x1="620.0" y1="505.0" x2="634.5" y2="494.8" stroke-width="1.5" stroke="#312f2f"/>
<line x1="620.0" y1="509.6" x2="634.5" y2="499.4" stroke-width="1.5" stroke="#312f2f"/>
<line x1="620.0" y1="514.2" x2="634.5" y2="504.0" stroke-width="1.5" stroke="#312f2f"/>
<line x1="620.0" y1="518.8" x2="628.5" y2="512.8" stroke-width="1.5" stroke="#312f2f"/>
<rect x="639.0" y="495" width="8.5" height="28.6" rx="2" fill="#312f2f" stroke="none"/>
<polygon points="656.0,523.5 670.0,523.5 670.0,513.0" stroke-width="0" fill="#312f2f" stroke="none"/>
<line x1="655.2" y1="505.0" x2="669.7" y2="494.8" stroke-width="1.5" stroke="#312f2f"/>
<line x1="655.2" y1="509.6" x2="669.7" y2="499.4" stroke-width="1.5" stroke="#312f2f"/>
<line x1="655.2" y1="514.2" x2="669.7" y2="504.0" stroke-width="1.5" stroke="#312f2f"/>
<line x1="655.2" y1="518.8" x2="663.7" y2="512.8" stroke-width="1.5" stroke="#312f2f"/>
<rect x="674.2" y="495" width="8.5" height="28.6" rx="2" fill="#312f2f" stroke="none"/>
<polygon points="691.2,523.5 705.2,523.5 705.2,513.0" stroke-width="0" fill="#312f2f" stroke="none"/>
<line x1="690.4" y1="505.0" x2="704.9" y2="494.8" stroke-width="1.5" stroke="#312f2f"/>
<line x1="690.4" y1="509.6" x2="704.9" y2="499.4" stroke-width="1.5" stroke="#312f2f"/>
<line x1="690.4" y1="514.2" x2="704.9" y2="504.0" stroke-width="1.5" stroke="#312f2f"/>
<line x1="690.4" y1="518.8" x2="698.9" y2="512.8" stroke-width="1.5" stroke="#312f2f"/>
<rect x="709.4" y="495" width="8.5" height="28.6" rx="2" fill="#312f2f" stroke="none"/>
<polygon points="726.4,523.5 740.4,523.5 740.4,513.0" stroke-width="0" fill="#312f2f" stroke="none"/>
<line x1="725.6" y1="505.0" x2="740.1" y2="494.8" stroke-width="1.5" stroke="#312f2f"/>
<line x1="725.6" y1="509.6" x2="740.1" y2="499.4" stroke-width="1.5" stroke="#312f2f"/>
<line x1="725.6" y1="514.2" x2="740.1" y2="504.0" stroke-width="1.5" stroke="#312f2f"/>
<line x1="725.6" y1="518.8" x2="734.1" y2="512.8" stroke-width="1.5" stroke="#312f2f"/>
<rect x="744.6" y="495" width="8.5" height="28.6" rx="2" fill="#312f2f" stroke="none"/>
<polygon points="761.6,523.5 775.6,523.5 775.6,513.0" stroke-width="0" fill="#312f2f" stroke="none"/>
<line x1="760.8" y1="505.0" x2="775.3" y2="494.8" stroke-width="1.5" stroke="#312f2f"/>
<line x1="760.8" y1="509.6" x2="775.3" y2="499.4" stroke-width="1.5" stroke="#312f2f"/>
<line x1="760.8" y1="514.2" x2="775.3" y2="504.0" stroke-width="1.5" stroke="#312f2f"/>
<line x1="760.8" y1="518.8" x2="769.3" y2="512.8" stroke-width="1.5" stroke="#312f2f"/>
<rect x="779.8" y="495" width="8.5" height="28.6" rx="2" fill="#312f2f" stroke="none"/>
<polygon points="796.8,523.5 810.8,523.5 810.8,513.0" stroke-width="0" fill="#312f2f" stroke="none"/>
<line x1="796.0" y1="505.0" x2="810.5" y2="494.8" stroke-width="1.5" stroke="#312f2f"/>
<line x1="796.0" y1="509.6" x2="810.5" y2="499.4" stroke-width="1.5" stroke="#312f2f"/>
<line x1="796.0" y1="514.2" x2="810.5" y2="504.0" stroke-width="1.5" stroke="#312f2f"/>
<line x1="796.0" y1="518.8" x2="804.5" y2="512.8" stroke-width="1.5" stroke="#312f2f"/>
<rect x="815.0" y="495" width="8.5" height="28.6" rx="2" fill="#312f2f" stroke="none"/>
<polygon points="832.0,523.5 846.0,523.5 846.0,513.0" stroke-width="0" fill="#312f2f" stroke="none"/>
<line x1="831.2" y1="505.0" x2="845.7" y2="494.8" stroke-width="1.5" stroke="#312f2f"/>
<line x1="831.2" y1="509.6" x2="845.7" y2="499.4" stroke-width="1.5" stroke="#312f2f"/>
<line x1="831.2" y1="514.2" x2="845.7" y2="504.0" stroke-width="1.5" stroke="#312f2f"/>
<line x1="831.2" y1="518.8" x2="839.7" y2="512.8" stroke-width="1.5" stroke="#312f2f"/>
<rect x="850.2" y="495" width="8.5" height="28.6" rx="2" fill="#312f2f" stroke="none"/>
<polygon points="867.2,523.5 881.2,523.5 881.2,513.0" stroke-width="0" fill="#312f2f" stroke="none"/>
<line x1="866.4" y1="505.0" x2="880.9" y2="494.8" stroke-width="1.5" stroke="#312f2f"/>
<line x1="866.4" y1="509.6" x2="880.9" y2="499.4" stroke-width="1.5" stroke="#312f2f"/>
<line x1="866.4" y1="514.2" x2="880.9" y2="504.0" stroke-width="1.5" stroke="#312f2f"/>
<line x1="866.4" y1="518.8" x2="874.9" y2="512.8" stroke-width="1.5" stroke="#312f2f"/>
<rect x="885.4" y="495" width="8.5" height="28.6" rx="2" fill="#312f2f" stroke="none"/>
<polygon points="902.4,523.5 916.4,523.5 916.4,513.0" stroke-width="0" fill="#312f2f" stroke="none"/>
<line x1="901.6" y1="505.0" x2="916.1" y2="494.8" stroke-width="1.5" stroke="#312f2f"/>
<line x1="901.6" y1="509.6" x2="916.1" y2="499.4" stroke-width="1.5" stroke="#312f2f"/>
<line x1="901.6" y1="514.2" x2="916.1" y2="504.0" stroke-width="1.5" stroke="#312f2f"/>
<line x1="901.6" y1="518.8" x2="910.1" y2="512.8" stroke-width="1.5" stroke="#312f2f"/>
<rect x="523" y="494.5" width="56" height="33.5" fill="#312f2f" stroke="none"/>
<line x1="526.0" y1="499.0" x2="526.0" y2="512.0" stroke-width="1.4" />
<line x1="530.0" y1="499.0" x2="530.0" y2="509.6" stroke-width="1.4" />
<line x1="534.0" y1="499.0" x2="534.0" y2="507.2" stroke-width="1.4" />
<line x1="538.0" y1="499.0" x2="538.0" y2="504.8" stroke-width="1.4" />
<rect x="925" y="494.5" width="58" height="33.5" fill="#312f2f" stroke="none"/>
<line x1="928.0" y1="507.0" x2="928.0" y2="518.0" stroke-width="1.4" />
<line x1="931.5" y1="507.0" x2="931.5" y2="518.0" stroke-width="1.4" />
<line x1="935.0" y1="507.0" x2="935.0" y2="518.0" stroke-width="1.4" />
<line x1="939.0" y1="507.0" x2="939.0" y2="518.0" stroke-width="1.4" />
<line x1="940.0" y1="514.0" x2="944.0" y2="514.0" stroke-width="1.4" />
</g></g>
<path d="M516,555 L609,492.5" stroke-width="5.5" fill="none" />
<path d="M516,555 L516.2,601 L526,604 L527,611 L548,613.5 L551,625 L557,630" stroke-width="4.5" fill="none" />
<line x1="521.5" y1="566.0" x2="521.5" y2="595.0" stroke-width="2.2" stroke="#312f2f"/>
<path d="M609,492.5 L625,491.5 C612,500 600,505 580,517 C572,522 566,526 561,530 L540,544 L532,546 Z" fill="#fff" stroke="#fff" stroke-width="2"/>
<path d="M631,480 L625,491.5" stroke-width="3.5" fill="none" />
<polygon points="537.5,543.5 553.0,533.0 553.0,545.5" stroke-width="0" fill="#312f2f" stroke="none"/>
<path d="M964,602 C966,590 975,577 990,571 C1005,566 1020,560 1032,542 L1036,537 L1043,551 C1030,560 1005,575 985,590 C975,597 968,602 964,604 Z" fill="#fff" stroke="#fff" stroke-width="2"/>
<line x1="968.0" y1="595.0" x2="969.5" y2="603.0" stroke-width="1.6" stroke="#312f2f"/>
<line x1="973.1" y1="591.3" x2="974.6" y2="599.3" stroke-width="1.6" stroke="#312f2f"/>
<line x1="978.2" y1="587.6" x2="979.7" y2="595.6" stroke-width="1.6" stroke="#312f2f"/>
<line x1="983.2" y1="583.9" x2="984.7" y2="591.9" stroke-width="1.6" stroke="#312f2f"/>
<line x1="988.3" y1="580.2" x2="989.8" y2="588.2" stroke-width="1.6" stroke="#312f2f"/>
<line x1="993.4" y1="576.5" x2="994.9" y2="584.5" stroke-width="1.6" stroke="#312f2f"/>
<line x1="998.5" y1="572.8" x2="1000.0" y2="580.8" stroke-width="1.6" stroke="#312f2f"/>
<line x1="1003.5" y1="569.2" x2="1005.0" y2="577.2" stroke-width="1.6" stroke="#312f2f"/>
<line x1="1008.6" y1="565.5" x2="1010.1" y2="573.5" stroke-width="1.6" stroke="#312f2f"/>
<line x1="1013.7" y1="561.8" x2="1015.2" y2="569.8" stroke-width="1.6" stroke="#312f2f"/>
<line x1="1018.8" y1="558.1" x2="1020.3" y2="566.1" stroke-width="1.6" stroke="#312f2f"/>
<line x1="1023.8" y1="554.4" x2="1025.3" y2="562.4" stroke-width="1.6" stroke="#312f2f"/>
<line x1="1028.9" y1="550.7" x2="1030.4" y2="558.7" stroke-width="1.6" stroke="#312f2f"/>
<line x1="1034.0" y1="547.0" x2="1035.5" y2="555.0" stroke-width="1.6" stroke="#312f2f"/>
<path d="M967,606 L1040,559 L1065,559 L986,610" stroke-width="3" fill="none" />
<path d="M992,604 L1060,563" stroke-width="2" fill="none" />
<path d="M985,611 L1073,561 L1081,566 L1081,626 C1080,634 1070,640 1058,640 L1012,665 C1000,675 992,681 986,682 Z" fill="#fff" stroke="#fff" stroke-width="2"/>
<polygon points="1004.0,618.0 1069.0,585.0 1069.0,620.0 1004.0,655.0" stroke-width="0" fill="#312f2f" stroke="none"/>
<line x1="988.0" y1="620.0" x2="988.0" y2="660.0" stroke-width="1.5" stroke="#312f2f"/>
<line x1="992.0" y1="620.0" x2="992.0" y2="660.0" stroke-width="1.5" stroke="#312f2f"/>
<line x1="996.0" y1="620.0" x2="996.0" y2="660.0" stroke-width="1.5" stroke="#312f2f"/>
<line x1="1000.0" y1="620.0" x2="1000.0" y2="660.0" stroke-width="1.5" stroke="#312f2f"/>
<line x1="1006.0" y1="622.0" x2="1006.0" y2="648.0" stroke-width="1.8" />
<line x1="1066.0" y1="591.0" x2="1066.0" y2="605.0" stroke-width="1.8" />
<path d="M990,613 L1070,569" stroke-width="1.6" fill="none" stroke="#312f2f"/>
<path d="M996,640 L1003,636" stroke-width="1.4" fill="none" stroke="#312f2f"/>
<path d="M1014,664 L1075,632" stroke-width="1.8" fill="none" stroke="#312f2f"/>
<path d="M1005,672 L1075,638" stroke-width="1.4" fill="none" stroke="#312f2f"/>
<path d="M1048,650 C1055,646 1062,646 1064,650" stroke-width="2.5" fill="none" />
<path d="M968,682 C975,685 985,684 992,680" stroke-width="3" fill="none" />
<line x1="970.0" y1="676.0" x2="970.0" y2="681.0" stroke-width="1.3" />
<line x1="974.0" y1="676.0" x2="974.0" y2="681.0" stroke-width="1.3" />
<line x1="978.0" y1="676.0" x2="978.0" y2="681.0" stroke-width="1.3" />
<line x1="982.0" y1="676.0" x2="982.0" y2="681.0" stroke-width="1.3" />
<line x1="986.0" y1="676.0" x2="986.0" y2="681.0" stroke-width="1.3" />
<line x1="928" y1="483" x2="842" y2="538" stroke-width="2.2" stroke-dasharray="22,5,4,5"/>
<line x1="870.0" y1="496.0" x2="892.0" y2="498.0" stroke-width="2.5" />
<polygon points="856.0,492.0 873.0,487.0 872.0,499.0" stroke-width="0.5" fill="#fff" />
<text x="916.0" y="516.0" font-family="Liberation Serif" font-size="30" font-weight="bold" font-style="normal" text-anchor="start" stroke="none" fill="#fff" >2</text>
<line x1="700" y1="633" x2="628" y2="680" stroke-width="2.2" stroke-dasharray="22,5,4,5"/>
<line x1="618.0" y1="662.0" x2="640.0" y2="666.0" stroke-width="2.5" />
<polygon points="604.0,658.0 621.0,655.0 619.0,667.0" stroke-width="0.5" fill="#fff" />
<text x="661.0" y="684.0" font-family="Liberation Serif" font-size="30" font-weight="bold" font-style="normal" text-anchor="start" stroke="none" fill="#fff" >2</text>
<text x="992.0" y="510.0" font-family="Liberation Serif" font-size="28" font-weight="normal" font-style="normal" text-anchor="start" stroke="none" fill="#fff" >D</text>
<path d="M1010,518 C1000,530 992,540 982,552" stroke-width="2" fill="none" />
<text x="1092.0" y="524.0" font-family="Liberation Serif" font-size="28" font-weight="bold" font-style="normal" text-anchor="start" stroke="none" fill="#fff" >B</text>
<path d="M1098,528 C1092,540 1085,552 1077,563" stroke-width="2" fill="none" />
<text x="1106.0" y="584.0" font-family="Liberation Serif" font-size="32" font-weight="normal" font-style="italic" text-anchor="start" stroke="none" fill="#fff" >A</text>
<path d="M1108,581 C1100,586 1094,590 1087,592" stroke-width="2" fill="none" />
<text x="828.0" y="712.0" font-family="Liberation Serif" font-size="30" font-weight="normal" font-style="italic" text-anchor="start" stroke="none" fill="#fff" >6</text>
<path d="M809,630 C812,660 815,680 824,690" stroke-width="2" fill="none" />
<path d="M834,640 C830,660 832,680 840,688" stroke-width="2" fill="none" />
<path d="M848,633 C850,655 852,670 858,682" stroke-width="2" fill="none" />
<text x="893.0" y="712.0" font-family="Liberation Serif" font-size="30" font-weight="normal" font-style="italic" text-anchor="start" stroke="none" fill="#fff" >5</text>
<path d="M938,648 C936,670 930,690 918,700" stroke-width="2" fill="none" />
<text x="948.0" y="722.0" font-family="Liberation Serif" font-size="28" font-weight="normal" font-style="normal" text-anchor="start" stroke="none" fill="#fff" >D</text>
<path d="M971,690 C974,684 976,680 978,676" stroke-width="2" fill="none" />
<text x="1018.0" y="700.0" font-family="Liberation Serif" font-size="32" font-weight="normal" font-style="italic" text-anchor="start" stroke="none" fill="#fff" >C</text>
<path d="M1010,683 C1007,676 1010,670 1017,668" stroke-width="2" fill="none" />
<line x1="776.4" y1="439.0" x2="848.4" y2="439.0" stroke-width="4.8" stroke-linecap="round"/>
<circle cx="777.0" cy="434.8" r="3.1" stroke-width="0" fill="#fff"/>
<line x1="847.2" y1="439.0" x2="845.4" y2="447.4" stroke-width="3.5999999999999996" stroke-linecap="round"/>
<line x1="790.8" y1="399.2" x2="860.4" y2="399.2" stroke-width="4.32" stroke-linecap="round"/>
<circle cx="790.8" cy="403.6" r="3.1" stroke-width="0" fill="#fff"/>
<circle cx="859.2" cy="402.4" r="2.6" stroke-width="0" fill="#fff"/>
<text x="783.6" y="429.4" font-family="Liberation Serif" font-size="39.6" font-weight="bold" font-style="italic" text-anchor="start"  fill="#fff" textLength="68.4" lengthAdjust="spacingAndGlyphs" stroke="#fff" stroke-width="1.92">Fig.</text>
<text x="854.4" y="430.1" font-family="Liberation Sans" font-size="45.6" font-weight="bold" font-style="normal" text-anchor="start"  fill="#fff" textLength="18.0" lengthAdjust="spacingAndGlyphs" stroke="#fff" stroke-width="2.64">1</text>
</g>
<g stroke="#fff" fill="none" stroke-linecap="round" stroke-linejoin="round">
<clipPath id="f2c"><path d="M891,948 L928.7,944 L928.7,1029 L880,1027 C890,1020 893,1005 892,995 Z"/></clipPath>
<g clip-path="url(#f2c)">
<rect x="878" y="940" width="52" height="92" fill="#fff" stroke="none"/>
<line x1="730.0" y1="1035.0" x2="820.0" y2="935.0" stroke-width="3.8" stroke="#312f2f" stroke-linecap="butt"/>
<line x1="737.5" y1="1035.0" x2="827.5" y2="935.0" stroke-width="3.8" stroke="#312f2f" stroke-linecap="butt"/>
<line x1="745.0" y1="1035.0" x2="835.0" y2="935.0" stroke-width="3.8" stroke="#312f2f" stroke-linecap="butt"/>
<line x1="752.5" y1="1035.0" x2="842.5" y2="935.0" stroke-width="3.8" stroke="#312f2f" stroke-linecap="butt"/>
<line x1="760.0" y1="1035.0" x2="850.0" y2="935.0" stroke-width="3.8" stroke="#312f2f" stroke-linecap="butt"/>
<line x1="767.5" y1="1035.0" x2="857.5" y2="935.0" stroke-width="3.8" stroke="#312f2f" stroke-linecap="butt"/>
<line x1="775.0" y1="1035.0" x2="865.0" y2="935.0" stroke-width="3.8" stroke="#312f2f" stroke-linecap="butt"/>
<line x1="782.5" y1="1035.0" x2="872.5" y2="935.0" stroke-width="3.8" stroke="#312f2f" stroke-linecap="butt"/>
<line x1="790.0" y1="1035.0" x2="880.0" y2="935.0" stroke-width="3.8" stroke="#312f2f" stroke-linecap="butt"/>
<line x1="797.5" y1="1035.0" x2="887.5" y2="935.0" stroke-width="3.8" stroke="#312f2f" stroke-linecap="butt"/>
<line x1="805.0" y1="1035.0" x2="895.0" y2="935.0" stroke-width="3.8" stroke="#312f2f" stroke-linecap="butt"/>
<line x1="812.5" y1="1035.0" x2="902.5" y2="935.0" stroke-width="3.8" stroke="#312f2f" stroke-linecap="butt"/>
<line x1="820.0" y1="1035.0" x2="910.0" y2="935.0" stroke-width="3.8" stroke="#312f2f" stroke-linecap="butt"/>
<line x1="827.5" y1="1035.0" x2="917.5" y2="935.0" stroke-width="3.8" stroke="#312f2f" stroke-linecap="butt"/>
<line x1="835.0" y1="1035.0" x2="925.0" y2="935.0" stroke-width="3.8" stroke="#312f2f" stroke-linecap="butt"/>
<line x1="842.5" y1="1035.0" x2="932.5" y2="935.0" stroke-width="3.8" stroke="#312f2f" stroke-linecap="butt"/>
<line x1="850.0" y1="1035.0" x2="940.0" y2="935.0" stroke-width="3.8" stroke="#312f2f" stroke-linecap="butt"/>
<line x1="857.5" y1="1035.0" x2="947.5" y2="935.0" stroke-width="3.8" stroke="#312f2f" stroke-linecap="butt"/>
<line x1="865.0" y1="1035.0" x2="955.0" y2="935.0" stroke-width="3.8" stroke="#312f2f" stroke-linecap="butt"/>
<line x1="872.5" y1="1035.0" x2="962.5" y2="935.0" stroke-width="3.8" stroke="#312f2f" stroke-linecap="butt"/>
<line x1="880.0" y1="1035.0" x2="970.0" y2="935.0" stroke-width="3.8" stroke="#312f2f" stroke-linecap="butt"/>
<line x1="887.5" y1="1035.0" x2="977.5" y2="935.0" stroke-width="3.8" stroke="#312f2f" stroke-linecap="butt"/>
<line x1="895.0" y1="1035.0" x2="985.0" y2="935.0" stroke-width="3.8" stroke="#312f2f" stroke-linecap="butt"/>
<line x1="902.5" y1="1035.0" x2="992.5" y2="935.0" stroke-width="3.8" stroke="#312f2f" stroke-linecap="butt"/>
<line x1="910.0" y1="1035.0" x2="1000.0" y2="935.0" stroke-width="3.8" stroke="#312f2f" stroke-linecap="butt"/>
<line x1="917.5" y1="1035.0" x2="1007.5" y2="935.0" stroke-width="3.8" stroke="#312f2f" stroke-linecap="butt"/>
<line x1="925.0" y1="1035.0" x2="1015.0" y2="935.0" stroke-width="3.8" stroke="#312f2f" stroke-linecap="butt"/>
<line x1="932.5" y1="1035.0" x2="1022.5" y2="935.0" stroke-width="3.8" stroke="#312f2f" stroke-linecap="butt"/>
<line x1="940.0" y1="1035.0" x2="1030.0" y2="935.0" stroke-width="3.8" stroke="#312f2f" stroke-linecap="butt"/>
<line x1="947.5" y1="1035.0" x2="1037.5" y2="935.0" stroke-width="3.8" stroke="#312f2f" stroke-linecap="butt"/>
<line x1="955.0" y1="1035.0" x2="1045.0" y2="935.0" stroke-width="3.8" stroke="#312f2f" stroke-linecap="butt"/>
<line x1="962.5" y1="1035.0" x2="1052.5" y2="935.0" stroke-width="3.8" stroke="#312f2f" stroke-linecap="butt"/>
<line x1="970.0" y1="1035.0" x2="1060.0" y2="935.0" stroke-width="3.8" stroke="#312f2f" stroke-linecap="butt"/>
<line x1="977.5" y1="1035.0" x2="1067.5" y2="935.0" stroke-width="3.8" stroke="#312f2f" stroke-linecap="butt"/>
<line x1="985.0" y1="1035.0" x2="1075.0" y2="935.0" stroke-width="3.8" stroke="#312f2f" stroke-linecap="butt"/>
<line x1="992.5" y1="1035.0" x2="1082.5" y2="935.0" stroke-width="3.8" stroke="#312f2f" stroke-linecap="butt"/>
<line x1="1000.0" y1="1035.0" x2="1090.0" y2="935.0" stroke-width="3.8" stroke="#312f2f" stroke-linecap="butt"/>
<line x1="1007.5" y1="1035.0" x2="1097.5" y2="935.0" stroke-width="3.8" stroke="#312f2f" stroke-linecap="butt"/>
<line x1="1015.0" y1="1035.0" x2="1105.0" y2="935.0" stroke-width="3.8" stroke="#312f2f" stroke-linecap="butt"/>
<line x1="1022.5" y1="1035.0" x2="1112.5" y2="935.0" stroke-width="3.8" stroke="#312f2f" stroke-linecap="butt"/>
</g>
<path d="M715.2,944.8 L715.2,1019.7" stroke-width="4" fill="none" />
<path d="M928.7,937 L928.7,1033.5" stroke-width="4" fill="none" />
<path d="M715,943 L929,937 L929,949 L715,955 Z" fill="#fff" stroke="none"/>
<line x1="718.0" y1="945.4" x2="722.0" y2="952.4" stroke-width="2.2" stroke="#312f2f"/>
<line x1="725.2" y1="945.2" x2="729.2" y2="952.2" stroke-width="2.2" stroke="#312f2f"/>
<line x1="732.4" y1="945.0" x2="736.4" y2="952.0" stroke-width="2.2" stroke="#312f2f"/>
<line x1="739.6" y1="944.8" x2="743.6" y2="951.8" stroke-width="2.2" stroke="#312f2f"/>
<line x1="746.8" y1="944.6" x2="750.8" y2="951.6" stroke-width="2.2" stroke="#312f2f"/>
<line x1="754.0" y1="944.4" x2="758.0" y2="951.4" stroke-width="2.2" stroke="#312f2f"/>
<line x1="761.2" y1="944.2" x2="765.2" y2="951.2" stroke-width="2.2" stroke="#312f2f"/>
<line x1="768.4" y1="944.0" x2="772.4" y2="951.0" stroke-width="2.2" stroke="#312f2f"/>
<line x1="854.8" y1="941.6" x2="858.8" y2="948.6" stroke-width="2.2" stroke="#312f2f"/>
<line x1="862.0" y1="941.4" x2="866.0" y2="948.4" stroke-width="2.2" stroke="#312f2f"/>
<line x1="869.2" y1="941.2" x2="873.2" y2="948.2" stroke-width="2.2" stroke="#312f2f"/>
<line x1="876.4" y1="941.0" x2="880.4" y2="948.0" stroke-width="2.2" stroke="#312f2f"/>
<line x1="883.6" y1="940.8" x2="887.6" y2="947.8" stroke-width="2.2" stroke="#312f2f"/>
<line x1="890.8" y1="940.6" x2="894.8" y2="947.6" stroke-width="2.2" stroke="#312f2f"/>
<line x1="898.0" y1="940.4" x2="902.0" y2="947.4" stroke-width="2.2" stroke="#312f2f"/>
<line x1="905.2" y1="940.2" x2="909.2" y2="947.2" stroke-width="2.2" stroke="#312f2f"/>
<line x1="912.4" y1="940.0" x2="916.4" y2="947.0" stroke-width="2.2" stroke="#312f2f"/>
<line x1="919.6" y1="939.8" x2="923.6" y2="946.8" stroke-width="2.2" stroke="#312f2f"/>
<line x1="926.8" y1="939.6" x2="930.8" y2="946.6" stroke-width="2.2" stroke="#312f2f"/>
<rect x="770" y="944" width="80" height="8" fill="#312f2f" stroke="none"/>
<line x1="764.0" y1="944.5" x2="764.0" y2="951.5" stroke-width="2" />
<line x1="768.0" y1="944.5" x2="768.0" y2="951.5" stroke-width="2" />
<line x1="772.0" y1="944.5" x2="772.0" y2="951.5" stroke-width="2" />
<line x1="776.0" y1="944.5" x2="776.0" y2="951.5" stroke-width="2" />
<line x1="780.0" y1="944.5" x2="780.0" y2="951.5" stroke-width="2" />
<line x1="784.0" y1="944.5" x2="784.0" y2="951.5" stroke-width="2" />
<line x1="788.0" y1="944.5" x2="788.0" y2="951.5" stroke-width="2" />
<line x1="792.0" y1="944.5" x2="792.0" y2="951.5" stroke-width="2" />
<line x1="796.0" y1="944.5" x2="796.0" y2="951.5" stroke-width="2" />
<line x1="800.0" y1="944.5" x2="800.0" y2="951.5" stroke-width="2" />
<path d="M716,955 L929,949 L929,960 L890,961 C860,962 820,964 716,966 Z" fill="#fff" stroke="none"/>
<line x1="815.0" y1="954.5" x2="818.0" y2="959.5" stroke-width="1.8" stroke="#312f2f"/>
<line x1="820.0" y1="954.5" x2="823.0" y2="959.5" stroke-width="1.8" stroke="#312f2f"/>
<line x1="825.0" y1="954.5" x2="828.0" y2="959.5" stroke-width="1.8" stroke="#312f2f"/>
<line x1="830.0" y1="954.5" x2="833.0" y2="959.5" stroke-width="1.8" stroke="#312f2f"/>
<line x1="835.0" y1="954.5" x2="838.0" y2="959.5" stroke-width="1.8" stroke="#312f2f"/>
<line x1="840.0" y1="954.5" x2="843.0" y2="959.5" stroke-width="1.8" stroke="#312f2f"/>
<line x1="845.0" y1="954.5" x2="848.0" y2="959.5" stroke-width="1.8" stroke="#312f2f"/>
<line x1="850.0" y1="954.5" x2="853.0" y2="959.5" stroke-width="1.8" stroke="#312f2f"/>
<line x1="855.0" y1="954.5" x2="858.0" y2="959.5" stroke-width="1.8" stroke="#312f2f"/>
<line x1="860.0" y1="954.5" x2="863.0" y2="959.5" stroke-width="1.8" stroke="#312f2f"/>
<line x1="865.0" y1="954.5" x2="868.0" y2="959.5" stroke-width="1.8" stroke="#312f2f"/>
<line x1="870.0" y1="954.5" x2="873.0" y2="959.5" stroke-width="1.8" stroke="#312f2f"/>
<line x1="875.0" y1="954.5" x2="878.0" y2="959.5" stroke-width="1.8" stroke="#312f2f"/>
<line x1="880.0" y1="954.5" x2="883.0" y2="959.5" stroke-width="1.8" stroke="#312f2f"/>
<line x1="885.0" y1="954.5" x2="888.0" y2="959.5" stroke-width="1.8" stroke="#312f2f"/>
<path d="M716,966 L880,963 C889,963 891,968 891,975 L891,994 C891,1002 886,1004 878,1004" stroke-width="4" fill="none" />
<line x1="714.0" y1="983.6" x2="727.0" y2="983.6" stroke-width="3" />
<polygon points="735.0,983.6 723.0,978.0 723.0,989.2" stroke-width="0.5" fill="#fff" />
<line x1="752.0" y1="983.6" x2="764.0" y2="983.6" stroke-width="3" />
<polygon points="772.0,983.6 760.0,978.0 760.0,989.2" stroke-width="0.5" fill="#fff" />
<line x1="788.0" y1="983.6" x2="804.0" y2="983.6" stroke-width="3" />
<polygon points="812.0,983.6 800.0,978.0 800.0,989.2" stroke-width="0.5" fill="#fff" />
<line x1="830.0" y1="983.6" x2="847.0" y2="983.6" stroke-width="3" />
<polygon points="855.0,983.6 843.0,978.0 843.0,989.2" stroke-width="0.5" fill="#fff" />
<path d="M864,983 C875,982 882,976 884,966" stroke-width="3" fill="none" />
<polygon points="886.0,960.0 880.0,970.0 888.0,970.0" stroke-width="0.5" fill="#fff" />
<path d="M720,964 C726,964 728,968 726,972" stroke-width="2" fill="none" />
<path d="M746,1004 C755,996 765,990 780,990 C800,990 820,998 850,1001 C865,1003 875,1004 886,1004 C900,1004 915,1000 926,995" stroke-width="9" fill="none" />
<path d="M746,1004 C755,996 765,990 780,990 C800,990 820,998 850,1001 C865,1003 875,1004 886,1004 C900,1004 915,1000 926,995" stroke-width="3.78" fill="none" stroke="#312f2f" stroke-dasharray="3,5,2,5" stroke-linecap="butt"/>
<path d="M715,1009 L929,1016 L929,1028 L715,1021 Z" fill="#fff" stroke="none"/>
<line x1="718.0" y1="1011.1" x2="722.0" y2="1018.1" stroke-width="2.2" stroke="#312f2f"/>
<line x1="725.2" y1="1011.3" x2="729.2" y2="1018.3" stroke-width="2.2" stroke="#312f2f"/>
<line x1="732.4" y1="1011.6" x2="736.4" y2="1018.6" stroke-width="2.2" stroke="#312f2f"/>
<line x1="739.6" y1="1011.8" x2="743.6" y2="1018.8" stroke-width="2.2" stroke="#312f2f"/>
<line x1="746.8" y1="1012.0" x2="750.8" y2="1019.0" stroke-width="2.2" stroke="#312f2f"/>
<line x1="754.0" y1="1012.3" x2="758.0" y2="1019.3" stroke-width="2.2" stroke="#312f2f"/>
<line x1="761.2" y1="1012.5" x2="765.2" y2="1019.5" stroke-width="2.2" stroke="#312f2f"/>
<line x1="898.0" y1="1017.0" x2="902.0" y2="1024.0" stroke-width="2.2" stroke="#312f2f"/>
<line x1="905.2" y1="1017.3" x2="909.2" y2="1024.3" stroke-width="2.2" stroke="#312f2f"/>
<line x1="912.4" y1="1017.5" x2="916.4" y2="1024.5" stroke-width="2.2" stroke="#312f2f"/>
<line x1="919.6" y1="1017.8" x2="923.6" y2="1024.8" stroke-width="2.2" stroke="#312f2f"/>
<line x1="926.8" y1="1018.0" x2="930.8" y2="1025.0" stroke-width="2.2" stroke="#312f2f"/>
<rect x="800" y="1013.5" width="92" height="8" fill="#312f2f" stroke="none" transform="rotate(1.9 800 1013)"/>
<line x1="765.0" y1="1012.1" x2="765.0" y2="1020.1" stroke-width="2" />
<line x1="769.0" y1="1012.3" x2="769.0" y2="1020.3" stroke-width="2" />
<line x1="773.0" y1="1012.4" x2="773.0" y2="1020.4" stroke-width="2" />
<line x1="777.0" y1="1012.5" x2="777.0" y2="1020.5" stroke-width="2" />
<line x1="781.0" y1="1012.7" x2="781.0" y2="1020.7" stroke-width="2" />
<line x1="785.0" y1="1012.8" x2="785.0" y2="1020.8" stroke-width="2" />
<line x1="789.0" y1="1012.9" x2="789.0" y2="1020.9" stroke-width="2" />
<line x1="793.0" y1="1013.1" x2="793.0" y2="1021.1" stroke-width="2" />
<line x1="797.0" y1="1013.2" x2="797.0" y2="1021.2" stroke-width="2" />
<path d="M732,1024 C760,1030 790,1036 820,1037 C850,1038 870,1033 900,1032 L929,1031" stroke-width="8" fill="none" />
<path d="M732,1024 C760,1030 790,1036 820,1037 C850,1038 870,1033 900,1032 L929,1031" stroke-width="3.36" fill="none" stroke="#312f2f" stroke-dasharray="3,5" stroke-linecap="butt"/>
<path d="M726,942 C722,920 732,903 750,898 C770,895 790,903 810,909 C835,913 855,911 875,906 C895,901 910,895 930,884" stroke-width="10" fill="none" />
<path d="M726,942 C722,920 732,903 750,898 C770,895 790,903 810,909 C835,913 855,911 875,906 C895,901 910,895 930,884" stroke-width="4.2" fill="none" stroke="#312f2f" stroke-dasharray="3,5,2,6" stroke-linecap="butt"/>
<path d="M918,892 L934,880 L942,890 L920,915 L913,935 L905,935 Z" fill="#fff" stroke="#fff" stroke-width="2"/>
<line x1="918.0" y1="897.0" x2="922.0" y2="895.0" stroke-width="1.5" stroke="#312f2f"/>
<line x1="921.2" y1="895.2" x2="925.2" y2="893.2" stroke-width="1.5" stroke="#312f2f"/>
<line x1="924.4" y1="893.4" x2="928.4" y2="891.4" stroke-width="1.5" stroke="#312f2f"/>
<line x1="927.6" y1="891.6" x2="931.6" y2="889.6" stroke-width="1.5" stroke="#312f2f"/>
<line x1="930.8" y1="889.8" x2="934.8" y2="887.8" stroke-width="1.5" stroke="#312f2f"/>
<line x1="934.0" y1="888.0" x2="938.0" y2="886.0" stroke-width="1.5" stroke="#312f2f"/>
<path d="M870,915 C885,913 897,918 900,935" stroke-width="3" fill="none" />
<line x1="740.0" y1="913.0" x2="812.0" y2="913.0" stroke-width="1.6" />
<line x1="740.0" y1="916.0" x2="805.1" y2="916.0" stroke-width="1.6" />
<line x1="740.0" y1="919.0" x2="798.2" y2="919.0" stroke-width="1.6" />
<line x1="740.0" y1="922.0" x2="791.3" y2="922.0" stroke-width="1.6" />
<line x1="740.0" y1="925.0" x2="784.4" y2="925.0" stroke-width="1.6" />
<line x1="740.0" y1="928.0" x2="777.5" y2="928.0" stroke-width="1.6" />
<line x1="745.0" y1="931.0" x2="770.6" y2="931.0" stroke-width="1.6" />
<line x1="745.0" y1="934.0" x2="763.7" y2="934.0" stroke-width="1.6" />
<line x1="745.0" y1="937.0" x2="756.8" y2="937.0" stroke-width="1.6" />
<line x1="745.0" y1="940.0" x2="749.9" y2="940.0" stroke-width="1.6" />
<line x1="904.0" y1="903.0" x2="916.0" y2="903.0" stroke-width="1.5" />
<line x1="904.0" y1="906.0" x2="915.7" y2="906.0" stroke-width="1.5" />
<line x1="904.0" y1="909.0" x2="915.4" y2="909.0" stroke-width="1.5" />
<line x1="904.0" y1="912.0" x2="915.1" y2="912.0" stroke-width="1.5" />
<line x1="904.0" y1="915.0" x2="914.8" y2="915.0" stroke-width="1.5" />
<line x1="904.0" y1="918.0" x2="914.5" y2="918.0" stroke-width="1.5" />
<line x1="904.0" y1="921.0" x2="914.2" y2="921.0" stroke-width="1.5" />
<line x1="904.0" y1="924.0" x2="913.9" y2="924.0" stroke-width="1.5" />
<line x1="904.0" y1="927.0" x2="913.6" y2="927.0" stroke-width="1.5" />
<line x1="904.0" y1="930.0" x2="913.3" y2="930.0" stroke-width="1.5" />
<line x1="904.0" y1="933.0" x2="913.0" y2="933.0" stroke-width="1.5" />
<path d="M724,1021 C722,1040 730,1055 750,1060 C775,1065 800,1064 825,1061 C850,1057 870,1057 890,1063 C905,1068 920,1075 936,1083" stroke-width="10" fill="none" />
<path d="M724,1021 C722,1040 730,1055 750,1060 C775,1065 800,1064 825,1061 C850,1057 870,1057 890,1063 C905,1068 920,1075 936,1083" stroke-width="4.2" fill="none" stroke="#312f2f" stroke-dasharray="3,5,2,6" stroke-linecap="butt"/>
<path d="M930,1076 L938,1079 L934,1090 L926,1086" stroke-width="3" fill="none" />
<path d="M792,1049 L760,1048 C748,1047 744,1040 745,1030" stroke-width="3" fill="none" />
<polygon points="752.0,1048.0 766.0,1043.0 766.0,1053.0" stroke-width="0.5" fill="#fff" />
<polygon points="745.0,1024.0 741.0,1034.0 749.0,1034.0" stroke-width="0.5" fill="#fff" />
<line x1="895.0" y1="1046.0" x2="910.0" y2="1046.0" stroke-width="1.5" />
<line x1="895.0" y1="1049.0" x2="910.0" y2="1049.0" stroke-width="1.5" />
<line x1="895.0" y1="1052.0" x2="910.0" y2="1052.0" stroke-width="1.5" />
<line x1="895.0" y1="1055.0" x2="910.0" y2="1055.0" stroke-width="1.5" />
<line x1="895.0" y1="1058.0" x2="910.0" y2="1058.0" stroke-width="1.5" />
<line x1="895.0" y1="1061.0" x2="910.0" y2="1061.0" stroke-width="1.5" />
<line x1="810.0" y1="940.0" x2="807.0" y2="965.0" stroke-width="2" />
<line x1="870.0" y1="915.0" x2="860.0" y2="948.0" stroke-width="2" />
<line x1="818.0" y1="1038.0" x2="816.0" y2="1062.0" stroke-width="2" />
<line x1="861.0" y1="1034.0" x2="861.0" y2="1058.0" stroke-width="2" />
<text x="716.0" y="900.0" font-family="Liberation Serif" font-size="26" font-weight="normal" font-style="italic" text-anchor="start" stroke="none" fill="#fff" >2b</text>
<text x="793.0" y="885.0" font-family="Liberation Serif" font-size="26" font-weight="normal" font-style="italic" text-anchor="start" stroke="none" fill="#fff" >8</text>
<text x="837.0" y="883.0" font-family="Liberation Serif" font-size="24" font-weight="normal" font-style="normal" text-anchor="start" stroke="none" fill="#fff" >D</text>
<text x="862.0" y="889.0" font-family="Liberation Serif" font-size="26" font-weight="normal" font-style="italic" text-anchor="start" stroke="none" fill="#fff" >2a</text>
<text x="905.0" y="881.0" font-family="Liberation Serif" font-size="26" font-weight="normal" font-style="italic" text-anchor="start" stroke="none" fill="#fff" >2</text>
<text x="954.0" y="902.0" font-family="Liberation Serif" font-size="26" font-weight="normal" font-style="italic" text-anchor="start" stroke="none" fill="#fff" >16</text>
<text x="677.0" y="923.0" font-family="Liberation Serif" font-size="26" font-weight="normal" font-style="italic" text-anchor="start" stroke="none" fill="#fff" >15</text>
<text x="954.0" y="933.0" font-family="Liberation Serif" font-size="24" font-weight="normal" font-style="normal" text-anchor="start" stroke="none" fill="#fff" >B</text>
<text x="954.0" y="963.0" font-family="Liberation Serif" font-size="26" font-weight="normal" font-style="italic" text-anchor="start" stroke="none" fill="#fff" >10</text>
<text x="657.0" y="973.0" font-family="Liberation Serif" font-size="28" font-weight="normal" font-style="italic" text-anchor="start" stroke="none" fill="#fff" >6</text>
<text x="954.0" y="994.0" font-family="Liberation Serif" font-size="26" font-weight="normal" font-style="normal" text-anchor="start" stroke="none" fill="#fff" >A</text>
<text x="661.0" y="1027.0" font-family="Liberation Serif" font-size="28" font-weight="normal" font-style="italic" text-anchor="start" stroke="none" fill="#fff" >5</text>
<text x="954.0" y="1034.0" font-family="Liberation Serif" font-size="26" font-weight="normal" font-style="normal" text-anchor="start" stroke="none" fill="#fff" >C</text>
<text x="684.0" y="1071.0" font-family="Liberation Serif" font-size="26" font-weight="normal" font-style="italic" text-anchor="start" stroke="none" fill="#fff" >11</text>
<text x="954.0" y="1065.0" font-family="Liberation Serif" font-size="26" font-weight="normal" font-style="italic" text-anchor="start" stroke="none" fill="#fff" >2b</text>
<text x="785.0" y="1110.0" font-family="Liberation Serif" font-size="26" font-weight="normal" font-style="italic" text-anchor="start" stroke="none" fill="#fff" >92</text>
<text x="828.0" y="1113.0" font-family="Liberation Serif" font-size="26" font-weight="normal" font-style="normal" text-anchor="start" stroke="none" fill="#fff" >D</text>
<text x="864.0" y="1108.0" font-family="Liberation Serif" font-size="28" font-weight="normal" font-style="italic" text-anchor="start" stroke="none" fill="#fff" >7</text>
<text x="888.0" y="1113.0" font-family="Liberation Serif" font-size="26" font-weight="normal" font-style="italic" text-anchor="start" stroke="none" fill="#fff" >2a</text>
<path d="M740,900 C745,905 748,908 752,912" stroke-width="1.8" fill="none" />
<path d="M805,888 C806,900 806,910 806,922" stroke-width="1.8" fill="none" />
<path d="M855,886 C850,895 845,905 840,912" stroke-width="1.8" fill="none" />
<path d="M880,890 C875,900 870,910 866,917" stroke-width="1.8" fill="none" />
<path d="M916,882 C910,890 905,895 902,900" stroke-width="1.8" fill="none" />
<path d="M958,888 C945,895 938,905 936,915" stroke-width="1.8" fill="none" />
<path d="M694,922 C698,935 704,942 713,946" stroke-width="1.8" fill="none" />
<path d="M955,925 C945,930 938,933 930,936" stroke-width="1.8" fill="none" />
<path d="M955,950 C945,952 938,953 931,954" stroke-width="1.8" fill="none" />
<path d="M675,962 L713,963" stroke-width="1.8" fill="none" />
<path d="M955,985 C945,985 938,986 931,987" stroke-width="1.8" fill="none" />
<path d="M684,1018 C695,1017 705,1017 713,1016" stroke-width="1.8" fill="none" />
<path d="M955,1025 C945,1027 938,1029 931,1031" stroke-width="1.8" fill="none" />
<path d="M695,1048 C700,1040 708,1030 720,1025" stroke-width="1.8" fill="none" />
<path d="M955,1052 C945,1050 935,1046 928,1044" stroke-width="1.8" fill="none" />
<path d="M797,1090 C797,1080 797,1070 797,1060" stroke-width="1.8" fill="none" />
<path d="M812,1090 C812,1080 812,1070 812,1062" stroke-width="1.8" fill="none" />
<path d="M840,1093 C845,1080 850,1070 855,1062" stroke-width="1.8" fill="none" />
<path d="M868,1090 C866,1080 864,1070 864,1060" stroke-width="1.8" fill="none" />
<path d="M895,1094 C893,1082 890,1072 888,1064" stroke-width="1.8" fill="none" />
<line x1="759.5" y1="826.0" x2="835.7" y2="826.0" stroke-width="5.08" stroke-linecap="round"/>
<circle cx="760.2" cy="821.5" r="3.3" stroke-width="0" fill="#fff"/>
<line x1="834.5" y1="826.0" x2="832.6" y2="834.8" stroke-width="3.81" stroke-linecap="round"/>
<line x1="774.8" y1="783.8" x2="848.4" y2="783.8" stroke-width="4.572" stroke-linecap="round"/>
<circle cx="774.8" cy="788.5" r="3.3" stroke-width="0" fill="#fff"/>
<circle cx="847.2" cy="787.2" r="2.8" stroke-width="0" fill="#fff"/>
<text x="779.9" y="815.8" font-family="Liberation Serif" font-size="41.910000000000004" font-weight="bold" font-style="italic" text-anchor="start"  fill="#fff" textLength="72.4" lengthAdjust="spacingAndGlyphs" stroke="#fff" stroke-width="2.03">Fig.</text>
<text x="854.8" y="816.6" font-family="Liberation Sans" font-size="48.26" font-weight="bold" font-style="normal" text-anchor="start"  fill="#fff" textLength="40.6" lengthAdjust="spacingAndGlyphs" stroke="#fff" stroke-width="1.02">2</text>
</g>
<g stroke="none" fill="#fff">
<text x="1352.0" y="1697.0" font-family="Liberation Serif" font-size="21" font-weight="bold" font-style="italic" text-anchor="start" stroke="none" fill="#fff" textLength="106" lengthAdjust="spacingAndGlyphs">INVENTOR.</text>
<text x="1277" y="1722" font-family="Liberation Sans" font-weight="bold" fill="#fff" textLength="192" lengthAdjust="spacingAndGlyphs"><tspan font-size="29">F</tspan><tspan font-size="22">INN </tspan><tspan font-size="29" font-family="Liberation Serif">H.M</tspan><tspan font-size="22">AGNUS</tspan></text>
<text x="1191.0" y="1753.0" font-family="Liberation Serif" font-size="21" font-weight="bold" font-style="italic" text-anchor="start" stroke="none" fill="#fff" textLength="28" lengthAdjust="spacingAndGlyphs">BY</text>
<text x="1282" y="1837" font-family="Liberation Sans" font-weight="bold" fill="#fff" textLength="140" lengthAdjust="spacingAndGlyphs"><tspan font-size="30">A</tspan><tspan font-size="24">TTORNEY.</tspan></text>
</g>
<g stroke="#fff" fill="none" stroke-width="2.6" stroke-linecap="round" stroke-linejoin="round">
<path d="M1282,1757 C1276,1765 1265,1779 1256,1791 C1251,1798 1248,1802 1246,1804"/>
<path d="M1258,1771 C1250,1780 1243,1790 1237,1797 C1233,1802 1229,1805 1226,1806"/>
<path d="M1224,1807.5 C1232,1805 1241,1803 1249,1800"/>
<path d="M1236,1789 C1243,1786 1250,1784 1257,1782"/>
<path d="M1249,1800 C1252,1793 1256,1788 1259,1791 C1261,1794 1260,1799 1263,1796 C1266,1790 1269,1787 1272,1790 C1274,1793 1275,1795 1278,1791 C1280,1788 1283,1787 1284,1791 C1285,1794 1286,1794 1289,1790 C1291,1787 1294,1786 1296,1788 C1298,1789 1302,1787 1306,1784"/>
<path d="M1306,1786 C1304,1793 1298,1801 1292,1808 C1288,1813 1285,1817 1286,1813 C1288,1808 1293,1803 1298,1799"/>
<path d="M1322,1795 C1328,1788 1334,1780 1339,1774 C1340,1780 1340,1786 1342,1789"/>
<path d="M1342,1789 C1346,1786 1350,1782 1349,1779 C1346,1778 1344,1784 1347,1787 C1352,1789 1360,1788 1366,1786 C1376,1776 1390,1754 1399,1744 C1404,1740 1404,1748 1399,1756 C1393,1766 1386,1776 1383,1783"/>
<path d="M1374,1782 C1373,1776 1381,1774 1382,1779 C1383,1784 1375,1786 1374,1782"/>
<path d="M1383,1781 C1382,1775 1390,1773 1391,1778 C1392,1783 1384,1785 1383,1781"/>
<path d="M1391,1779 C1394,1778 1397,1777 1399,1776"/>
<path d="M1406,1754 C1403,1762 1400,1772 1399,1781"/>
<path d="M1400,1770 C1406,1764 1414,1763 1412,1769 C1410,1774 1404,1775 1402,1773 C1406,1776 1408,1779 1410,1783"/>
</g>
</svg>
</body></html>
